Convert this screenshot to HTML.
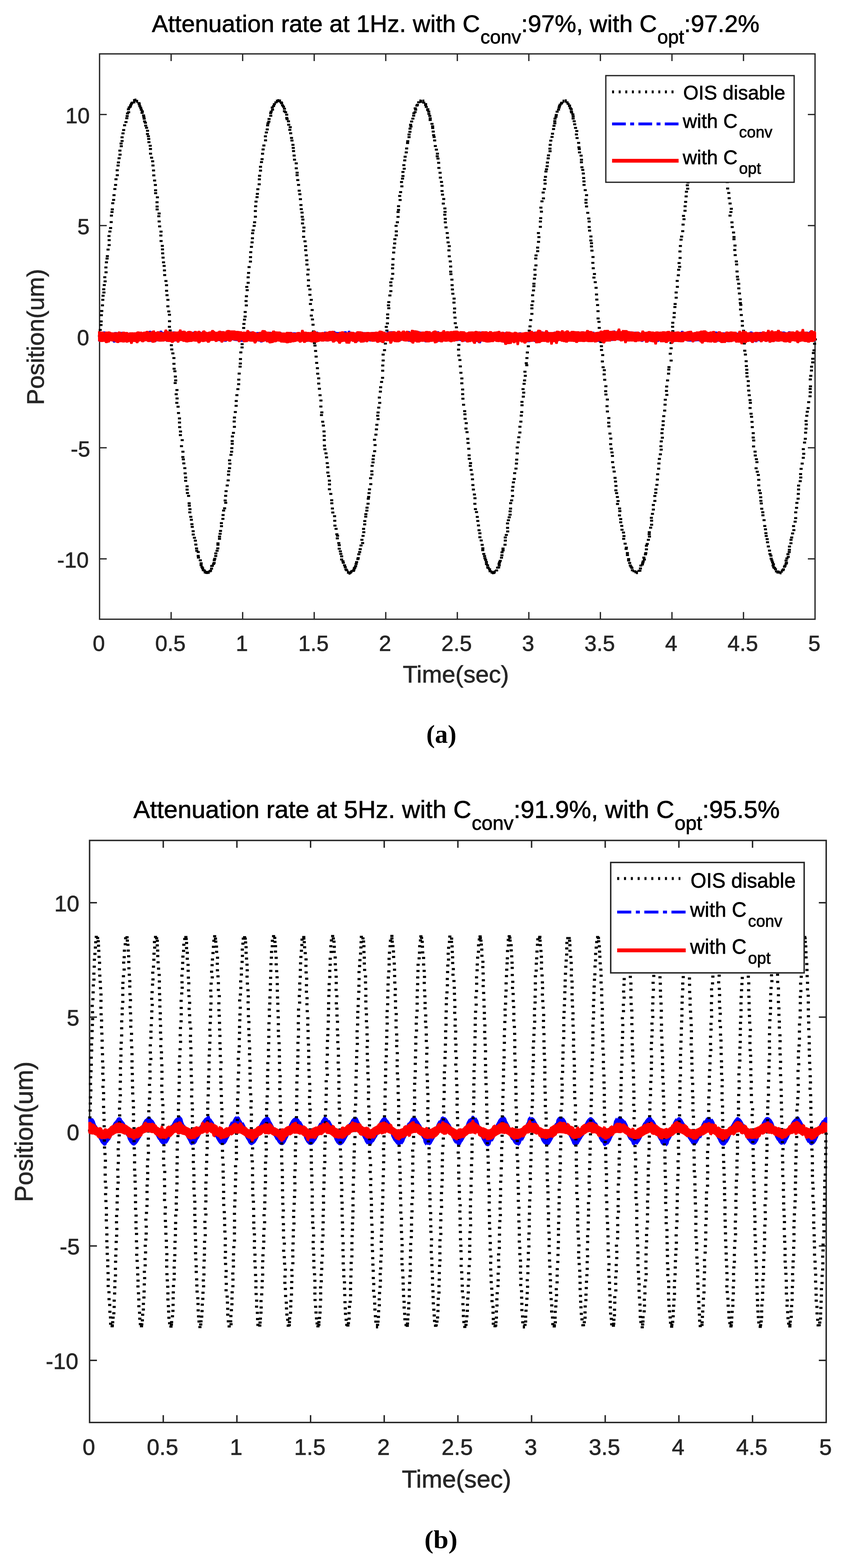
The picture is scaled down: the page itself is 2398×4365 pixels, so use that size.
<!DOCTYPE html>
<html><head><meta charset="utf-8"><title>Attenuation rate plots</title>
<style>html,body{margin:0;padding:0;background:#fff;} svg{display:block;} text{font-family:'Liberation Sans', Arial, Helvetica, sans-serif;stroke-width:1px;} text.k{stroke:#000;} text.g{stroke:#262626;} text.cap{font-family:'Liberation Serif','Times New Roman',serif;font-weight:bold;}</style></head>
<body><svg width="2398" height="4365" viewBox="0 0 2398 4365">
<rect width="2398" height="4365" fill="#fff"/>
<rect x="277.3" y="150.0" width="1992.7" height="1573.8" fill="none" stroke="#262626" stroke-width="3.6" stroke-linejoin="miter"/>
<path d="M476.6 1723.8V1703.8M476.6 150.0V170.0M675.8 1723.8V1703.8M675.8 150.0V170.0M875.1 1723.8V1703.8M875.1 150.0V170.0M1074.4 1723.8V1703.8M1074.4 150.0V170.0M1273.7 1723.8V1703.8M1273.7 150.0V170.0M1472.9 1723.8V1703.8M1472.9 150.0V170.0M1672.2 1723.8V1703.8M1672.2 150.0V170.0M1871.5 1723.8V1703.8M1871.5 150.0V170.0M2070.7 1723.8V1703.8M2070.7 150.0V170.0M277.3 1555.8H297.3M2270.0 1555.8H2250.0M277.3 1246.5H297.3M2270.0 1246.5H2250.0M277.3 937.2H297.3M2270.0 937.2H2250.0M277.3 628.0H297.3M2270.0 628.0H2250.0M277.3 318.7H297.3M2270.0 318.7H2250.0" stroke="#262626" stroke-width="3.6" fill="none"/>
<defs><clipPath id="ca"><rect x="272.3" y="145.0" width="2002.7" height="1583.8"/></clipPath></defs>
<g clip-path="url(#ca)">
<path d="M272.5 932.5h8.5v5.5h-8.5zM274.9 915.8h8.5v5.5h-8.5zM277.0 902.1h8.5v5.5h-8.5zM277.4 891.9h8.5v5.5h-8.5zM278.0 874.8h8.5v5.5h-8.5zM279.2 862.9h8.5v5.5h-8.5zM281.1 847.3h8.5v5.5h-8.5zM282.0 832.0h8.5v5.5h-8.5zM282.8 820.5h8.5v5.5h-8.5zM285.2 811.4h8.5v5.5h-8.5zM284.7 802.5h8.5v5.5h-8.5zM286.2 790.8h8.5v5.5h-8.5zM288.5 780.6h8.5v5.5h-8.5zM287.6 769.0h8.5v5.5h-8.5zM291.1 755.2h8.5v5.5h-8.5zM290.7 741.8h8.5v5.5h-8.5zM292.1 727.6h8.5v5.5h-8.5zM294.0 717.1h8.5v5.5h-8.5zM294.8 710.2h8.5v5.5h-8.5zM296.7 691.9h8.5v5.5h-8.5zM299.7 679.4h8.5v5.5h-8.5zM299.8 665.8h8.5v5.5h-8.5zM299.3 654.2h8.5v5.5h-8.5zM301.8 641.8h8.5v5.5h-8.5zM303.8 632.1h8.5v5.5h-8.5zM305.4 615.6h8.5v5.5h-8.5zM306.0 597.6h8.5v5.5h-8.5zM307.7 587.6h8.5v5.5h-8.5zM308.5 579.9h8.5v5.5h-8.5zM309.8 563.1h8.5v5.5h-8.5zM312.2 553.7h8.5v5.5h-8.5zM313.3 540.4h8.5v5.5h-8.5zM315.6 523.6h8.5v5.5h-8.5zM317.7 511.9h8.5v5.5h-8.5zM318.8 496.3h8.5v5.5h-8.5zM322.4 485.0h8.5v5.5h-8.5zM322.2 471.2h8.5v5.5h-8.5zM324.6 457.9h8.5v5.5h-8.5zM325.6 449.5h8.5v5.5h-8.5zM327.5 437.8h8.5v5.5h-8.5zM330.1 427.7h8.5v5.5h-8.5zM329.7 416.6h8.5v5.5h-8.5zM333.5 404.2h8.5v5.5h-8.5zM333.0 396.7h8.5v5.5h-8.5zM335.8 389.8h8.5v5.5h-8.5zM335.7 379.4h8.5v5.5h-8.5zM338.3 368.5h8.5v5.5h-8.5zM340.2 359.3h8.5v5.5h-8.5zM342.8 346.1h8.5v5.5h-8.5zM346.6 337.0h8.5v5.5h-8.5zM348.9 326.4h8.5v5.5h-8.5zM349.9 320.2h8.5v5.5h-8.5zM350.9 312.9h8.5v5.5h-8.5zM354.1 309.6h8.5v5.5h-8.5zM353.4 301.6h8.5v5.5h-8.5zM355.6 296.6h8.5v5.5h-8.5zM358.5 294.2h8.5v5.5h-8.5zM359.9 289.9h8.5v5.5h-8.5zM362.0 286.1h8.5v5.5h-8.5zM363.9 283.1h8.5v5.5h-8.5zM371.6 279.2h5.5v8.5h-5.5zM370.5 275.8h5.5v8.5h-5.5zM374.5 274.5h5.5v8.5h-5.5zM379.2 278.0h5.5v8.5h-5.5zM382.8 284.2h8.5v5.5h-8.5zM383.6 287.5h8.5v5.5h-8.5zM385.3 293.0h8.5v5.5h-8.5zM387.7 297.5h8.5v5.5h-8.5zM389.3 302.8h8.5v5.5h-8.5zM392.1 307.3h8.5v5.5h-8.5zM391.5 311.4h8.5v5.5h-8.5zM395.6 318.6h8.5v5.5h-8.5zM396.4 322.9h8.5v5.5h-8.5zM397.3 327.7h8.5v5.5h-8.5zM398.5 335.2h8.5v5.5h-8.5zM400.7 339.0h8.5v5.5h-8.5zM401.6 346.9h8.5v5.5h-8.5zM403.9 353.1h8.5v5.5h-8.5zM406.7 361.2h8.5v5.5h-8.5zM406.5 370.3h8.5v5.5h-8.5zM409.0 376.6h8.5v5.5h-8.5zM410.0 384.0h8.5v5.5h-8.5zM410.6 393.0h8.5v5.5h-8.5zM414.1 403.0h8.5v5.5h-8.5zM414.8 411.9h8.5v5.5h-8.5zM415.0 424.9h8.5v5.5h-8.5zM417.9 436.2h8.5v5.5h-8.5zM420.9 446.3h8.5v5.5h-8.5zM421.8 457.9h8.5v5.5h-8.5zM423.4 471.7h8.5v5.5h-8.5zM424.1 485.5h8.5v5.5h-8.5zM426.4 499.8h8.5v5.5h-8.5zM428.5 512.2h8.5v5.5h-8.5zM429.1 527.1h8.5v5.5h-8.5zM429.2 534.9h8.5v5.5h-8.5zM434.1 546.6h8.5v5.5h-8.5zM433.1 560.2h8.5v5.5h-8.5zM433.3 572.3h8.5v5.5h-8.5zM433.4 580.3h8.5v5.5h-8.5zM438.9 591.4h8.5v5.5h-8.5zM438.1 599.2h8.5v5.5h-8.5zM439.0 613.7h8.5v5.5h-8.5zM440.4 627.6h8.5v5.5h-8.5zM444.2 642.1h8.5v5.5h-8.5zM443.8 653.0h8.5v5.5h-8.5zM444.4 668.2h8.5v5.5h-8.5zM447.8 681.7h8.5v5.5h-8.5zM448.3 691.4h8.5v5.5h-8.5zM448.8 702.6h8.5v5.5h-8.5zM449.9 714.5h8.5v5.5h-8.5zM451.2 727.5h8.5v5.5h-8.5zM452.9 737.6h8.5v5.5h-8.5zM453.8 750.0h8.5v5.5h-8.5zM454.4 763.0h8.5v5.5h-8.5zM457.9 779.4h8.5v5.5h-8.5zM459.6 791.3h8.5v5.5h-8.5zM459.7 806.7h8.5v5.5h-8.5zM460.9 818.9h8.5v5.5h-8.5zM463.4 832.1h8.5v5.5h-8.5zM463.3 850.1h8.5v5.5h-8.5zM465.9 864.3h8.5v5.5h-8.5zM467.7 873.6h8.5v5.5h-8.5zM467.9 891.4h8.5v5.5h-8.5zM467.6 907.1h8.5v5.5h-8.5zM469.5 917.2h8.5v5.5h-8.5zM471.2 931.5h8.5v5.5h-8.5zM473.2 944.6h8.5v5.5h-8.5zM473.0 958.3h8.5v5.5h-8.5zM474.2 970.0h8.5v5.5h-8.5zM477.2 981.1h8.5v5.5h-8.5zM480.1 994.0h8.5v5.5h-8.5zM480.2 1009.9h8.5v5.5h-8.5zM480.7 1023.7h8.5v5.5h-8.5zM482.9 1030.7h8.5v5.5h-8.5zM484.1 1045.6h8.5v5.5h-8.5zM485.1 1056.3h8.5v5.5h-8.5zM483.7 1063.6h8.5v5.5h-8.5zM488.6 1083.1h8.5v5.5h-8.5zM486.5 1094.7h8.5v5.5h-8.5zM488.9 1106.4h8.5v5.5h-8.5zM488.2 1118.7h8.5v5.5h-8.5zM491.7 1129.5h8.5v5.5h-8.5zM492.9 1147.0h8.5v5.5h-8.5zM495.6 1161.9h8.5v5.5h-8.5zM495.7 1173.6h8.5v5.5h-8.5zM496.1 1186.3h8.5v5.5h-8.5zM498.5 1198.6h8.5v5.5h-8.5zM498.2 1208.4h8.5v5.5h-8.5zM503.2 1222.4h8.5v5.5h-8.5zM501.2 1239.3h8.5v5.5h-8.5zM505.2 1254.7h8.5v5.5h-8.5zM505.0 1269.6h8.5v5.5h-8.5zM506.3 1275.9h8.5v5.5h-8.5zM507.7 1287.2h8.5v5.5h-8.5zM510.5 1300.6h8.5v5.5h-8.5zM511.4 1315.1h8.5v5.5h-8.5zM512.8 1326.5h8.5v5.5h-8.5zM512.8 1335.8h8.5v5.5h-8.5zM516.8 1351.0h8.5v5.5h-8.5zM516.8 1360.2h8.5v5.5h-8.5zM517.8 1369.8h8.5v5.5h-8.5zM521.0 1377.8h8.5v5.5h-8.5zM522.6 1398.2h8.5v5.5h-8.5zM523.0 1405.1h8.5v5.5h-8.5zM524.8 1414.7h8.5v5.5h-8.5zM524.4 1423.4h8.5v5.5h-8.5zM527.1 1436.0h8.5v5.5h-8.5zM528.7 1444.2h8.5v5.5h-8.5zM530.2 1456.6h8.5v5.5h-8.5zM531.2 1464.0h8.5v5.5h-8.5zM533.7 1476.0h8.5v5.5h-8.5zM533.9 1485.2h8.5v5.5h-8.5zM537.2 1494.3h8.5v5.5h-8.5zM539.8 1502.2h8.5v5.5h-8.5zM541.2 1513.3h8.5v5.5h-8.5zM543.2 1524.1h8.5v5.5h-8.5zM543.9 1530.6h8.5v5.5h-8.5zM547.8 1533.9h8.5v5.5h-8.5zM547.8 1544.4h8.5v5.5h-8.5zM548.5 1549.6h8.5v5.5h-8.5zM553.6 1557.1h8.5v5.5h-8.5zM555.9 1565.2h8.5v5.5h-8.5zM555.8 1570.4h8.5v5.5h-8.5zM558.3 1576.0h8.5v5.5h-8.5zM560.1 1579.2h8.5v5.5h-8.5zM561.9 1584.3h8.5v5.5h-8.5zM564.9 1585.4h8.5v5.5h-8.5zM567.3 1587.7h5.5v8.5h-5.5zM570.6 1589.1h5.5v8.5h-5.5zM573.9 1589.5h5.5v8.5h-5.5zM578.6 1589.1h5.5v8.5h-5.5zM580.3 1587.7h8.5v5.5h-8.5zM582.1 1586.1h8.5v5.5h-8.5zM584.9 1580.3h8.5v5.5h-8.5zM585.4 1572.9h8.5v5.5h-8.5zM587.2 1572.3h8.5v5.5h-8.5zM590.6 1567.3h8.5v5.5h-8.5zM592.1 1564.2h8.5v5.5h-8.5zM592.6 1556.8h8.5v5.5h-8.5zM593.9 1552.8h8.5v5.5h-8.5zM596.6 1545.1h8.5v5.5h-8.5zM596.9 1537.7h8.5v5.5h-8.5zM600.3 1530.5h8.5v5.5h-8.5zM602.3 1523.7h8.5v5.5h-8.5zM602.8 1513.8h8.5v5.5h-8.5zM602.8 1509.7h8.5v5.5h-8.5zM607.1 1497.2h8.5v5.5h-8.5zM607.1 1490.9h8.5v5.5h-8.5zM608.8 1483.2h8.5v5.5h-8.5zM609.9 1475.2h8.5v5.5h-8.5zM612.6 1462.1h8.5v5.5h-8.5zM612.4 1453.6h8.5v5.5h-8.5zM616.5 1441.7h8.5v5.5h-8.5zM617.0 1431.1h8.5v5.5h-8.5zM618.6 1418.5h8.5v5.5h-8.5zM621.3 1412.2h8.5v5.5h-8.5zM624.4 1397.0h8.5v5.5h-8.5zM622.9 1390.5h8.5v5.5h-8.5zM624.2 1377.6h8.5v5.5h-8.5zM625.4 1364.4h8.5v5.5h-8.5zM628.6 1348.8h8.5v5.5h-8.5zM631.2 1334.5h8.5v5.5h-8.5zM632.3 1318.7h8.5v5.5h-8.5zM632.9 1309.2h8.5v5.5h-8.5zM635.0 1300.4h8.5v5.5h-8.5zM636.0 1288.0h8.5v5.5h-8.5zM635.1 1278.7h8.5v5.5h-8.5zM639.1 1263.5h8.5v5.5h-8.5zM640.9 1254.7h8.5v5.5h-8.5zM641.4 1244.8h8.5v5.5h-8.5zM642.6 1232.7h8.5v5.5h-8.5zM642.4 1224.9h8.5v5.5h-8.5zM643.0 1212.3h8.5v5.5h-8.5zM645.9 1202.2h8.5v5.5h-8.5zM648.6 1185.6h8.5v5.5h-8.5zM648.0 1170.8h8.5v5.5h-8.5zM648.8 1159.5h8.5v5.5h-8.5zM651.2 1144.3h8.5v5.5h-8.5zM653.4 1127.1h8.5v5.5h-8.5zM653.7 1113.4h8.5v5.5h-8.5zM655.5 1097.3h8.5v5.5h-8.5zM658.3 1080.6h8.5v5.5h-8.5zM660.5 1066.7h8.5v5.5h-8.5zM660.8 1054.1h8.5v5.5h-8.5zM661.9 1037.2h8.5v5.5h-8.5zM664.4 1018.0h8.5v5.5h-8.5zM665.1 1009.2h8.5v5.5h-8.5zM665.5 996.7h8.5v5.5h-8.5zM666.5 978.3h8.5v5.5h-8.5zM669.9 964.6h8.5v5.5h-8.5zM670.1 955.3h8.5v5.5h-8.5zM673.6 938.3h8.5v5.5h-8.5zM673.3 928.0h8.5v5.5h-8.5zM674.4 910.2h8.5v5.5h-8.5zM675.1 899.1h8.5v5.5h-8.5zM676.8 887.1h8.5v5.5h-8.5zM678.4 878.4h8.5v5.5h-8.5zM678.7 865.7h8.5v5.5h-8.5zM681.8 847.6h8.5v5.5h-8.5zM681.0 835.3h8.5v5.5h-8.5zM682.1 821.9h8.5v5.5h-8.5zM684.3 805.1h8.5v5.5h-8.5zM683.0 796.0h8.5v5.5h-8.5zM686.9 784.6h8.5v5.5h-8.5zM686.9 769.2h8.5v5.5h-8.5zM688.1 757.0h8.5v5.5h-8.5zM689.5 740.8h8.5v5.5h-8.5zM693.2 725.5h8.5v5.5h-8.5zM693.5 713.1h8.5v5.5h-8.5zM694.1 699.2h8.5v5.5h-8.5zM696.0 684.6h8.5v5.5h-8.5zM697.8 672.1h8.5v5.5h-8.5zM698.8 660.5h8.5v5.5h-8.5zM699.3 646.6h8.5v5.5h-8.5zM700.7 638.6h8.5v5.5h-8.5zM703.6 625.9h8.5v5.5h-8.5zM704.9 616.1h8.5v5.5h-8.5zM707.0 600.5h8.5v5.5h-8.5zM706.9 584.7h8.5v5.5h-8.5zM707.8 571.6h8.5v5.5h-8.5zM708.8 558.6h8.5v5.5h-8.5zM711.7 546.0h8.5v5.5h-8.5zM712.6 537.1h8.5v5.5h-8.5zM713.9 524.0h8.5v5.5h-8.5zM717.6 510.2h8.5v5.5h-8.5zM718.0 496.5h8.5v5.5h-8.5zM718.7 486.5h8.5v5.5h-8.5zM721.3 472.2h8.5v5.5h-8.5zM721.3 461.6h8.5v5.5h-8.5zM724.0 448.6h8.5v5.5h-8.5zM725.7 440.3h8.5v5.5h-8.5zM727.0 425.3h8.5v5.5h-8.5zM728.5 413.2h8.5v5.5h-8.5zM730.7 402.3h8.5v5.5h-8.5zM735.3 388.1h8.5v5.5h-8.5zM734.9 376.7h8.5v5.5h-8.5zM737.6 365.9h8.5v5.5h-8.5zM740.0 357.4h8.5v5.5h-8.5zM741.1 346.2h8.5v5.5h-8.5zM742.2 340.5h8.5v5.5h-8.5zM744.6 336.1h8.5v5.5h-8.5zM745.2 328.4h8.5v5.5h-8.5zM749.8 319.5h8.5v5.5h-8.5zM749.6 312.2h8.5v5.5h-8.5zM751.0 308.0h8.5v5.5h-8.5zM754.8 302.5h8.5v5.5h-8.5zM754.1 296.6h8.5v5.5h-8.5zM757.7 292.6h8.5v5.5h-8.5zM759.9 287.3h8.5v5.5h-8.5zM764.2 282.3h8.5v5.5h-8.5zM768.3 277.6h5.5v8.5h-5.5zM772.2 276.0h5.5v8.5h-5.5zM777.3 277.1h5.5v8.5h-5.5zM779.0 282.3h8.5v5.5h-8.5zM780.2 284.8h8.5v5.5h-8.5zM782.7 290.6h8.5v5.5h-8.5zM785.3 294.3h8.5v5.5h-8.5zM787.9 300.0h8.5v5.5h-8.5zM787.9 306.9h8.5v5.5h-8.5zM791.2 309.8h8.5v5.5h-8.5zM794.2 316.6h8.5v5.5h-8.5zM794.4 325.4h8.5v5.5h-8.5zM795.4 328.9h8.5v5.5h-8.5zM799.1 335.1h8.5v5.5h-8.5zM799.9 344.5h8.5v5.5h-8.5zM804.1 351.2h8.5v5.5h-8.5zM802.9 358.8h8.5v5.5h-8.5zM805.3 368.2h8.5v5.5h-8.5zM807.7 381.3h8.5v5.5h-8.5zM808.9 388.6h8.5v5.5h-8.5zM811.6 400.4h8.5v5.5h-8.5zM812.5 408.9h8.5v5.5h-8.5zM813.3 417.7h8.5v5.5h-8.5zM814.9 430.2h8.5v5.5h-8.5zM816.0 441.7h8.5v5.5h-8.5zM820.8 452.1h8.5v5.5h-8.5zM820.9 465.8h8.5v5.5h-8.5zM823.3 477.9h8.5v5.5h-8.5zM823.2 485.1h8.5v5.5h-8.5zM825.1 498.4h8.5v5.5h-8.5zM827.3 512.0h8.5v5.5h-8.5zM829.1 528.1h8.5v5.5h-8.5zM830.9 538.1h8.5v5.5h-8.5zM832.5 551.7h8.5v5.5h-8.5zM833.9 567.9h8.5v5.5h-8.5zM834.8 579.4h8.5v5.5h-8.5zM836.9 589.0h8.5v5.5h-8.5zM837.5 600.7h8.5v5.5h-8.5zM839.3 608.5h8.5v5.5h-8.5zM838.3 619.2h8.5v5.5h-8.5zM842.2 630.8h8.5v5.5h-8.5zM841.6 640.9h8.5v5.5h-8.5zM841.4 656.5h8.5v5.5h-8.5zM845.2 669.0h8.5v5.5h-8.5zM846.9 682.5h8.5v5.5h-8.5zM847.1 693.7h8.5v5.5h-8.5zM848.7 707.9h8.5v5.5h-8.5zM850.3 721.7h8.5v5.5h-8.5zM850.6 733.8h8.5v5.5h-8.5zM854.1 747.7h8.5v5.5h-8.5zM853.0 761.4h8.5v5.5h-8.5zM854.9 777.4h8.5v5.5h-8.5zM854.7 793.0h8.5v5.5h-8.5zM858.9 802.9h8.5v5.5h-8.5zM858.9 818.1h8.5v5.5h-8.5zM862.7 832.1h8.5v5.5h-8.5zM860.4 843.6h8.5v5.5h-8.5zM865.2 860.3h8.5v5.5h-8.5zM862.8 875.7h8.5v5.5h-8.5zM865.9 886.6h8.5v5.5h-8.5zM867.6 901.2h8.5v5.5h-8.5zM868.8 919.7h8.5v5.5h-8.5zM872.2 931.0h8.5v5.5h-8.5zM871.5 952.6h8.5v5.5h-8.5zM873.0 959.2h8.5v5.5h-8.5zM874.7 974.3h8.5v5.5h-8.5zM876.2 989.9h8.5v5.5h-8.5zM877.7 1007.6h8.5v5.5h-8.5zM879.8 1022.2h8.5v5.5h-8.5zM880.6 1037.4h8.5v5.5h-8.5zM883.4 1050.5h8.5v5.5h-8.5zM883.4 1064.9h8.5v5.5h-8.5zM885.3 1079.5h8.5v5.5h-8.5zM887.1 1097.6h8.5v5.5h-8.5zM889.6 1112.3h8.5v5.5h-8.5zM889.4 1128.9h8.5v5.5h-8.5zM892.1 1145.2h8.5v5.5h-8.5zM891.1 1152.8h8.5v5.5h-8.5zM894.5 1171.2h8.5v5.5h-8.5zM896.3 1182.0h8.5v5.5h-8.5zM898.2 1198.3h8.5v5.5h-8.5zM898.7 1210.4h8.5v5.5h-8.5zM898.9 1222.2h8.5v5.5h-8.5zM899.3 1237.8h8.5v5.5h-8.5zM900.6 1247.9h8.5v5.5h-8.5zM903.6 1259.3h8.5v5.5h-8.5zM905.3 1270.4h8.5v5.5h-8.5zM907.1 1286.5h8.5v5.5h-8.5zM908.6 1297.7h8.5v5.5h-8.5zM908.8 1312.7h8.5v5.5h-8.5zM911.0 1322.6h8.5v5.5h-8.5zM913.2 1335.2h8.5v5.5h-8.5zM913.4 1345.7h8.5v5.5h-8.5zM913.2 1359.3h8.5v5.5h-8.5zM917.0 1372.3h8.5v5.5h-8.5zM919.6 1389.8h8.5v5.5h-8.5zM919.9 1398.3h8.5v5.5h-8.5zM921.5 1412.8h8.5v5.5h-8.5zM922.7 1423.9h8.5v5.5h-8.5zM927.6 1434.3h8.5v5.5h-8.5zM928.1 1446.9h8.5v5.5h-8.5zM928.6 1460.4h8.5v5.5h-8.5zM931.8 1469.5h8.5v5.5h-8.5zM933.9 1484.5h8.5v5.5h-8.5zM935.9 1488.8h8.5v5.5h-8.5zM935.2 1495.9h8.5v5.5h-8.5zM939.3 1508.9h8.5v5.5h-8.5zM940.5 1515.0h8.5v5.5h-8.5zM940.5 1524.8h8.5v5.5h-8.5zM943.6 1531.9h8.5v5.5h-8.5zM945.0 1539.2h8.5v5.5h-8.5zM947.3 1546.1h8.5v5.5h-8.5zM947.2 1554.8h8.5v5.5h-8.5zM950.9 1559.5h8.5v5.5h-8.5zM951.9 1563.9h8.5v5.5h-8.5zM955.4 1571.1h8.5v5.5h-8.5zM957.4 1576.3h8.5v5.5h-8.5zM959.3 1582.5h8.5v5.5h-8.5zM961.4 1584.8h8.5v5.5h-8.5zM966.3 1588.8h5.5v8.5h-5.5zM970.6 1591.2h5.5v8.5h-5.5zM973.7 1589.3h5.5v8.5h-5.5zM976.2 1586.7h5.5v8.5h-5.5zM980.0 1586.4h8.5v5.5h-8.5zM981.2 1584.0h8.5v5.5h-8.5zM982.5 1579.4h8.5v5.5h-8.5zM984.0 1577.5h8.5v5.5h-8.5zM986.1 1573.3h8.5v5.5h-8.5zM987.6 1567.3h8.5v5.5h-8.5zM989.0 1561.9h8.5v5.5h-8.5zM992.5 1553.8h8.5v5.5h-8.5zM993.3 1550.8h8.5v5.5h-8.5zM995.1 1540.3h8.5v5.5h-8.5zM997.5 1533.9h8.5v5.5h-8.5zM999.0 1526.1h8.5v5.5h-8.5zM1001.3 1515.7h8.5v5.5h-8.5zM1005.7 1509.1h8.5v5.5h-8.5zM1003.7 1499.9h8.5v5.5h-8.5zM1006.9 1489.0h8.5v5.5h-8.5zM1009.0 1478.8h8.5v5.5h-8.5zM1008.4 1469.6h8.5v5.5h-8.5zM1011.5 1456.9h8.5v5.5h-8.5zM1011.7 1447.8h8.5v5.5h-8.5zM1014.4 1435.6h8.5v5.5h-8.5zM1014.7 1428.6h8.5v5.5h-8.5zM1017.5 1418.7h8.5v5.5h-8.5zM1018.0 1410.5h8.5v5.5h-8.5zM1020.8 1399.6h8.5v5.5h-8.5zM1021.5 1385.7h8.5v5.5h-8.5zM1022.5 1380.6h8.5v5.5h-8.5zM1023.6 1370.0h8.5v5.5h-8.5zM1024.9 1359.4h8.5v5.5h-8.5zM1028.4 1345.1h8.5v5.5h-8.5zM1027.9 1328.6h8.5v5.5h-8.5zM1031.6 1318.3h8.5v5.5h-8.5zM1031.4 1309.0h8.5v5.5h-8.5zM1032.2 1294.0h8.5v5.5h-8.5zM1034.6 1284.5h8.5v5.5h-8.5zM1034.9 1275.8h8.5v5.5h-8.5zM1036.0 1266.0h8.5v5.5h-8.5zM1039.2 1253.3h8.5v5.5h-8.5zM1040.4 1236.3h8.5v5.5h-8.5zM1038.8 1221.6h8.5v5.5h-8.5zM1042.7 1207.3h8.5v5.5h-8.5zM1044.1 1192.5h8.5v5.5h-8.5zM1045.4 1179.7h8.5v5.5h-8.5zM1048.8 1164.1h8.5v5.5h-8.5zM1047.7 1154.4h8.5v5.5h-8.5zM1048.7 1145.6h8.5v5.5h-8.5zM1050.7 1132.1h8.5v5.5h-8.5zM1053.3 1118.7h8.5v5.5h-8.5zM1052.3 1103.9h8.5v5.5h-8.5zM1055.1 1087.5h8.5v5.5h-8.5zM1055.9 1075.3h8.5v5.5h-8.5zM1058.5 1060.5h8.5v5.5h-8.5zM1061.3 1048.9h8.5v5.5h-8.5zM1061.6 1029.3h8.5v5.5h-8.5zM1061.8 1014.8h8.5v5.5h-8.5zM1062.9 1000.7h8.5v5.5h-8.5zM1062.8 984.5h8.5v5.5h-8.5zM1066.7 972.1h8.5v5.5h-8.5zM1069.0 953.7h8.5v5.5h-8.5zM1069.8 942.6h8.5v5.5h-8.5zM1070.0 927.3h8.5v5.5h-8.5zM1073.3 917.5h8.5v5.5h-8.5zM1071.6 907.2h8.5v5.5h-8.5zM1074.7 897.6h8.5v5.5h-8.5zM1075.4 882.8h8.5v5.5h-8.5zM1075.5 872.4h8.5v5.5h-8.5zM1078.6 855.3h8.5v5.5h-8.5zM1077.6 847.2h8.5v5.5h-8.5zM1078.6 838.2h8.5v5.5h-8.5zM1081.6 819.7h8.5v5.5h-8.5zM1084.3 807.7h8.5v5.5h-8.5zM1084.6 792.5h8.5v5.5h-8.5zM1084.2 783.2h8.5v5.5h-8.5zM1087.5 773.2h8.5v5.5h-8.5zM1089.6 759.6h8.5v5.5h-8.5zM1089.1 744.2h8.5v5.5h-8.5zM1089.8 734.0h8.5v5.5h-8.5zM1090.4 718.6h8.5v5.5h-8.5zM1092.2 700.2h8.5v5.5h-8.5zM1093.3 687.0h8.5v5.5h-8.5zM1095.0 674.9h8.5v5.5h-8.5zM1095.5 662.9h8.5v5.5h-8.5zM1099.4 652.4h8.5v5.5h-8.5zM1099.5 641.3h8.5v5.5h-8.5zM1098.9 625.9h8.5v5.5h-8.5zM1102.5 616.1h8.5v5.5h-8.5zM1104.4 601.0h8.5v5.5h-8.5zM1104.4 587.6h8.5v5.5h-8.5zM1105.7 581.5h8.5v5.5h-8.5zM1105.8 571.2h8.5v5.5h-8.5zM1110.1 554.0h8.5v5.5h-8.5zM1109.0 542.7h8.5v5.5h-8.5zM1111.5 531.9h8.5v5.5h-8.5zM1115.0 515.9h8.5v5.5h-8.5zM1114.0 504.0h8.5v5.5h-8.5zM1116.8 494.6h8.5v5.5h-8.5zM1118.0 487.2h8.5v5.5h-8.5zM1118.0 475.9h8.5v5.5h-8.5zM1121.6 466.9h8.5v5.5h-8.5zM1120.5 456.9h8.5v5.5h-8.5zM1123.0 443.7h8.5v5.5h-8.5zM1124.1 433.6h8.5v5.5h-8.5zM1127.2 421.6h8.5v5.5h-8.5zM1128.4 410.4h8.5v5.5h-8.5zM1130.9 395.4h8.5v5.5h-8.5zM1131.4 390.3h8.5v5.5h-8.5zM1135.0 379.0h8.5v5.5h-8.5zM1135.0 371.8h8.5v5.5h-8.5zM1137.4 364.3h8.5v5.5h-8.5zM1137.8 355.5h8.5v5.5h-8.5zM1140.3 349.4h8.5v5.5h-8.5zM1139.3 344.6h8.5v5.5h-8.5zM1142.3 335.5h8.5v5.5h-8.5zM1145.6 327.5h8.5v5.5h-8.5zM1147.9 319.3h8.5v5.5h-8.5zM1148.5 312.4h8.5v5.5h-8.5zM1151.8 309.2h8.5v5.5h-8.5zM1153.5 302.5h8.5v5.5h-8.5zM1152.2 298.8h8.5v5.5h-8.5zM1156.9 291.3h8.5v5.5h-8.5zM1158.3 289.1h8.5v5.5h-8.5zM1161.8 281.9h8.5v5.5h-8.5zM1168.0 277.1h5.5v8.5h-5.5zM1170.1 277.9h5.5v8.5h-5.5zM1176.4 277.2h5.5v8.5h-5.5zM1176.0 283.1h8.5v5.5h-8.5zM1181.1 287.0h8.5v5.5h-8.5zM1181.1 289.7h8.5v5.5h-8.5zM1183.1 295.1h8.5v5.5h-8.5zM1187.3 301.2h8.5v5.5h-8.5zM1186.9 303.8h8.5v5.5h-8.5zM1189.8 307.9h8.5v5.5h-8.5zM1190.3 314.2h8.5v5.5h-8.5zM1192.7 320.1h8.5v5.5h-8.5zM1194.0 326.8h8.5v5.5h-8.5zM1193.9 331.4h8.5v5.5h-8.5zM1198.8 341.9h8.5v5.5h-8.5zM1200.7 349.1h8.5v5.5h-8.5zM1200.8 353.8h8.5v5.5h-8.5zM1202.3 363.4h8.5v5.5h-8.5zM1203.5 373.5h8.5v5.5h-8.5zM1204.8 378.8h8.5v5.5h-8.5zM1206.4 388.2h8.5v5.5h-8.5zM1208.2 403.7h8.5v5.5h-8.5zM1211.1 413.7h8.5v5.5h-8.5zM1214.0 424.9h8.5v5.5h-8.5zM1213.5 432.2h8.5v5.5h-8.5zM1215.5 438.7h8.5v5.5h-8.5zM1217.5 450.6h8.5v5.5h-8.5zM1218.1 464.8h8.5v5.5h-8.5zM1221.4 478.3h8.5v5.5h-8.5zM1222.2 491.7h8.5v5.5h-8.5zM1225.3 503.7h8.5v5.5h-8.5zM1226.7 514.5h8.5v5.5h-8.5zM1226.9 529.1h8.5v5.5h-8.5zM1228.2 538.9h8.5v5.5h-8.5zM1231.6 551.3h8.5v5.5h-8.5zM1230.4 564.0h8.5v5.5h-8.5zM1234.8 577.4h8.5v5.5h-8.5zM1235.3 586.9h8.5v5.5h-8.5zM1234.5 595.1h8.5v5.5h-8.5zM1235.9 606.6h8.5v5.5h-8.5zM1236.0 616.2h8.5v5.5h-8.5zM1237.9 630.3h8.5v5.5h-8.5zM1241.3 646.0h8.5v5.5h-8.5zM1242.4 659.0h8.5v5.5h-8.5zM1243.8 672.1h8.5v5.5h-8.5zM1247.0 682.4h8.5v5.5h-8.5zM1246.0 694.3h8.5v5.5h-8.5zM1247.0 710.7h8.5v5.5h-8.5zM1249.8 725.1h8.5v5.5h-8.5zM1250.9 739.2h8.5v5.5h-8.5zM1251.0 753.4h8.5v5.5h-8.5zM1251.6 760.4h8.5v5.5h-8.5zM1254.4 775.7h8.5v5.5h-8.5zM1254.9 791.1h8.5v5.5h-8.5zM1255.7 803.1h8.5v5.5h-8.5zM1257.0 814.9h8.5v5.5h-8.5zM1260.5 828.4h8.5v5.5h-8.5zM1260.1 839.8h8.5v5.5h-8.5zM1261.9 856.1h8.5v5.5h-8.5zM1261.4 867.2h8.5v5.5h-8.5zM1263.0 881.5h8.5v5.5h-8.5zM1263.8 896.9h8.5v5.5h-8.5zM1266.9 908.5h8.5v5.5h-8.5zM1267.9 927.1h8.5v5.5h-8.5zM1268.0 941.8h8.5v5.5h-8.5zM1273.8 957.3h8.5v5.5h-8.5zM1272.8 970.4h8.5v5.5h-8.5zM1273.6 986.7h8.5v5.5h-8.5zM1276.6 999.4h8.5v5.5h-8.5zM1277.8 1017.2h8.5v5.5h-8.5zM1279.4 1035.0h8.5v5.5h-8.5zM1282.1 1050.7h8.5v5.5h-8.5zM1282.0 1064.3h8.5v5.5h-8.5zM1284.3 1081.4h8.5v5.5h-8.5zM1284.3 1094.4h8.5v5.5h-8.5zM1285.0 1107.2h8.5v5.5h-8.5zM1286.9 1123.9h8.5v5.5h-8.5zM1289.9 1141.8h8.5v5.5h-8.5zM1290.6 1150.5h8.5v5.5h-8.5zM1291.2 1163.1h8.5v5.5h-8.5zM1294.3 1175.3h8.5v5.5h-8.5zM1293.5 1190.3h8.5v5.5h-8.5zM1296.5 1200.3h8.5v5.5h-8.5zM1298.6 1218.7h8.5v5.5h-8.5zM1299.3 1230.6h8.5v5.5h-8.5zM1301.4 1246.5h8.5v5.5h-8.5zM1302.2 1264.8h8.5v5.5h-8.5zM1302.8 1274.6h8.5v5.5h-8.5zM1306.3 1286.4h8.5v5.5h-8.5zM1305.5 1294.2h8.5v5.5h-8.5zM1307.9 1305.5h8.5v5.5h-8.5zM1310.3 1318.0h8.5v5.5h-8.5zM1311.7 1331.6h8.5v5.5h-8.5zM1312.8 1347.6h8.5v5.5h-8.5zM1314.2 1359.9h8.5v5.5h-8.5zM1317.0 1373.7h8.5v5.5h-8.5zM1318.6 1384.2h8.5v5.5h-8.5zM1318.3 1399.7h8.5v5.5h-8.5zM1319.9 1414.5h8.5v5.5h-8.5zM1322.9 1422.7h8.5v5.5h-8.5zM1325.1 1436.3h8.5v5.5h-8.5zM1326.5 1447.4h8.5v5.5h-8.5zM1328.4 1459.9h8.5v5.5h-8.5zM1330.0 1473.3h8.5v5.5h-8.5zM1332.3 1481.8h8.5v5.5h-8.5zM1332.3 1492.7h8.5v5.5h-8.5zM1335.9 1501.8h8.5v5.5h-8.5zM1338.6 1514.0h8.5v5.5h-8.5zM1340.5 1523.6h8.5v5.5h-8.5zM1340.3 1528.9h8.5v5.5h-8.5zM1343.1 1539.3h8.5v5.5h-8.5zM1345.3 1545.2h8.5v5.5h-8.5zM1346.4 1551.2h8.5v5.5h-8.5zM1348.3 1556.1h8.5v5.5h-8.5zM1350.4 1561.7h8.5v5.5h-8.5zM1350.7 1567.5h8.5v5.5h-8.5zM1353.7 1571.1h8.5v5.5h-8.5zM1354.3 1577.0h8.5v5.5h-8.5zM1355.7 1578.3h8.5v5.5h-8.5zM1359.3 1582.1h8.5v5.5h-8.5zM1360.8 1587.5h8.5v5.5h-8.5zM1366.1 1588.2h5.5v8.5h-5.5zM1369.9 1589.9h5.5v8.5h-5.5zM1373.3 1589.5h5.5v8.5h-5.5zM1375.3 1587.8h5.5v8.5h-5.5zM1378.9 1585.2h8.5v5.5h-8.5zM1381.7 1577.6h8.5v5.5h-8.5zM1384.6 1576.9h8.5v5.5h-8.5zM1386.1 1571.1h8.5v5.5h-8.5zM1385.8 1566.6h8.5v5.5h-8.5zM1387.2 1562.3h8.5v5.5h-8.5zM1389.0 1558.4h8.5v5.5h-8.5zM1392.5 1549.8h8.5v5.5h-8.5zM1393.6 1543.1h8.5v5.5h-8.5zM1394.0 1534.7h8.5v5.5h-8.5zM1396.8 1529.6h8.5v5.5h-8.5zM1396.7 1524.3h8.5v5.5h-8.5zM1402.3 1513.8h8.5v5.5h-8.5zM1403.1 1501.9h8.5v5.5h-8.5zM1403.0 1493.6h8.5v5.5h-8.5zM1405.9 1486.5h8.5v5.5h-8.5zM1409.8 1476.8h8.5v5.5h-8.5zM1409.4 1466.7h8.5v5.5h-8.5zM1409.3 1454.2h8.5v5.5h-8.5zM1411.7 1445.5h8.5v5.5h-8.5zM1414.0 1437.3h8.5v5.5h-8.5zM1416.4 1430.0h8.5v5.5h-8.5zM1416.5 1420.7h8.5v5.5h-8.5zM1417.7 1412.9h8.5v5.5h-8.5zM1418.0 1397.9h8.5v5.5h-8.5zM1420.8 1390.3h8.5v5.5h-8.5zM1423.4 1378.1h8.5v5.5h-8.5zM1422.8 1363.0h8.5v5.5h-8.5zM1424.2 1352.5h8.5v5.5h-8.5zM1425.7 1340.1h8.5v5.5h-8.5zM1428.1 1330.5h8.5v5.5h-8.5zM1429.2 1314.5h8.5v5.5h-8.5zM1432.8 1301.7h8.5v5.5h-8.5zM1434.1 1287.8h8.5v5.5h-8.5zM1434.8 1276.7h8.5v5.5h-8.5zM1436.3 1259.5h8.5v5.5h-8.5zM1436.3 1243.0h8.5v5.5h-8.5zM1439.0 1228.5h8.5v5.5h-8.5zM1440.8 1214.4h8.5v5.5h-8.5zM1443.6 1201.2h8.5v5.5h-8.5zM1443.8 1185.2h8.5v5.5h-8.5zM1446.4 1171.0h8.5v5.5h-8.5zM1447.5 1154.2h8.5v5.5h-8.5zM1448.8 1144.3h8.5v5.5h-8.5zM1449.6 1125.5h8.5v5.5h-8.5zM1449.5 1116.1h8.5v5.5h-8.5zM1453.2 1101.5h8.5v5.5h-8.5zM1454.4 1090.3h8.5v5.5h-8.5zM1452.5 1080.4h8.5v5.5h-8.5zM1455.4 1065.8h8.5v5.5h-8.5zM1456.8 1056.3h8.5v5.5h-8.5zM1458.8 1043.5h8.5v5.5h-8.5zM1457.8 1032.1h8.5v5.5h-8.5zM1462.9 1014.0h8.5v5.5h-8.5zM1461.5 1008.2h8.5v5.5h-8.5zM1463.3 993.9h8.5v5.5h-8.5zM1464.5 978.5h8.5v5.5h-8.5zM1467.2 961.3h8.5v5.5h-8.5zM1468.3 946.9h8.5v5.5h-8.5zM1470.4 929.7h8.5v5.5h-8.5zM1469.8 917.7h8.5v5.5h-8.5zM1472.0 905.7h8.5v5.5h-8.5zM1473.9 888.2h8.5v5.5h-8.5zM1477.1 870.9h8.5v5.5h-8.5zM1477.1 855.7h8.5v5.5h-8.5zM1477.2 846.8h8.5v5.5h-8.5zM1479.6 836.1h8.5v5.5h-8.5zM1479.2 819.3h8.5v5.5h-8.5zM1481.6 805.8h8.5v5.5h-8.5zM1482.7 793.9h8.5v5.5h-8.5zM1482.8 787.1h8.5v5.5h-8.5zM1484.3 772.9h8.5v5.5h-8.5zM1486.0 762.3h8.5v5.5h-8.5zM1485.5 747.9h8.5v5.5h-8.5zM1488.4 736.0h8.5v5.5h-8.5zM1487.9 717.1h8.5v5.5h-8.5zM1488.7 708.3h8.5v5.5h-8.5zM1493.3 696.5h8.5v5.5h-8.5zM1493.2 686.6h8.5v5.5h-8.5zM1495.6 670.4h8.5v5.5h-8.5zM1496.7 657.2h8.5v5.5h-8.5zM1495.3 646.0h8.5v5.5h-8.5zM1500.7 628.8h8.5v5.5h-8.5zM1500.8 614.1h8.5v5.5h-8.5zM1501.7 604.5h8.5v5.5h-8.5zM1503.7 586.4h8.5v5.5h-8.5zM1502.2 575.3h8.5v5.5h-8.5zM1505.2 557.7h8.5v5.5h-8.5zM1509.3 549.6h8.5v5.5h-8.5zM1508.5 533.3h8.5v5.5h-8.5zM1511.9 523.2h8.5v5.5h-8.5zM1514.0 508.4h8.5v5.5h-8.5zM1513.3 498.4h8.5v5.5h-8.5zM1514.9 489.6h8.5v5.5h-8.5zM1516.3 474.8h8.5v5.5h-8.5zM1517.8 468.4h8.5v5.5h-8.5zM1519.7 459.9h8.5v5.5h-8.5zM1520.4 449.7h8.5v5.5h-8.5zM1522.5 438.1h8.5v5.5h-8.5zM1523.4 429.7h8.5v5.5h-8.5zM1527.7 418.2h8.5v5.5h-8.5zM1527.4 411.0h8.5v5.5h-8.5zM1528.1 400.4h8.5v5.5h-8.5zM1529.8 388.7h8.5v5.5h-8.5zM1533.2 378.4h8.5v5.5h-8.5zM1534.6 369.5h8.5v5.5h-8.5zM1537.4 356.6h8.5v5.5h-8.5zM1538.8 347.5h8.5v5.5h-8.5zM1541.0 340.4h8.5v5.5h-8.5zM1540.9 334.6h8.5v5.5h-8.5zM1541.6 327.6h8.5v5.5h-8.5zM1544.2 322.6h8.5v5.5h-8.5zM1545.0 317.2h8.5v5.5h-8.5zM1547.5 308.2h8.5v5.5h-8.5zM1551.3 302.4h8.5v5.5h-8.5zM1552.9 296.8h8.5v5.5h-8.5zM1554.0 292.6h8.5v5.5h-8.5zM1555.8 288.7h8.5v5.5h-8.5zM1559.2 285.4h8.5v5.5h-8.5zM1560.4 283.2h8.5v5.5h-8.5zM1566.7 277.4h5.5v8.5h-5.5zM1573.0 276.5h5.5v8.5h-5.5zM1575.0 282.0h8.5v5.5h-8.5zM1578.1 286.5h8.5v5.5h-8.5zM1581.8 291.0h8.5v5.5h-8.5zM1582.0 292.4h8.5v5.5h-8.5zM1584.2 298.2h8.5v5.5h-8.5zM1586.6 301.2h8.5v5.5h-8.5zM1587.0 307.5h8.5v5.5h-8.5zM1587.9 310.3h8.5v5.5h-8.5zM1591.2 315.6h8.5v5.5h-8.5zM1592.1 321.2h8.5v5.5h-8.5zM1592.0 327.3h8.5v5.5h-8.5zM1594.9 334.7h8.5v5.5h-8.5zM1596.4 343.2h8.5v5.5h-8.5zM1598.7 353.2h8.5v5.5h-8.5zM1602.2 362.1h8.5v5.5h-8.5zM1601.1 371.5h8.5v5.5h-8.5zM1603.0 381.6h8.5v5.5h-8.5zM1607.3 394.9h8.5v5.5h-8.5zM1608.2 407.2h8.5v5.5h-8.5zM1609.1 412.3h8.5v5.5h-8.5zM1609.8 421.4h8.5v5.5h-8.5zM1614.1 430.5h8.5v5.5h-8.5zM1615.2 441.9h8.5v5.5h-8.5zM1615.0 448.9h8.5v5.5h-8.5zM1616.5 462.7h8.5v5.5h-8.5zM1618.8 470.2h8.5v5.5h-8.5zM1620.3 480.2h8.5v5.5h-8.5zM1621.4 492.8h8.5v5.5h-8.5zM1622.2 502.2h8.5v5.5h-8.5zM1622.4 512.0h8.5v5.5h-8.5zM1625.7 526.4h8.5v5.5h-8.5zM1629.4 540.6h8.5v5.5h-8.5zM1627.8 553.6h8.5v5.5h-8.5zM1627.8 561.7h8.5v5.5h-8.5zM1629.4 571.9h8.5v5.5h-8.5zM1632.7 589.8h8.5v5.5h-8.5zM1635.6 605.5h8.5v5.5h-8.5zM1636.7 614.1h8.5v5.5h-8.5zM1636.7 629.3h8.5v5.5h-8.5zM1637.9 639.3h8.5v5.5h-8.5zM1641.5 655.6h8.5v5.5h-8.5zM1641.4 666.7h8.5v5.5h-8.5zM1643.1 674.3h8.5v5.5h-8.5zM1643.0 683.2h8.5v5.5h-8.5zM1644.4 694.9h8.5v5.5h-8.5zM1647.3 712.7h8.5v5.5h-8.5zM1646.9 729.0h8.5v5.5h-8.5zM1648.0 744.1h8.5v5.5h-8.5zM1651.4 760.0h8.5v5.5h-8.5zM1649.9 770.0h8.5v5.5h-8.5zM1653.6 782.7h8.5v5.5h-8.5zM1655.9 798.4h8.5v5.5h-8.5zM1657.1 817.1h8.5v5.5h-8.5zM1658.0 831.2h8.5v5.5h-8.5zM1660.1 846.4h8.5v5.5h-8.5zM1661.3 863.6h8.5v5.5h-8.5zM1661.5 883.7h8.5v5.5h-8.5zM1664.0 893.2h8.5v5.5h-8.5zM1664.7 909.9h8.5v5.5h-8.5zM1668.3 923.6h8.5v5.5h-8.5zM1668.8 934.1h8.5v5.5h-8.5zM1669.2 949.6h8.5v5.5h-8.5zM1670.8 961.1h8.5v5.5h-8.5zM1671.1 971.5h8.5v5.5h-8.5zM1674.3 985.8h8.5v5.5h-8.5zM1673.4 1003.5h8.5v5.5h-8.5zM1675.5 1019.5h8.5v5.5h-8.5zM1678.9 1027.7h8.5v5.5h-8.5zM1678.4 1039.4h8.5v5.5h-8.5zM1680.0 1054.5h8.5v5.5h-8.5zM1683.2 1072.5h8.5v5.5h-8.5zM1682.6 1086.3h8.5v5.5h-8.5zM1683.4 1095.5h8.5v5.5h-8.5zM1687.3 1109.4h8.5v5.5h-8.5zM1686.4 1128.0h8.5v5.5h-8.5zM1687.5 1142.7h8.5v5.5h-8.5zM1691.4 1161.0h8.5v5.5h-8.5zM1691.0 1173.9h8.5v5.5h-8.5zM1691.8 1184.2h8.5v5.5h-8.5zM1694.6 1204.3h8.5v5.5h-8.5zM1696.9 1218.3h8.5v5.5h-8.5zM1696.4 1233.8h8.5v5.5h-8.5zM1698.0 1246.5h8.5v5.5h-8.5zM1700.2 1256.7h8.5v5.5h-8.5zM1701.5 1266.5h8.5v5.5h-8.5zM1701.9 1283.7h8.5v5.5h-8.5zM1703.9 1298.3h8.5v5.5h-8.5zM1706.3 1310.0h8.5v5.5h-8.5zM1708.7 1327.4h8.5v5.5h-8.5zM1710.0 1337.8h8.5v5.5h-8.5zM1711.3 1350.1h8.5v5.5h-8.5zM1711.0 1362.2h8.5v5.5h-8.5zM1713.1 1370.1h8.5v5.5h-8.5zM1715.3 1380.8h8.5v5.5h-8.5zM1717.2 1392.0h8.5v5.5h-8.5zM1715.6 1400.3h8.5v5.5h-8.5zM1721.4 1412.7h8.5v5.5h-8.5zM1722.1 1420.0h8.5v5.5h-8.5zM1721.1 1431.9h8.5v5.5h-8.5zM1724.5 1442.3h8.5v5.5h-8.5zM1724.6 1451.3h8.5v5.5h-8.5zM1727.4 1461.2h8.5v5.5h-8.5zM1728.1 1472.1h8.5v5.5h-8.5zM1732.2 1479.7h8.5v5.5h-8.5zM1733.6 1489.4h8.5v5.5h-8.5zM1732.8 1497.3h8.5v5.5h-8.5zM1736.8 1510.7h8.5v5.5h-8.5zM1740.3 1521.7h8.5v5.5h-8.5zM1739.5 1525.6h8.5v5.5h-8.5zM1743.1 1536.8h8.5v5.5h-8.5zM1743.3 1542.6h8.5v5.5h-8.5zM1746.6 1553.6h8.5v5.5h-8.5zM1746.5 1557.6h8.5v5.5h-8.5zM1749.4 1564.4h8.5v5.5h-8.5zM1751.3 1571.5h8.5v5.5h-8.5zM1753.4 1575.0h8.5v5.5h-8.5zM1755.6 1578.2h8.5v5.5h-8.5zM1757.1 1584.8h8.5v5.5h-8.5zM1761.6 1587.4h8.5v5.5h-8.5zM1767.0 1587.4h5.5v8.5h-5.5zM1771.3 1589.8h5.5v8.5h-5.5zM1775.2 1586.6h8.5v5.5h-8.5zM1777.9 1585.9h8.5v5.5h-8.5zM1779.4 1579.7h8.5v5.5h-8.5zM1780.7 1571.8h8.5v5.5h-8.5zM1784.8 1568.8h8.5v5.5h-8.5zM1785.9 1563.9h8.5v5.5h-8.5zM1787.1 1560.2h8.5v5.5h-8.5zM1790.4 1554.9h8.5v5.5h-8.5zM1789.0 1549.4h8.5v5.5h-8.5zM1793.4 1540.5h8.5v5.5h-8.5zM1794.3 1536.9h8.5v5.5h-8.5zM1796.1 1526.5h8.5v5.5h-8.5zM1796.1 1516.6h8.5v5.5h-8.5zM1798.4 1511.6h8.5v5.5h-8.5zM1801.6 1500.0h8.5v5.5h-8.5zM1804.6 1491.0h8.5v5.5h-8.5zM1803.8 1484.6h8.5v5.5h-8.5zM1804.1 1478.7h8.5v5.5h-8.5zM1807.9 1466.3h8.5v5.5h-8.5zM1810.6 1457.9h8.5v5.5h-8.5zM1810.6 1446.7h8.5v5.5h-8.5zM1809.9 1438.8h8.5v5.5h-8.5zM1812.9 1427.7h8.5v5.5h-8.5zM1815.4 1415.7h8.5v5.5h-8.5zM1815.4 1403.0h8.5v5.5h-8.5zM1819.6 1391.8h8.5v5.5h-8.5zM1819.5 1378.1h8.5v5.5h-8.5zM1822.1 1369.2h8.5v5.5h-8.5zM1822.5 1359.5h8.5v5.5h-8.5zM1825.3 1346.9h8.5v5.5h-8.5zM1826.6 1332.2h8.5v5.5h-8.5zM1827.5 1317.4h8.5v5.5h-8.5zM1830.3 1302.1h8.5v5.5h-8.5zM1830.9 1287.5h8.5v5.5h-8.5zM1832.2 1274.7h8.5v5.5h-8.5zM1835.0 1262.1h8.5v5.5h-8.5zM1837.2 1249.1h8.5v5.5h-8.5zM1836.5 1239.6h8.5v5.5h-8.5zM1837.4 1226.0h8.5v5.5h-8.5zM1840.5 1215.8h8.5v5.5h-8.5zM1839.3 1203.0h8.5v5.5h-8.5zM1840.4 1192.1h8.5v5.5h-8.5zM1842.6 1180.8h8.5v5.5h-8.5zM1842.8 1169.7h8.5v5.5h-8.5zM1844.4 1155.7h8.5v5.5h-8.5zM1847.0 1140.2h8.5v5.5h-8.5zM1848.0 1123.7h8.5v5.5h-8.5zM1848.7 1109.9h8.5v5.5h-8.5zM1853.0 1096.5h8.5v5.5h-8.5zM1851.9 1085.5h8.5v5.5h-8.5zM1852.6 1073.2h8.5v5.5h-8.5zM1855.0 1056.2h8.5v5.5h-8.5zM1857.8 1037.4h8.5v5.5h-8.5zM1858.5 1026.0h8.5v5.5h-8.5zM1859.0 1019.2h8.5v5.5h-8.5zM1864.9 1000.9h8.5v5.5h-8.5zM1862.5 982.1h8.5v5.5h-8.5zM1864.9 966.8h8.5v5.5h-8.5zM1864.7 952.1h8.5v5.5h-8.5zM1865.7 938.7h8.5v5.5h-8.5zM1869.7 919.1h8.5v5.5h-8.5zM1869.1 907.1h8.5v5.5h-8.5zM1869.5 895.8h8.5v5.5h-8.5zM1873.0 880.4h8.5v5.5h-8.5zM1873.7 868.6h8.5v5.5h-8.5zM1875.4 852.0h8.5v5.5h-8.5zM1876.1 843.6h8.5v5.5h-8.5zM1879.0 826.0h8.5v5.5h-8.5zM1878.9 811.4h8.5v5.5h-8.5zM1882.3 795.7h8.5v5.5h-8.5zM1881.9 779.3h8.5v5.5h-8.5zM1885.0 763.5h8.5v5.5h-8.5zM1886.0 748.2h8.5v5.5h-8.5zM1888.7 740.0h8.5v5.5h-8.5zM1887.1 729.5h8.5v5.5h-8.5zM1889.9 715.2h8.5v5.5h-8.5zM1889.5 697.3h8.5v5.5h-8.5zM1890.8 681.9h8.5v5.5h-8.5zM1892.6 664.4h8.5v5.5h-8.5zM1894.2 655.7h8.5v5.5h-8.5zM1897.2 640.8h8.5v5.5h-8.5zM1898.2 622.5h8.5v5.5h-8.5zM1900.8 607.6h8.5v5.5h-8.5zM1899.4 598.2h8.5v5.5h-8.5zM1903.6 584.0h8.5v5.5h-8.5zM1903.9 571.4h8.5v5.5h-8.5zM1905.3 559.3h8.5v5.5h-8.5zM1906.7 543.9h8.5v5.5h-8.5zM1907.6 530.9h8.5v5.5h-8.5zM1911.1 522.4h8.5v5.5h-8.5zM1910.0 513.0h8.5v5.5h-8.5zM1911.8 505.3h8.5v5.5h-8.5zM1913.1 490.0h8.5v5.5h-8.5zM1913.4 479.6h8.5v5.5h-8.5zM1917.0 473.7h8.5v5.5h-8.5zM1916.7 462.6h8.5v5.5h-8.5zM1920.3 451.6h8.5v5.5h-8.5zM1920.6 440.8h8.5v5.5h-8.5zM1923.4 427.7h8.5v5.5h-8.5zM1926.1 412.8h8.5v5.5h-8.5zM1927.4 399.7h8.5v5.5h-8.5zM1928.3 386.1h8.5v5.5h-8.5zM1932.3 376.2h8.5v5.5h-8.5zM1933.6 371.1h8.5v5.5h-8.5zM1934.8 359.4h8.5v5.5h-8.5zM1936.8 353.1h8.5v5.5h-8.5zM1937.9 342.6h8.5v5.5h-8.5zM1939.6 338.0h8.5v5.5h-8.5zM1943.0 325.9h8.5v5.5h-8.5zM1943.2 320.5h8.5v5.5h-8.5zM1945.3 315.0h8.5v5.5h-8.5zM1949.2 307.9h8.5v5.5h-8.5zM1950.3 302.8h8.5v5.5h-8.5zM1950.7 296.6h8.5v5.5h-8.5zM1953.1 291.7h8.5v5.5h-8.5zM1956.4 286.6h8.5v5.5h-8.5zM1958.5 284.8h8.5v5.5h-8.5zM1962.1 281.1h8.5v5.5h-8.5zM1967.7 276.9h5.5v8.5h-5.5zM1972.7 277.0h5.5v8.5h-5.5zM1973.7 283.1h8.5v5.5h-8.5zM1977.9 288.4h8.5v5.5h-8.5zM1976.9 289.2h8.5v5.5h-8.5zM1982.0 292.5h8.5v5.5h-8.5zM1982.2 299.4h8.5v5.5h-8.5zM1985.4 300.7h8.5v5.5h-8.5zM1987.1 307.4h8.5v5.5h-8.5zM1988.1 312.1h8.5v5.5h-8.5zM1989.7 318.3h8.5v5.5h-8.5zM1991.0 327.6h8.5v5.5h-8.5zM1993.3 335.2h8.5v5.5h-8.5zM1994.8 339.8h8.5v5.5h-8.5zM1996.9 352.1h8.5v5.5h-8.5zM1999.6 361.7h8.5v5.5h-8.5zM2000.1 372.0h8.5v5.5h-8.5zM2002.4 382.6h8.5v5.5h-8.5zM2004.4 390.0h8.5v5.5h-8.5zM2007.3 395.6h8.5v5.5h-8.5zM2006.4 406.8h8.5v5.5h-8.5zM2008.6 418.2h8.5v5.5h-8.5zM2010.3 426.4h8.5v5.5h-8.5zM2014.1 436.6h8.5v5.5h-8.5zM2013.2 445.7h8.5v5.5h-8.5zM2013.9 456.0h8.5v5.5h-8.5zM2016.3 463.2h8.5v5.5h-8.5zM2016.1 471.5h8.5v5.5h-8.5zM2016.8 483.2h8.5v5.5h-8.5zM2019.5 492.7h8.5v5.5h-8.5zM2021.4 504.2h8.5v5.5h-8.5zM2022.4 522.0h8.5v5.5h-8.5zM2025.5 534.4h8.5v5.5h-8.5zM2026.6 548.9h8.5v5.5h-8.5zM2029.1 563.7h8.5v5.5h-8.5zM2032.5 578.5h8.5v5.5h-8.5zM2031.4 587.4h8.5v5.5h-8.5zM2029.0 597.6h8.5v5.5h-8.5zM2034.3 616.3h8.5v5.5h-8.5zM2035.1 629.3h8.5v5.5h-8.5zM2038.8 644.6h8.5v5.5h-8.5zM2040.0 656.9h8.5v5.5h-8.5zM2040.0 663.2h8.5v5.5h-8.5zM2042.8 680.7h8.5v5.5h-8.5zM2042.2 693.3h8.5v5.5h-8.5zM2043.4 707.5h8.5v5.5h-8.5zM2046.5 724.9h8.5v5.5h-8.5zM2047.4 733.6h8.5v5.5h-8.5zM2048.5 753.0h8.5v5.5h-8.5zM2049.5 767.5h8.5v5.5h-8.5zM2050.7 775.0h8.5v5.5h-8.5zM2053.2 787.3h8.5v5.5h-8.5zM2053.4 800.0h8.5v5.5h-8.5zM2055.2 814.3h8.5v5.5h-8.5zM2057.2 830.4h8.5v5.5h-8.5zM2057.8 840.8h8.5v5.5h-8.5zM2059.0 846.1h8.5v5.5h-8.5zM2058.3 858.7h8.5v5.5h-8.5zM2060.4 874.3h8.5v5.5h-8.5zM2063.1 891.1h8.5v5.5h-8.5zM2063.4 903.9h8.5v5.5h-8.5zM2066.7 918.0h8.5v5.5h-8.5zM2066.7 935.2h8.5v5.5h-8.5zM2067.6 940.7h8.5v5.5h-8.5zM2068.7 953.6h8.5v5.5h-8.5zM2070.0 973.4h8.5v5.5h-8.5zM2071.8 984.2h8.5v5.5h-8.5zM2073.9 1002.8h8.5v5.5h-8.5zM2074.5 1016.2h8.5v5.5h-8.5zM2075.7 1026.5h8.5v5.5h-8.5zM2075.8 1035.7h8.5v5.5h-8.5zM2076.4 1045.4h8.5v5.5h-8.5zM2079.8 1058.3h8.5v5.5h-8.5zM2079.8 1071.3h8.5v5.5h-8.5zM2081.1 1084.5h8.5v5.5h-8.5zM2082.5 1097.6h8.5v5.5h-8.5zM2084.7 1111.0h8.5v5.5h-8.5zM2085.7 1118.8h8.5v5.5h-8.5zM2084.8 1132.9h8.5v5.5h-8.5zM2087.5 1148.9h8.5v5.5h-8.5zM2088.9 1157.5h8.5v5.5h-8.5zM2090.2 1171.8h8.5v5.5h-8.5zM2091.0 1186.3h8.5v5.5h-8.5zM2093.6 1202.9h8.5v5.5h-8.5zM2093.5 1215.2h8.5v5.5h-8.5zM2095.0 1223.4h8.5v5.5h-8.5zM2094.6 1240.1h8.5v5.5h-8.5zM2098.7 1254.5h8.5v5.5h-8.5zM2099.3 1265.3h8.5v5.5h-8.5zM2102.4 1275.4h8.5v5.5h-8.5zM2103.9 1283.8h8.5v5.5h-8.5zM2101.6 1300.8h8.5v5.5h-8.5zM2104.8 1310.6h8.5v5.5h-8.5zM2107.8 1319.6h8.5v5.5h-8.5zM2109.0 1333.0h8.5v5.5h-8.5zM2108.9 1348.6h8.5v5.5h-8.5zM2110.7 1362.2h8.5v5.5h-8.5zM2113.4 1370.0h8.5v5.5h-8.5zM2114.5 1381.5h8.5v5.5h-8.5zM2114.9 1391.5h8.5v5.5h-8.5zM2116.0 1398.8h8.5v5.5h-8.5zM2117.3 1413.4h8.5v5.5h-8.5zM2120.2 1423.3h8.5v5.5h-8.5zM2120.6 1431.7h8.5v5.5h-8.5zM2123.8 1445.2h8.5v5.5h-8.5zM2125.7 1461.5h8.5v5.5h-8.5zM2127.7 1470.8h8.5v5.5h-8.5zM2128.9 1481.6h8.5v5.5h-8.5zM2129.8 1489.2h8.5v5.5h-8.5zM2132.4 1498.1h8.5v5.5h-8.5zM2133.4 1506.8h8.5v5.5h-8.5zM2135.7 1518.5h8.5v5.5h-8.5zM2138.9 1529.9h8.5v5.5h-8.5zM2140.4 1539.5h8.5v5.5h-8.5zM2142.8 1544.3h8.5v5.5h-8.5zM2143.6 1552.4h8.5v5.5h-8.5zM2145.6 1557.6h8.5v5.5h-8.5zM2147.5 1563.1h8.5v5.5h-8.5zM2149.8 1568.1h8.5v5.5h-8.5zM2148.9 1571.6h8.5v5.5h-8.5zM2150.8 1576.8h8.5v5.5h-8.5zM2153.2 1578.4h8.5v5.5h-8.5zM2155.6 1582.0h8.5v5.5h-8.5zM2158.3 1588.0h8.5v5.5h-8.5zM2162.2 1588.1h5.5v8.5h-5.5zM2165.8 1588.2h5.5v8.5h-5.5zM2171.2 1590.3h5.5v8.5h-5.5zM2174.6 1586.1h5.5v8.5h-5.5zM2176.2 1584.8h8.5v5.5h-8.5zM2177.5 1582.2h8.5v5.5h-8.5zM2180.7 1575.1h8.5v5.5h-8.5zM2182.2 1572.0h8.5v5.5h-8.5zM2185.0 1566.6h8.5v5.5h-8.5zM2186.2 1564.0h8.5v5.5h-8.5zM2185.1 1557.8h8.5v5.5h-8.5zM2187.4 1551.8h8.5v5.5h-8.5zM2191.1 1547.5h8.5v5.5h-8.5zM2190.3 1539.9h8.5v5.5h-8.5zM2193.8 1533.9h8.5v5.5h-8.5zM2194.3 1527.7h8.5v5.5h-8.5zM2194.6 1518.7h8.5v5.5h-8.5zM2198.6 1509.5h8.5v5.5h-8.5zM2198.9 1499.9h8.5v5.5h-8.5zM2200.7 1493.5h8.5v5.5h-8.5zM2203.3 1482.3h8.5v5.5h-8.5zM2206.8 1473.0h8.5v5.5h-8.5zM2205.9 1461.7h8.5v5.5h-8.5zM2210.3 1449.4h8.5v5.5h-8.5zM2211.8 1439.6h8.5v5.5h-8.5zM2211.9 1423.6h8.5v5.5h-8.5zM2214.3 1410.9h8.5v5.5h-8.5zM2215.2 1397.2h8.5v5.5h-8.5zM2218.6 1385.4h8.5v5.5h-8.5zM2219.2 1372.2h8.5v5.5h-8.5zM2219.9 1359.7h8.5v5.5h-8.5zM2220.0 1349.1h8.5v5.5h-8.5zM2224.4 1336.7h8.5v5.5h-8.5zM2226.0 1326.4h8.5v5.5h-8.5zM2225.5 1316.9h8.5v5.5h-8.5zM2227.0 1302.4h8.5v5.5h-8.5zM2229.9 1287.8h8.5v5.5h-8.5zM2233.0 1271.7h8.5v5.5h-8.5zM2234.3 1260.4h8.5v5.5h-8.5zM2233.1 1247.5h8.5v5.5h-8.5zM2236.6 1229.3h8.5v5.5h-8.5zM2238.7 1218.7h8.5v5.5h-8.5zM2239.5 1201.7h8.5v5.5h-8.5zM2240.5 1190.6h8.5v5.5h-8.5zM2241.3 1178.7h8.5v5.5h-8.5zM2240.7 1168.9h8.5v5.5h-8.5zM2242.7 1154.8h8.5v5.5h-8.5zM2244.2 1143.5h8.5v5.5h-8.5zM2246.7 1133.2h8.5v5.5h-8.5zM2248.1 1116.8h8.5v5.5h-8.5zM2251.8 1100.4h8.5v5.5h-8.5zM2252.5 1089.2h8.5v5.5h-8.5zM2252.2 1080.0h8.5v5.5h-8.5zM2253.0 1072.8h8.5v5.5h-8.5zM2252.5 1053.4h8.5v5.5h-8.5zM2253.9 1043.5h8.5v5.5h-8.5zM2255.8 1028.8h8.5v5.5h-8.5zM2256.2 1018.1h8.5v5.5h-8.5zM2259.3 1006.0h8.5v5.5h-8.5zM2259.3 996.1h8.5v5.5h-8.5zM2261.1 980.0h8.5v5.5h-8.5zM2263.0 972.5h8.5v5.5h-8.5zM2264.5 954.3h8.5v5.5h-8.5zM2267.2 941.9h8.5v5.5h-8.5z" fill="#000"/><path d="" fill="#000"/>
<path d="M273 925.5L275 925.4 277 926.4 279 926.7 281 924.5 283 924.4 285 923.4 287 922.6 289 922.6 291 922.6 293 922.6 295 924.5 297 925.1 299 925.1 301 925.1 303 925.2 305 925.8 307 926.1 309 925.5 311 925.5 313 925.6 315 925.6 317 925.2 319 924.2 321 924.3 323 924.3 325 924.3 327 925.1 329 926.3 331 926.3 333 926.1 335 926.1 337 923.7 339 923.8 341 923.8 343 923.8 345 926.1 347 926.1 349 927.1 351 927.1 353 927.0 355 927.0 357 927.0 359 925.9 361 924.9 363 924.9 365 924.9 367 924.9 369 927.1 371 925.5 373 925.5 375 925.4 377 925.4 379 926.7 381 926.6 383 926.6 385 926.6 387 924.5 389 924.5 391 924.5 393 924.5 395 924.4 397 924.4 399 925.5 401 926.4 403 926.4 405 926.3 407 926.3 409 926.3 411 926.3 413 926.5 415 920.7 417 920.7 419 920.7 421 920.7 423 924.0 425 924.0 427 925.1 429 924.2 431 924.2 433 924.2 435 923.8 437 923.8 439 923.7 441 923.7 443 926.7 445 920.4 447 920.4 449 920.4 451 920.4 453 923.9 455 923.9 457 926.0 459 925.7 461 925.7 463 925.6 465 924.8 467 924.8 469 924.7 471 924.7 473 925.9 475 925.8 477 925.8 479 926.6 481 922.7 483 922.6 485 922.6 487 922.5 489 925.2 491 925.1 493 925.1 495 925.0 497 925.9 499 924.7 501 924.4 503 924.3 505 924.3 507 921.2 509 921.2 511 921.1 513 921.1 515 924.2 517 924.7 519 924.7 521 925.0 523 923.7 525 923.7 527 923.7 529 923.7 531 925.9 533 925.9 535 924.1 537 924.1 539 922.7 541 922.7 543 922.8 545 922.8 547 922.9 549 923.4 551 923.4 553 922.7 555 922.7 557 922.8 559 922.8 561 924.8 563 925.4 565 925.4 567 925.5 569 925.1 571 924.7 573 924.4 575 924.4 577 924.5 579 924.5 581 925.0 583 925.1 585 925.1 587 923.9 589 924.0 591 924.0 593 924.0 595 925.1 597 924.2 599 924.2 601 924.1 603 924.1 605 924.1 607 924.1 609 924.7 611 925.1 613 925.1 615 921.8 617 921.7 619 921.7 621 921.7 623 922.5 625 923.7 627 923.7 629 923.6 631 923.6 633 926.1 635 926.1 637 924.8 639 924.8 641 924.8 643 924.8 645 926.4 647 925.5 649 925.5 651 925.5 653 925.5 655 925.4 657 925.4 659 925.4 661 923.8 663 923.8 665 923.8 667 923.9 669 925.7 671 924.8 673 924.8 675 924.8 677 924.9 679 925.1 681 925.1 683 923.8 685 923.8 687 923.4 689 923.4 691 923.4 693 923.5 695 926.2 697 922.9 699 922.9 701 922.9 703 922.9 705 923.7 707 923.7 709 923.7 711 925.2 713 925.2 715 924.3 717 924.3 719 924.3 721 924.3 723 924.3 725 923.8 727 923.7 729 923.7 731 923.2 733 923.2 735 923.2 737 923.2 739 925.3 741 925.3 743 925.3 745 925.6 747 926.3 749 923.4 751 923.4 753 923.4 755 923.4 757 926.3 759 923.8 761 923.8 763 923.6 765 923.7 767 923.7 769 923.7 771 925.3 773 925.4 775 923.9 777 923.9 779 923.9 781 924.0 783 924.0 785 926.1 787 927.6 789 927.3 791 927.1 793 925.9 795 926.0 797 926.0 799 925.9 801 926.0 803 926.0 805 926.1 807 923.8 809 923.8 811 923.9 813 923.9 815 925.7 817 924.9 819 925.0 821 925.0 823 925.0 825 926.7 827 926.7 829 926.1 831 926.1 833 926.1 835 926.0 837 927.6 839 927.5 841 927.5 843 927.5 845 925.3 847 925.3 849 925.2 851 925.2 853 926.5 855 924.5 857 924.5 859 924.4 861 924.4 863 925.7 865 925.7 867 925.6 869 925.5 871 927.5 873 927.1 875 927.0 877 925.2 879 923.0 881 922.9 883 922.9 885 922.9 887 924.8 889 924.8 891 924.7 893 925.4 895 925.4 897 926.2 899 926.1 901 927.3 903 923.0 905 923.0 907 923.0 909 923.0 911 926.0 913 925.3 915 923.9 917 923.9 919 923.9 921 923.9 923 925.6 925 925.6 927 920.9 929 921.0 931 921.0 933 921.0 935 924.0 937 924.0 939 924.0 941 924.4 943 924.1 945 924.1 947 924.1 949 924.1 951 925.2 953 923.8 955 923.8 957 923.8 959 922.0 961 921.9 963 921.9 965 921.9 967 927.5 969 920.7 971 920.7 973 920.7 975 920.6 977 925.9 979 925.9 981 927.5 983 926.3 985 926.3 987 925.2 989 925.2 991 925.2 993 925.2 995 925.3 997 925.3 999 925.3 1001 925.3 1003 923.2 1005 923.2 1007 923.2 1009 923.2 1011 924.2 1013 924.5 1015 924.5 1017 924.5 1019 924.6 1021 926.8 1023 926.9 1025 926.9 1027 927.0 1029 926.2 1031 926.2 1033 926.2 1035 923.9 1037 923.9 1039 923.9 1041 923.9 1043 924.0 1045 924.0 1047 924.0 1049 925.2 1051 925.2 1053 924.7 1055 924.7 1057 924.7 1059 924.7 1061 925.6 1063 925.5 1065 924.6 1067 924.6 1069 924.5 1071 924.5 1073 924.5 1075 924.8 1077 924.8 1079 922.6 1081 922.5 1083 922.5 1085 922.4 1087 922.2 1089 922.1 1091 922.1 1093 922.0 1095 924.9 1097 924.9 1099 924.7 1101 924.6 1103 924.6 1105 924.2 1107 923.3 1109 923.2 1111 923.2 1113 923.1 1115 923.7 1117 925.0 1119 924.9 1121 924.9 1123 924.8 1125 924.8 1127 924.8 1129 924.7 1131 924.7 1133 921.6 1135 921.4 1137 921.4 1139 921.4 1141 921.4 1143 924.4 1145 924.3 1147 924.4 1149 924.4 1151 924.4 1153 923.3 1155 923.4 1157 923.4 1159 923.4 1161 925.7 1163 922.0 1165 922.1 1167 922.1 1169 922.2 1171 923.1 1173 923.1 1175 923.2 1177 923.2 1179 925.6 1181 925.6 1183 926.1 1185 924.0 1187 924.0 1189 924.1 1191 924.1 1193 926.2 1195 926.3 1197 925.8 1199 925.1 1201 925.1 1203 925.1 1205 925.1 1207 925.5 1209 925.5 1211 925.9 1213 925.9 1215 925.9 1217 922.1 1219 922.1 1221 922.1 1223 922.1 1225 927.2 1227 927.2 1229 925.3 1231 923.1 1233 923.1 1235 923.1 1237 923.2 1239 924.1 1241 924.1 1243 923.9 1245 923.9 1247 924.0 1249 924.0 1251 925.2 1253 925.2 1255 923.0 1257 923.0 1259 923.0 1261 923.1 1263 926.7 1265 926.7 1267 926.5 1269 926.5 1271 923.9 1273 924.0 1275 924.0 1277 924.0 1279 924.6 1281 924.6 1283 924.9 1285 925.0 1287 925.0 1289 925.0 1291 926.2 1293 926.1 1295 926.1 1297 926.1 1299 926.1 1301 927.5 1303 927.5 1305 927.5 1307 927.5 1309 927.5 1311 927.0 1313 924.9 1315 924.9 1317 924.9 1319 924.9 1321 925.6 1323 924.3 1325 924.3 1327 923.0 1329 922.9 1331 922.9 1333 922.8 1335 922.8 1337 922.7 1339 922.7 1341 923.7 1343 926.3 1345 922.9 1347 922.8 1349 922.8 1351 922.8 1353 924.0 1355 924.0 1357 924.0 1359 925.2 1361 925.2 1363 925.2 1365 925.6 1367 925.6 1369 925.6 1371 925.6 1373 925.7 1375 925.7 1377 925.7 1379 925.9 1381 926.0 1383 926.8 1385 924.6 1387 924.7 1389 924.7 1391 924.8 1393 924.6 1395 924.7 1397 924.7 1399 924.8 1401 924.9 1403 924.6 1405 924.7 1407 924.7 1409 924.5 1411 924.6 1413 924.7 1415 924.7 1417 926.5 1419 926.6 1421 926.6 1423 926.1 1425 926.1 1427 926.2 1429 926.2 1431 927.8 1433 927.8 1435 927.8 1437 927.8 1439 927.8 1441 928.1 1443 927.1 1445 924.9 1447 924.9 1449 924.9 1451 924.8 1453 926.2 1455 926.2 1457 926.1 1459 926.1 1461 927.7 1463 927.6 1465 928.1 1467 928.0 1469 926.1 1471 926.1 1473 926.1 1475 926.0 1477 927.7 1479 927.2 1481 927.1 1483 927.1 1485 924.8 1487 923.3 1489 923.2 1491 923.2 1493 923.2 1495 923.8 1497 924.1 1499 924.1 1501 924.5 1503 924.0 1505 923.9 1507 922.6 1509 922.6 1511 922.6 1513 922.5 1515 926.6 1517 925.2 1519 925.2 1521 922.6 1523 922.6 1525 922.6 1527 922.6 1529 926.8 1531 926.7 1533 926.7 1535 925.4 1537 924.9 1539 924.8 1541 924.8 1543 923.1 1545 923.1 1547 923.1 1549 923.0 1551 923.7 1553 923.6 1555 924.9 1557 922.9 1559 922.8 1561 922.8 1563 922.8 1565 923.9 1567 923.9 1569 924.6 1571 924.6 1573 924.5 1575 924.5 1577 922.9 1579 922.8 1581 922.8 1583 922.8 1585 925.9 1587 924.6 1589 924.6 1591 924.6 1593 924.6 1595 924.6 1597 924.6 1599 923.3 1601 923.3 1603 923.2 1605 923.2 1607 925.0 1609 925.0 1611 925.0 1613 923.2 1615 923.2 1617 923.2 1619 923.2 1621 922.3 1623 922.3 1625 922.4 1627 922.4 1629 924.7 1631 924.7 1633 924.8 1635 924.8 1637 926.6 1639 924.9 1641 922.9 1643 922.9 1645 922.9 1647 923.0 1649 923.3 1651 923.3 1653 923.3 1655 923.3 1657 926.2 1659 924.2 1661 924.2 1663 923.8 1665 923.8 1667 923.8 1669 923.8 1671 926.0 1673 927.6 1675 922.9 1677 922.8 1679 922.8 1681 922.8 1683 925.2 1685 925.2 1687 926.6 1689 926.0 1691 923.8 1693 923.8 1695 923.7 1697 923.7 1699 927.1 1701 924.2 1703 924.2 1705 924.1 1707 919.9 1709 919.9 1711 919.8 1713 919.8 1715 922.4 1717 922.3 1719 922.3 1721 923.1 1723 922.8 1725 922.8 1727 922.8 1729 922.7 1731 924.0 1733 924.0 1735 920.7 1737 920.6 1739 920.6 1741 920.6 1743 923.5 1745 923.5 1747 923.5 1749 923.6 1751 924.7 1753 924.7 1755 922.4 1757 922.5 1759 922.5 1761 922.5 1763 924.6 1765 924.8 1767 923.2 1769 923.3 1771 923.3 1773 923.3 1775 923.7 1777 923.8 1779 923.8 1781 923.9 1783 926.2 1785 925.6 1787 925.7 1789 925.7 1791 925.7 1793 926.0 1795 926.0 1797 926.0 1799 923.6 1801 923.6 1803 923.7 1805 923.7 1807 924.7 1809 924.8 1811 925.1 1813 925.1 1815 925.1 1817 925.2 1819 925.2 1821 925.2 1823 925.4 1825 925.4 1827 925.4 1829 924.3 1831 924.3 1833 924.3 1835 923.5 1837 923.5 1839 923.5 1841 923.5 1843 925.1 1845 925.1 1847 925.1 1849 924.6 1851 924.7 1853 924.7 1855 924.7 1857 925.7 1859 925.7 1861 924.8 1863 924.8 1865 924.9 1867 924.9 1869 924.8 1871 923.2 1873 923.3 1875 923.3 1877 923.4 1879 927.2 1881 927.3 1883 927.7 1885 927.6 1887 927.6 1889 927.3 1891 926.5 1893 926.6 1895 926.6 1897 921.1 1899 921.1 1901 921.1 1903 921.1 1905 925.3 1907 925.3 1909 925.4 1911 925.4 1913 925.5 1915 927.8 1917 927.5 1919 927.5 1921 927.4 1923 925.8 1925 925.8 1927 925.7 1929 925.7 1931 925.7 1933 925.7 1935 924.4 1937 924.4 1939 924.3 1941 924.3 1943 925.7 1945 925.6 1947 925.6 1949 925.5 1951 923.4 1953 923.4 1955 923.4 1957 923.3 1959 924.8 1961 926.8 1963 927.5 1965 925.6 1967 925.5 1969 925.5 1971 924.2 1973 924.2 1975 924.2 1977 924.2 1979 925.1 1981 925.1 1983 925.1 1985 925.1 1987 925.5 1989 925.5 1991 922.8 1993 922.8 1995 922.9 1997 922.9 1999 925.3 2001 925.4 2003 927.2 2005 925.1 2007 925.2 2009 925.2 2011 925.1 2013 925.0 2015 925.1 2017 925.1 2019 925.2 2021 927.8 2023 927.8 2025 927.8 2027 927.9 2029 926.3 2031 926.2 2033 925.8 2035 925.8 2037 925.9 2039 925.2 2041 925.3 2043 925.3 2045 925.3 2047 927.0 2049 925.9 2051 925.9 2053 925.9 2055 925.8 2057 925.1 2059 925.1 2061 925.1 2063 925.0 2065 927.2 2067 927.2 2069 926.9 2071 926.9 2073 926.8 2075 926.4 2077 926.3 2079 926.3 2081 926.3 2083 926.7 2085 928.1 2087 924.8 2089 922.8 2091 922.7 2093 922.7 2095 922.7 2097 925.7 2099 925.6 2101 925.6 2103 926.1 2105 924.0 2107 924.0 2109 924.0 2111 924.0 2113 925.7 2115 923.9 2117 923.9 2119 923.9 2121 923.9 2123 926.0 2125 926.0 2127 924.6 2129 924.6 2131 924.5 2133 924.5 2135 925.9 2137 922.5 2139 922.5 2141 922.4 2143 922.4 2145 923.8 2147 923.8 2149 923.8 2151 923.7 2153 924.8 2155 925.6 2157 925.5 2159 926.1 2161 926.1 2163 926.1 2165 925.0 2167 924.9 2169 923.5 2171 923.4 2173 923.4 2175 923.3 2177 925.9 2179 922.8 2181 922.8 2183 922.7 2185 922.7 2187 924.2 2189 924.2 2191 925.2 2193 925.1 2195 922.2 2197 922.2 2199 922.1 2201 922.1 2203 924.3 2205 924.3 2207 924.5 2209 924.4 2211 924.4 2213 924.4 2215 924.4 2217 926.0 2219 926.1 2221 924.9 2223 924.9 2225 925.0 2227 922.9 2229 922.9 2231 922.9 2233 921.2 2235 921.2 2237 921.3 2239 921.3 2241 924.8 2243 922.9 2245 923.0 2247 923.0 2249 923.1 2251 924.1 2253 924.3 2255 920.9 2257 921.0 2259 921.0 2261 921.1 2263 925.4 2265 924.9 2267 924.9 2269 924.9 2271 925.0 2273 928.0 2273 947.9 2271 947.9 2269 950.3 2267 950.2 2265 950.2 2263 950.2 2261 950.5 2259 950.4 2257 950.4 2255 950.3 2253 949.6 2251 949.6 2249 949.5 2247 947.6 2245 949.6 2243 949.5 2241 949.5 2239 949.4 2237 946.8 2235 948.9 2233 948.8 2231 948.8 2229 948.8 2227 947.8 2225 948.0 2223 949.3 2221 949.3 2219 949.3 2217 949.3 2215 947.5 2213 946.7 2211 946.8 2209 946.2 2207 946.2 2205 947.2 2203 947.2 2201 947.2 2199 948.7 2197 948.8 2195 948.8 2193 950.7 2191 950.7 2189 950.8 2187 950.8 2185 948.8 2183 948.8 2181 948.9 2179 949.0 2177 948.3 2175 949.8 2173 949.9 2171 949.9 2169 950.0 2167 950.7 2165 950.8 2163 950.8 2161 950.9 2159 949.5 2157 949.9 2155 949.9 2153 949.9 2151 950.0 2149 948.1 2147 948.2 2145 949.6 2143 949.6 2141 949.7 2139 950.3 2137 950.4 2135 950.4 2133 950.4 2131 948.8 2129 948.8 2127 948.8 2125 949.7 2123 949.7 2121 950.0 2119 950.1 2117 950.1 2115 950.1 2113 950.1 2111 948.7 2109 952.8 2107 952.8 2105 952.8 2103 952.8 2101 951.3 2099 951.3 2097 951.4 2095 950.2 2093 950.3 2091 950.3 2089 948.6 2087 949.6 2085 949.7 2083 949.7 2081 949.7 2079 949.9 2077 950.2 2075 950.2 2073 950.2 2071 950.3 2069 949.7 2067 949.6 2065 949.7 2063 949.7 2061 949.8 2059 949.8 2057 949.5 2055 949.4 2053 949.4 2051 949.5 2049 949.2 2047 949.9 2045 949.9 2043 949.9 2041 950.2 2039 950.5 2037 950.5 2035 950.5 2033 952.4 2031 952.7 2029 952.7 2027 952.7 2025 952.6 2023 949.1 2021 949.1 2019 948.2 2017 948.2 2015 948.8 2013 948.7 2011 949.6 2009 949.6 2007 949.6 2005 949.5 2003 951.2 2001 951.2 1999 951.2 1997 952.9 1995 952.8 1993 952.8 1991 952.8 1989 951.4 1987 951.4 1985 951.4 1983 950.7 1981 950.7 1979 950.7 1977 948.6 1975 948.6 1973 950.4 1971 950.4 1969 950.4 1967 950.4 1965 950.2 1963 949.0 1961 949.1 1959 949.1 1957 950.4 1955 951.1 1953 951.1 1951 951.2 1949 951.2 1947 950.0 1945 950.0 1943 950.1 1941 950.1 1939 950.5 1937 950.6 1935 950.6 1933 950.6 1931 949.0 1929 949.0 1927 951.1 1925 951.1 1923 951.1 1921 951.2 1919 951.0 1917 951.0 1915 951.0 1913 950.0 1911 949.3 1909 948.6 1907 947.9 1905 950.8 1903 950.8 1901 950.7 1899 950.7 1897 948.7 1895 948.7 1893 948.7 1891 949.3 1889 949.3 1887 949.2 1885 949.2 1883 950.0 1881 950.8 1879 950.7 1877 953.4 1875 953.3 1873 953.3 1871 953.2 1869 949.2 1867 949.1 1865 949.1 1863 948.5 1861 948.5 1859 950.1 1857 950.1 1855 950.1 1853 950.0 1851 948.9 1849 950.2 1847 950.2 1845 950.2 1843 950.2 1841 950.1 1839 950.1 1837 949.3 1835 951.8 1833 951.8 1831 951.8 1829 951.8 1827 949.2 1825 949.7 1823 949.7 1821 949.7 1819 949.7 1817 949.0 1815 951.2 1813 951.2 1811 951.2 1809 951.2 1807 948.1 1805 948.1 1803 948.1 1801 948.0 1799 947.6 1797 947.6 1795 947.6 1793 949.6 1791 951.8 1789 951.8 1787 951.8 1785 951.7 1783 949.3 1781 949.3 1779 949.2 1777 949.2 1775 946.9 1773 946.9 1771 948.6 1769 948.6 1767 948.5 1765 948.6 1763 948.6 1761 948.6 1759 948.5 1757 947.0 1755 947.0 1753 948.1 1751 948.1 1749 948.1 1747 949.7 1745 949.7 1743 949.6 1741 949.7 1739 948.0 1737 948.0 1735 947.2 1733 947.2 1731 947.7 1729 947.7 1727 947.8 1725 947.8 1723 947.5 1721 947.3 1719 947.4 1717 946.3 1715 946.9 1713 949.0 1711 949.0 1709 949.1 1707 949.2 1705 949.3 1703 949.3 1701 949.4 1699 949.4 1697 946.7 1695 946.8 1693 948.0 1691 948.4 1689 948.7 1687 948.8 1685 948.8 1683 950.1 1681 950.1 1679 950.1 1677 950.1 1675 948.9 1673 948.9 1671 948.9 1669 951.9 1667 951.9 1665 951.9 1663 951.9 1661 950.0 1659 948.7 1657 948.9 1655 948.9 1653 948.9 1651 948.8 1649 947.0 1647 949.6 1645 949.5 1643 949.5 1641 949.5 1639 949.2 1637 949.0 1635 949.6 1633 949.5 1631 949.5 1629 949.4 1627 948.2 1625 949.1 1623 949.1 1621 949.0 1619 949.0 1617 948.9 1615 947.1 1613 947.8 1611 947.8 1609 948.1 1607 948.2 1605 948.2 1603 948.2 1601 948.4 1599 948.4 1597 948.4 1595 948.4 1593 946.9 1591 947.0 1589 947.0 1587 948.6 1585 948.6 1583 949.3 1581 949.4 1579 949.4 1577 949.4 1575 947.8 1573 947.9 1571 948.7 1569 950.5 1567 950.6 1565 950.6 1563 950.6 1561 947.9 1559 947.9 1557 949.5 1555 949.6 1553 949.6 1551 949.6 1549 947.8 1547 949.4 1545 949.8 1543 949.8 1541 951.1 1539 951.1 1537 951.1 1535 951.1 1533 949.0 1531 950.2 1529 950.2 1527 950.2 1525 950.2 1523 949.8 1521 949.8 1519 948.2 1517 948.2 1515 948.0 1513 948.1 1511 948.1 1509 948.1 1507 950.9 1505 950.9 1503 950.9 1501 951.0 1499 949.0 1497 949.8 1495 949.9 1493 952.0 1491 952.1 1489 952.1 1487 952.1 1485 950.4 1483 950.5 1481 950.5 1479 950.2 1477 952.6 1475 952.6 1473 952.7 1471 952.7 1469 952.3 1467 952.8 1465 952.8 1463 952.9 1461 952.9 1459 950.4 1457 951.7 1455 951.7 1453 951.8 1451 951.8 1449 949.6 1447 949.2 1445 949.2 1443 949.2 1441 949.2 1439 949.1 1437 948.8 1435 949.2 1433 949.7 1431 949.7 1429 949.7 1427 950.3 1425 951.0 1423 950.9 1421 950.9 1419 950.9 1417 953.5 1415 953.5 1413 953.4 1411 953.4 1409 949.5 1407 952.4 1405 953.8 1403 953.7 1401 953.7 1399 953.6 1397 948.9 1395 948.9 1393 948.8 1391 948.6 1389 948.6 1387 950.5 1385 950.4 1383 950.4 1381 950.3 1379 949.8 1377 949.8 1375 949.8 1373 947.9 1371 947.9 1369 947.9 1367 948.5 1365 948.5 1363 948.4 1361 948.4 1359 949.9 1357 949.9 1355 949.9 1353 949.9 1351 950.3 1349 950.3 1347 950.3 1345 950.4 1343 950.7 1341 950.7 1339 955.7 1337 955.8 1335 955.8 1333 955.8 1331 951.0 1329 951.9 1327 951.9 1325 951.9 1323 952.0 1321 952.0 1319 948.8 1317 950.3 1315 950.3 1313 950.4 1311 950.4 1309 947.9 1307 949.3 1305 949.3 1303 949.6 1301 949.6 1299 950.2 1297 951.1 1295 951.1 1293 951.0 1291 951.0 1289 949.9 1287 949.9 1285 949.9 1283 949.9 1281 948.9 1279 948.9 1277 949.3 1275 949.2 1273 950.0 1271 950.0 1269 950.0 1267 950.0 1265 948.9 1263 948.9 1261 948.8 1259 947.6 1257 948.7 1255 948.7 1253 948.6 1251 948.6 1249 949.4 1247 949.4 1245 949.4 1243 949.4 1241 949.2 1239 949.2 1237 948.1 1235 947.7 1233 947.7 1231 949.4 1229 949.4 1227 951.8 1225 951.8 1223 951.8 1221 951.8 1219 950.9 1217 950.9 1215 950.9 1213 950.9 1211 950.8 1209 948.6 1207 948.6 1205 948.8 1203 950.9 1201 950.9 1199 950.9 1197 950.9 1195 949.0 1193 948.9 1191 948.9 1189 953.2 1187 953.2 1185 953.2 1183 953.1 1181 949.2 1179 949.9 1177 949.8 1175 949.8 1173 949.7 1171 948.7 1169 948.6 1167 946.7 1165 946.6 1163 946.6 1161 945.7 1159 947.4 1157 947.4 1155 947.3 1153 947.3 1151 947.3 1149 947.3 1147 947.3 1145 948.0 1143 951.6 1141 951.6 1139 951.5 1137 951.5 1135 950.3 1133 949.1 1131 949.1 1129 947.1 1127 947.1 1125 947.2 1123 947.2 1121 947.2 1119 949.0 1117 949.1 1115 949.1 1113 949.2 1111 948.9 1109 950.4 1107 950.5 1105 950.5 1103 950.6 1101 947.5 1099 947.6 1097 947.6 1095 947.7 1093 947.2 1091 947.8 1089 947.9 1087 948.1 1085 948.1 1083 949.9 1081 949.9 1079 950.0 1077 950.0 1075 948.8 1073 948.9 1071 948.4 1069 948.4 1067 948.4 1065 952.2 1063 952.2 1061 952.3 1059 952.3 1057 947.9 1055 947.9 1053 947.9 1051 947.9 1049 947.9 1047 951.1 1045 951.1 1043 951.0 1041 951.0 1039 949.2 1037 949.2 1035 950.8 1033 950.8 1031 950.7 1029 950.7 1027 948.2 1025 948.1 1023 948.1 1021 951.4 1019 951.3 1017 951.3 1015 951.3 1013 949.8 1011 949.8 1009 948.4 1007 948.4 1005 948.4 1003 948.4 1001 950.3 999 950.3 997 951.5 995 951.5 993 951.5 991 951.5 989 949.7 987 949.7 985 949.7 983 949.6 981 949.6 979 949.6 977 950.3 975 950.3 973 950.3 971 950.4 969 948.4 967 948.4 965 948.5 963 948.5 961 947.6 959 949.1 957 950.0 955 950.0 953 950.0 951 950.7 949 950.8 947 950.8 945 950.9 943 950.9 941 950.9 939 950.9 937 948.6 935 950.1 933 950.1 931 950.1 929 950.0 927 949.0 925 949.2 923 949.2 921 949.2 919 949.2 917 949.1 915 950.7 913 950.7 911 950.7 909 950.7 907 948.4 905 949.0 903 949.0 901 949.7 899 949.7 897 949.7 895 949.7 893 949.2 891 948.9 889 948.9 887 949.0 885 947.3 883 947.3 881 948.9 879 948.9 877 948.9 875 949.0 873 950.1 871 950.1 869 950.2 867 950.2 865 949.5 863 949.5 861 951.4 859 951.5 857 951.5 855 951.6 853 950.3 851 950.4 849 950.4 847 950.9 845 950.9 843 951.0 841 951.0 839 950.8 837 950.8 835 950.8 833 950.3 831 950.3 829 949.6 827 949.4 825 950.5 823 950.5 821 950.5 819 950.5 817 951.8 815 951.7 813 951.7 811 951.7 809 951.1 807 951.1 805 949.2 803 949.2 801 950.8 799 950.7 797 950.7 795 950.6 793 950.1 791 950.1 789 950.0 787 949.4 785 949.4 783 949.3 781 949.3 779 949.2 777 948.8 775 948.7 773 948.7 771 949.8 769 949.8 767 949.7 765 949.7 763 948.5 761 948.4 759 948.8 757 948.7 755 948.7 753 948.7 751 950.0 749 950.0 747 950.0 745 950.2 743 950.2 741 950.2 739 950.2 737 947.9 735 948.8 733 949.3 731 953.5 729 953.5 727 953.6 725 953.6 723 951.1 721 951.1 719 951.2 717 948.7 715 948.7 713 948.7 711 948.3 709 949.6 707 949.6 705 949.6 703 949.6 701 951.0 699 951.0 697 951.0 695 951.0 693 947.7 691 948.0 689 950.3 687 950.3 685 950.2 683 950.2 681 949.6 679 951.6 677 951.6 675 951.6 673 951.6 671 951.5 669 951.4 667 951.4 665 951.4 663 949.6 661 949.6 659 949.6 657 949.3 655 949.3 653 948.7 651 948.7 649 947.5 647 947.4 645 946.8 643 949.6 641 949.7 639 949.7 637 949.7 635 948.3 633 948.3 631 951.4 629 951.4 627 951.5 625 951.5 623 950.5 621 950.5 619 950.5 617 950.6 615 950.1 613 950.1 611 950.1 609 949.6 607 949.6 605 948.7 603 948.7 601 948.7 599 948.7 597 948.6 595 948.5 593 948.6 591 948.6 589 948.6 587 948.6 585 949.5 583 949.5 581 949.8 579 949.7 577 950.4 575 950.4 573 950.3 571 950.3 569 950.2 567 949.0 565 951.2 563 951.1 561 951.1 559 951.0 557 947.9 555 947.9 553 947.6 551 947.5 549 946.9 547 947.9 545 947.9 543 948.4 541 949.0 539 948.9 537 948.9 535 951.1 533 951.0 531 951.0 529 951.0 527 947.8 525 946.7 523 946.7 521 946.6 519 949.3 517 949.3 515 949.4 513 949.4 511 947.5 509 947.6 507 947.6 505 948.1 503 948.1 501 948.2 499 948.2 497 949.5 495 950.4 493 950.5 491 950.6 489 950.6 487 949.7 485 949.6 483 949.7 481 948.7 479 948.8 477 947.6 475 948.0 473 948.1 471 948.1 469 951.5 467 951.6 465 951.6 463 951.7 461 948.7 459 948.7 457 950.4 455 950.4 453 950.4 451 950.5 449 949.9 447 950.3 445 950.4 443 950.4 441 950.4 439 950.4 437 948.4 435 952.3 433 952.3 431 952.3 429 952.3 427 951.0 425 951.0 423 951.0 421 951.0 419 952.1 417 952.1 415 952.1 413 952.1 411 950.6 409 949.2 407 949.3 405 949.3 403 948.7 401 949.1 399 949.1 397 949.1 395 949.1 393 948.2 391 948.2 389 949.4 387 949.4 385 949.4 383 949.4 381 948.6 379 949.5 377 949.5 375 949.6 373 949.6 371 949.3 369 949.3 367 949.3 365 951.6 363 952.0 361 952.0 359 952.1 357 952.1 355 949.2 353 947.8 351 947.8 349 951.7 347 951.6 345 951.6 343 951.6 341 950.8 339 950.8 337 950.8 335 950.7 333 949.8 331 949.7 329 949.7 327 949.7 325 950.7 323 950.7 321 953.7 319 953.7 317 953.7 315 953.6 313 949.8 311 948.0 309 948.0 307 948.0 305 948.0 303 949.1 301 949.1 299 949.1 297 949.1 295 948.1 293 948.1 291 948.1 289 948.1 287 947.0 285 947.0 283 948.9 281 948.9 279 950.4 277 950.4 275 950.5 273 950.5Z" fill="#00f"/>
<path d="M273 921.0L275 922.6 277 922.7 279 922.7 281 922.7 283 923.1 285 923.2 287 923.2 289 923.3 291 925.4 293 923.0 295 923.1 297 923.1 299 923.2 301 922.5 303 922.6 305 922.7 307 922.8 309 924.7 311 924.8 313 925.3 315 925.4 317 925.5 319 924.7 321 924.7 323 924.8 325 924.8 327 925.8 329 922.6 331 922.7 333 922.7 335 922.7 337 925.2 339 925.2 341 923.3 343 923.3 345 923.3 347 923.2 349 924.2 351 924.2 353 924.1 355 924.1 357 925.4 359 926.4 361 925.2 363 925.0 365 924.9 367 924.9 369 924.8 371 925.3 373 925.2 375 925.1 377 925.0 379 924.9 381 922.7 383 922.6 385 922.6 387 922.5 389 923.3 391 923.2 393 923.2 395 923.1 397 925.3 399 923.2 401 923.2 403 923.1 405 923.1 407 921.0 409 921.0 411 920.9 413 920.9 415 923.5 417 923.5 419 922.7 421 922.7 423 922.0 425 919.9 427 919.8 429 919.8 431 919.8 433 924.2 435 924.2 437 922.0 439 922.0 441 922.0 443 922.0 445 923.6 447 923.6 449 923.6 451 923.6 453 925.1 455 926.4 457 922.2 459 917.3 461 917.3 463 917.3 465 917.3 467 921.7 469 921.7 471 921.7 473 923.9 475 922.8 477 922.7 479 922.7 481 922.6 483 924.8 485 922.8 487 922.8 489 922.8 491 922.7 493 923.3 495 922.5 497 922.5 499 917.1 501 917.1 503 917.1 505 917.1 507 922.6 509 920.5 511 920.5 513 920.5 515 920.5 517 921.4 519 924.7 521 921.9 523 922.0 525 921.1 527 921.1 529 921.2 531 921.2 533 922.6 535 922.6 537 924.9 539 925.0 541 921.0 543 921.1 545 921.1 547 921.1 549 923.5 551 920.7 553 920.7 555 920.7 557 920.8 559 924.7 561 924.7 563 921.9 565 919.7 567 919.7 569 919.7 571 919.7 573 922.9 575 923.7 577 923.7 579 925.1 581 922.7 583 922.7 585 922.6 587 922.6 589 918.6 591 918.5 593 918.5 595 918.4 597 921.4 599 921.3 601 924.9 603 923.3 605 923.0 607 922.9 609 920.6 611 920.6 613 920.5 615 920.4 617 922.7 619 921.8 621 921.8 623 921.7 625 921.6 627 924.1 629 919.7 631 919.7 633 918.6 635 918.5 637 918.5 639 918.5 641 919.7 643 919.7 645 919.7 647 919.7 649 919.8 651 919.8 653 919.8 655 919.8 657 921.4 659 921.1 661 921.1 663 921.2 665 921.3 667 921.8 669 921.9 671 922.0 673 922.0 675 924.0 677 923.1 679 923.1 681 923.2 683 923.3 685 924.1 687 918.5 689 918.6 691 918.7 693 918.7 695 922.4 697 922.4 699 924.9 701 922.1 703 922.1 705 922.1 707 922.2 709 923.9 711 923.9 713 925.6 715 926.1 717 926.2 719 926.5 721 923.7 723 923.7 725 923.8 727 923.8 729 918.8 731 918.8 733 918.8 735 918.8 737 919.3 739 919.3 741 921.3 743 923.3 745 923.3 747 923.3 749 923.3 751 924.6 753 924.6 755 924.6 757 923.7 759 920.0 761 920.0 763 920.1 765 920.1 767 922.6 769 922.6 771 922.6 773 922.7 775 922.7 777 922.8 779 922.8 781 922.8 783 925.6 785 925.6 787 925.4 789 925.4 791 925.4 793 925.5 795 926.0 797 923.8 799 923.8 801 923.8 803 923.8 805 924.0 807 924.0 809 924.2 811 924.2 813 924.2 815 926.4 817 926.3 819 926.3 821 926.3 823 927.4 825 924.8 827 924.8 829 924.0 831 924.0 833 923.9 835 923.9 837 926.0 839 918.2 841 918.1 843 918.1 845 918.0 847 923.3 849 923.2 851 923.2 853 923.1 855 924.2 857 924.2 859 924.1 861 924.6 863 924.3 865 924.3 867 923.2 869 923.1 871 923.1 873 920.9 875 920.8 877 920.8 879 920.8 881 924.0 883 924.0 885 924.1 887 925.2 889 924.9 891 924.9 893 924.9 895 924.7 897 924.2 899 924.3 901 924.3 903 924.4 905 925.6 907 923.3 909 923.4 911 923.5 913 923.5 915 921.9 917 921.2 919 921.2 921 921.3 923 921.4 925 920.8 927 920.8 929 920.9 931 920.9 933 924.8 935 925.5 937 925.6 939 927.1 941 927.0 943 926.7 945 923.4 947 923.4 949 923.4 951 922.3 953 922.3 955 922.2 957 922.2 959 925.1 961 925.1 963 925.9 965 925.8 967 924.9 969 924.8 971 924.8 973 923.5 975 923.5 977 923.4 979 923.3 981 923.8 983 923.7 985 923.6 987 925.0 989 926.0 991 926.1 993 922.2 995 922.1 997 922.1 999 922.0 1001 922.2 1003 922.2 1005 922.2 1007 923.0 1009 922.9 1011 924.8 1013 924.8 1015 924.8 1017 924.8 1019 924.7 1021 924.0 1023 924.0 1025 924.0 1027 924.0 1029 924.4 1031 924.4 1033 924.3 1035 924.3 1037 924.3 1039 924.3 1041 924.3 1043 924.3 1045 923.3 1047 923.3 1049 923.2 1051 923.2 1053 924.0 1055 920.4 1057 920.3 1059 920.3 1061 920.3 1063 921.0 1065 920.9 1067 922.9 1069 922.9 1071 922.8 1073 925.3 1075 925.2 1077 925.2 1079 925.1 1081 924.6 1083 922.6 1085 922.5 1087 922.4 1089 922.4 1091 923.6 1093 921.8 1095 921.7 1097 921.7 1099 921.6 1101 923.0 1103 923.0 1105 924.0 1107 920.5 1109 920.5 1111 920.5 1113 920.5 1115 923.2 1117 923.0 1119 923.0 1121 919.9 1123 920.0 1125 920.0 1127 920.0 1129 923.7 1131 920.6 1133 920.7 1135 920.7 1137 920.8 1139 924.2 1141 924.3 1143 923.8 1145 918.0 1147 918.0 1149 918.1 1151 918.2 1153 919.3 1155 919.4 1157 919.5 1159 919.5 1161 920.3 1163 920.4 1165 920.4 1167 923.1 1169 923.1 1171 924.5 1173 923.3 1175 923.3 1177 922.8 1179 922.8 1181 922.9 1183 922.9 1185 921.3 1187 921.3 1189 921.3 1191 921.3 1193 921.8 1195 921.8 1197 921.8 1199 921.8 1201 926.2 1203 922.4 1205 922.4 1207 921.0 1209 920.1 1211 920.0 1213 920.0 1215 919.9 1217 923.2 1219 923.1 1221 923.6 1223 923.6 1225 924.5 1227 923.8 1229 923.6 1231 923.6 1233 919.0 1235 918.9 1237 918.9 1239 918.8 1241 923.5 1243 921.7 1245 921.7 1247 921.7 1249 921.7 1251 922.8 1253 922.1 1255 921.6 1257 921.6 1259 921.6 1261 921.7 1263 920.5 1265 920.5 1267 920.5 1269 920.2 1271 920.3 1273 920.3 1275 920.4 1277 921.5 1279 923.5 1281 921.6 1283 921.7 1285 921.7 1287 921.8 1289 922.1 1291 922.1 1293 922.2 1295 922.2 1297 925.0 1299 925.5 1301 924.4 1303 924.5 1305 922.6 1307 922.7 1309 922.7 1311 922.4 1313 922.4 1315 922.4 1317 922.5 1319 922.7 1321 922.7 1323 921.1 1325 921.1 1327 921.2 1329 921.2 1331 922.5 1333 922.5 1335 922.5 1337 922.5 1339 925.2 1341 921.9 1343 921.9 1345 921.9 1347 921.9 1349 922.5 1351 922.1 1353 922.1 1355 922.1 1357 922.2 1359 924.0 1361 924.1 1363 921.6 1365 921.6 1367 921.7 1369 921.7 1371 923.3 1373 924.9 1375 923.0 1377 923.1 1379 923.2 1381 922.4 1383 922.5 1385 922.5 1387 920.9 1389 921.0 1391 921.1 1393 921.1 1395 925.8 1397 923.3 1399 923.4 1401 923.4 1403 923.5 1405 925.9 1407 925.5 1409 922.8 1411 922.8 1413 922.9 1415 922.9 1417 923.3 1419 923.3 1421 923.3 1423 925.0 1425 925.0 1427 925.0 1429 926.5 1431 923.7 1433 923.6 1435 923.6 1437 923.6 1439 924.3 1441 925.4 1443 925.8 1445 925.7 1447 925.7 1449 925.9 1451 925.8 1453 925.8 1455 925.4 1457 925.3 1459 925.2 1461 924.2 1463 924.2 1465 924.1 1467 924.0 1469 924.3 1471 924.1 1473 924.0 1475 923.1 1477 920.8 1479 920.8 1481 920.7 1483 920.7 1485 923.5 1487 924.2 1489 924.7 1491 922.7 1493 922.7 1495 922.6 1497 917.8 1499 917.8 1501 917.8 1503 917.8 1505 918.7 1507 918.7 1509 923.7 1511 923.3 1513 923.3 1515 923.3 1517 923.4 1519 918.8 1521 918.8 1523 918.9 1525 918.9 1527 924.4 1529 924.3 1531 924.3 1533 924.3 1535 924.2 1537 924.2 1539 924.3 1541 924.3 1543 923.5 1545 923.5 1547 923.5 1549 920.6 1551 920.6 1553 920.6 1555 920.6 1557 921.4 1559 921.4 1561 923.7 1563 919.1 1565 919.1 1567 919.1 1569 919.0 1571 923.3 1573 921.9 1575 921.9 1577 919.5 1579 919.5 1581 919.4 1583 919.4 1585 922.3 1587 924.0 1589 922.5 1591 921.1 1593 921.0 1595 921.0 1597 921.0 1599 921.0 1601 921.9 1603 921.8 1605 922.3 1607 922.0 1609 922.0 1611 922.0 1613 921.9 1615 923.8 1617 922.4 1619 922.3 1621 922.3 1623 922.3 1625 922.4 1627 922.4 1629 922.9 1631 922.9 1633 918.6 1635 918.6 1637 918.6 1639 918.6 1641 921.2 1643 921.2 1645 921.2 1647 921.2 1649 922.0 1651 923.6 1653 924.3 1655 925.2 1657 925.2 1659 924.0 1661 924.0 1663 923.9 1665 923.6 1667 923.5 1669 923.5 1671 920.3 1673 920.3 1675 920.2 1677 920.1 1679 922.0 1681 918.7 1683 918.6 1685 918.6 1687 918.5 1689 918.3 1691 918.3 1693 918.2 1695 918.1 1697 921.1 1699 921.1 1701 921.0 1703 920.9 1705 920.5 1707 920.4 1709 920.4 1711 920.3 1713 921.9 1715 921.9 1717 921.9 1719 919.8 1721 914.6 1723 914.6 1725 914.6 1727 914.6 1729 921.8 1731 921.8 1733 918.6 1735 918.6 1737 918.7 1739 918.7 1741 918.7 1743 918.7 1745 918.8 1747 918.9 1749 921.5 1751 921.6 1753 921.7 1755 922.3 1757 922.8 1759 922.7 1761 922.7 1763 922.8 1765 922.9 1767 923.9 1769 923.9 1771 924.0 1773 922.9 1775 923.0 1777 923.0 1779 923.1 1781 925.7 1783 925.8 1785 926.3 1787 919.9 1789 919.9 1791 920.0 1793 920.0 1795 923.4 1797 923.8 1799 923.8 1801 923.8 1803 923.2 1805 921.5 1807 921.5 1809 921.5 1811 921.5 1813 922.7 1815 922.7 1817 922.7 1819 922.7 1821 923.0 1823 924.2 1825 923.3 1827 922.6 1829 922.6 1831 922.6 1833 922.5 1835 923.4 1837 923.7 1839 923.0 1841 923.0 1843 923.0 1845 922.1 1847 922.1 1849 922.1 1851 922.1 1853 923.0 1855 922.2 1857 922.2 1859 921.0 1861 921.0 1863 921.0 1865 921.0 1867 923.7 1869 922.4 1871 922.4 1873 922.4 1875 922.4 1877 924.5 1879 923.3 1881 923.3 1883 923.3 1885 922.4 1887 922.4 1889 922.4 1891 922.5 1893 923.8 1895 923.8 1897 924.6 1899 923.0 1901 923.0 1903 923.1 1905 923.1 1907 923.7 1909 923.7 1911 922.8 1913 922.7 1915 921.4 1917 921.4 1919 921.3 1921 920.7 1923 920.7 1925 920.7 1927 920.7 1929 925.3 1931 925.3 1933 924.3 1935 924.3 1937 924.3 1939 922.6 1941 922.6 1943 922.6 1945 922.6 1947 922.6 1949 921.4 1951 920.2 1953 920.2 1955 920.2 1957 920.2 1959 919.5 1961 919.5 1963 919.5 1965 919.6 1967 920.3 1969 922.9 1971 923.0 1973 924.5 1975 924.5 1977 922.5 1979 922.6 1981 922.7 1983 922.7 1985 921.1 1987 921.2 1989 921.3 1991 921.4 1993 926.3 1995 926.4 1997 926.5 1999 922.8 2001 922.0 2003 922.1 2005 922.1 2007 922.2 2009 924.7 2011 924.7 2013 924.8 2015 926.4 2017 926.5 2019 926.5 2021 922.7 2023 922.7 2025 922.7 2027 922.7 2029 923.8 2031 923.8 2033 922.6 2035 922.5 2037 922.5 2039 922.5 2041 923.3 2043 923.3 2045 923.2 2047 923.2 2049 923.4 2051 923.3 2053 927.5 2055 927.5 2057 920.7 2059 920.7 2061 920.6 2063 920.5 2065 925.2 2067 920.2 2069 920.1 2071 920.1 2073 920.0 2075 921.9 2077 921.8 2079 921.8 2081 925.1 2083 925.0 2085 924.9 2087 924.9 2089 924.8 2091 925.0 2093 925.0 2095 926.1 2097 925.0 2099 924.9 2101 924.9 2103 923.8 2105 923.8 2107 923.8 2109 923.8 2111 924.2 2113 924.2 2115 924.2 2117 925.2 2119 925.7 2121 924.4 2123 922.2 2125 922.2 2127 922.2 2129 922.3 2131 923.9 2133 923.9 2135 923.9 2137 918.1 2139 918.1 2141 918.1 2143 918.1 2145 923.6 2147 919.5 2149 919.5 2151 919.5 2153 919.5 2155 922.9 2157 921.8 2159 921.8 2161 921.8 2163 921.7 2165 918.1 2167 918.1 2169 918.0 2171 918.0 2173 922.2 2175 922.2 2177 922.2 2179 924.4 2181 924.4 2183 924.4 2185 925.0 2187 924.9 2189 924.9 2191 924.9 2193 924.9 2195 923.5 2197 923.5 2199 923.5 2201 922.8 2203 922.8 2205 922.5 2207 922.5 2209 922.5 2211 922.5 2213 924.1 2215 924.1 2217 919.8 2219 919.8 2221 919.8 2223 919.8 2225 923.6 2227 923.3 2229 922.9 2231 922.9 2233 915.7 2235 915.7 2237 915.7 2239 915.8 2241 923.7 2243 923.2 2245 923.3 2247 923.3 2249 923.3 2251 924.9 2253 924.9 2255 924.4 2257 919.1 2259 919.1 2261 919.1 2263 919.1 2265 921.5 2267 921.4 2269 921.4 2271 921.4 2273 925.7 2273 948.7 2271 948.7 2269 948.7 2267 951.9 2265 951.9 2263 951.9 2261 952.0 2259 951.9 2257 951.9 2255 953.9 2253 953.9 2251 953.9 2249 953.9 2247 952.3 2245 952.3 2243 952.2 2241 952.2 2239 951.6 2237 950.8 2235 950.8 2233 950.6 2231 951.8 2229 951.8 2227 951.7 2225 955.4 2223 955.4 2221 955.3 2219 955.3 2217 950.9 2215 950.9 2213 950.9 2211 950.1 2209 950.1 2207 950.1 2205 950.0 2203 954.4 2201 954.4 2199 954.4 2197 954.4 2195 952.2 2193 952.2 2191 953.3 2189 953.3 2187 953.3 2185 953.3 2183 952.5 2181 952.5 2179 950.2 2177 950.4 2175 950.4 2173 950.4 2171 951.5 2169 951.5 2167 951.5 2165 951.6 2163 950.5 2161 950.5 2159 950.1 2157 952.5 2155 952.5 2153 952.5 2151 952.6 2149 952.3 2147 954.2 2145 954.2 2143 954.2 2141 954.2 2139 948.4 2137 952.0 2135 952.0 2133 952.0 2131 952.0 2129 950.4 2127 949.2 2125 949.7 2123 952.9 2121 952.9 2119 952.9 2117 952.9 2115 948.0 2113 948.3 2111 948.3 2109 951.7 2107 951.7 2105 951.8 2103 951.8 2101 950.1 2099 955.0 2097 955.0 2095 955.0 2093 955.1 2091 952.3 2089 951.0 2087 951.1 2085 951.9 2083 952.0 2081 952.0 2079 955.2 2077 955.3 2075 955.3 2073 955.4 2071 951.9 2069 958.4 2067 958.5 2065 958.5 2063 958.6 2061 953.8 2059 953.9 2057 953.9 2055 953.8 2053 953.8 2051 953.9 2049 954.0 2047 952.3 2045 949.6 2043 950.9 2041 950.9 2039 952.5 2037 952.5 2035 952.6 2033 952.6 2031 952.6 2029 952.6 2027 951.9 2025 951.9 2023 951.9 2021 954.9 2019 954.8 2017 954.8 2015 954.8 2013 955.0 2011 954.9 2009 954.9 2007 954.8 2005 952.2 2003 952.1 2001 950.3 1999 949.8 1997 953.7 1995 953.6 1993 954.5 1991 954.4 1989 954.3 1987 954.3 1985 950.9 1983 953.7 1981 953.6 1979 953.6 1977 953.5 1975 953.2 1973 953.1 1971 953.1 1969 953.0 1967 951.4 1965 951.9 1963 951.9 1961 951.9 1959 956.6 1957 956.6 1955 956.6 1953 956.6 1951 953.1 1949 953.1 1947 948.7 1945 948.6 1943 948.2 1941 949.5 1939 949.5 1937 949.5 1935 949.5 1933 953.3 1931 953.3 1929 953.3 1927 953.4 1925 948.4 1923 948.4 1921 949.7 1919 949.8 1917 949.9 1915 949.9 1913 949.9 1911 949.9 1909 949.1 1907 948.4 1905 952.4 1903 952.4 1901 953.0 1899 953.0 1897 953.0 1895 952.9 1893 952.5 1891 952.5 1889 952.4 1887 952.1 1885 952.1 1883 952.1 1881 952.0 1879 952.0 1877 952.0 1875 956.4 1873 956.4 1871 956.4 1869 956.4 1867 950.7 1865 950.7 1863 951.6 1861 951.6 1859 955.0 1857 955.0 1855 955.0 1853 955.0 1851 952.7 1849 952.7 1847 952.7 1845 953.1 1843 953.1 1841 953.1 1839 953.1 1837 949.9 1835 949.5 1833 948.4 1831 952.6 1829 959.2 1827 959.2 1825 959.2 1823 959.3 1821 953.1 1819 953.1 1817 953.1 1815 952.2 1813 952.2 1811 951.5 1809 949.2 1807 951.4 1805 953.9 1803 954.3 1801 954.3 1799 954.3 1797 954.3 1795 948.8 1793 948.7 1791 950.6 1789 950.6 1787 950.7 1785 950.7 1783 950.6 1781 950.6 1779 950.8 1777 950.8 1775 950.7 1773 952.7 1771 952.6 1769 952.5 1767 952.5 1765 950.8 1763 950.8 1761 950.8 1759 950.8 1757 950.7 1755 950.6 1753 950.9 1751 950.8 1749 950.7 1747 950.6 1745 955.5 1743 955.5 1741 955.4 1739 955.4 1737 948.3 1735 949.7 1733 950.4 1731 950.4 1729 950.4 1727 950.4 1725 947.8 1723 947.8 1721 946.9 1719 946.9 1717 947.5 1715 949.2 1713 949.3 1711 949.3 1709 949.3 1707 948.4 1705 948.3 1703 948.6 1701 950.9 1699 951.0 1697 951.0 1695 951.1 1693 951.0 1691 951.1 1689 951.2 1687 951.2 1685 956.0 1683 956.1 1681 956.2 1679 956.3 1677 952.8 1675 952.6 1673 950.4 1671 950.4 1669 950.5 1667 950.3 1665 952.0 1663 952.0 1661 953.6 1659 953.6 1657 953.6 1655 953.7 1653 951.4 1651 952.4 1649 952.4 1647 952.4 1645 952.4 1643 952.5 1641 952.5 1639 952.5 1637 952.5 1635 951.4 1633 951.4 1631 951.3 1629 952.2 1627 952.2 1625 952.2 1623 952.2 1621 951.7 1619 951.8 1617 951.8 1615 951.8 1613 951.8 1611 951.8 1609 954.7 1607 954.8 1605 954.8 1603 954.8 1601 952.1 1599 952.1 1597 952.1 1595 951.5 1593 951.5 1591 951.5 1589 951.2 1587 951.2 1585 951.3 1583 951.3 1581 954.0 1579 954.0 1577 954.0 1575 954.1 1573 952.4 1571 952.4 1569 952.4 1567 951.4 1565 951.4 1563 951.4 1561 949.5 1559 949.5 1557 948.8 1555 950.3 1553 957.4 1551 957.4 1549 957.4 1547 957.4 1545 952.4 1543 952.4 1541 952.4 1539 959.6 1537 959.6 1535 959.6 1533 959.5 1531 949.9 1529 953.9 1527 953.8 1525 953.8 1523 953.7 1521 952.7 1519 951.5 1517 951.9 1515 951.9 1513 951.8 1511 951.8 1509 952.5 1507 952.4 1505 955.2 1503 955.2 1501 955.2 1499 955.2 1497 955.8 1495 955.8 1493 955.8 1491 955.8 1489 950.7 1487 950.8 1485 951.1 1483 951.7 1481 951.7 1479 951.7 1477 951.8 1475 951.6 1473 951.6 1471 951.7 1469 951.7 1467 953.6 1465 956.5 1463 956.6 1461 956.7 1459 956.7 1457 953.3 1455 953.4 1453 953.5 1451 953.6 1449 951.0 1447 951.1 1445 960.7 1443 960.8 1441 960.9 1439 960.9 1437 951.5 1435 955.5 1433 955.5 1431 955.6 1429 955.6 1427 952.3 1425 957.6 1423 957.6 1421 957.6 1419 958.0 1417 958.0 1415 958.0 1413 957.9 1411 960.2 1409 960.2 1407 960.2 1405 960.1 1403 953.4 1401 953.4 1399 953.4 1397 953.3 1395 953.3 1393 951.2 1391 952.4 1389 952.4 1387 952.3 1385 952.3 1383 952.0 1381 952.0 1379 950.2 1377 950.1 1375 952.5 1373 952.4 1371 952.4 1369 952.3 1367 953.0 1365 952.9 1363 953.5 1361 953.5 1359 953.7 1357 953.7 1355 953.6 1353 953.6 1351 952.2 1349 952.1 1347 951.7 1345 951.6 1343 950.6 1341 951.1 1339 951.1 1337 954.7 1335 954.7 1333 954.7 1331 954.7 1329 950.5 1327 950.5 1325 957.2 1323 957.2 1321 957.2 1319 957.2 1317 954.5 1315 951.1 1313 951.1 1311 952.6 1309 952.6 1307 952.6 1305 953.5 1303 953.5 1301 953.5 1299 953.4 1297 950.0 1295 950.0 1293 950.0 1291 952.5 1289 952.5 1287 952.4 1285 952.4 1283 948.2 1281 947.5 1279 947.5 1277 948.7 1275 949.5 1273 949.4 1271 949.4 1269 949.7 1267 951.2 1265 951.2 1263 951.2 1261 951.1 1259 952.9 1257 952.9 1255 952.8 1253 952.8 1251 950.7 1249 950.7 1247 950.7 1245 951.4 1243 951.4 1241 951.4 1239 951.4 1237 950.8 1235 950.8 1233 953.2 1231 953.3 1229 953.3 1227 953.4 1225 951.2 1223 950.8 1221 950.8 1219 953.9 1217 954.0 1215 955.7 1213 955.8 1211 955.8 1209 955.9 1207 950.8 1205 951.6 1203 951.7 1201 951.7 1199 951.8 1197 952.7 1195 953.3 1193 953.3 1191 953.3 1189 953.3 1187 952.7 1185 952.7 1183 951.5 1181 951.5 1179 951.5 1177 951.7 1175 951.6 1173 951.6 1171 951.8 1169 953.7 1167 953.6 1165 953.8 1163 953.7 1161 953.6 1159 953.6 1157 951.6 1155 951.6 1153 956.7 1151 956.6 1149 956.5 1147 956.5 1145 952.9 1143 952.8 1141 950.1 1139 950.0 1137 950.6 1135 950.5 1133 950.8 1131 950.7 1129 950.7 1127 950.7 1125 949.9 1123 949.9 1121 948.4 1119 948.4 1117 948.0 1115 951.7 1113 951.7 1111 952.9 1109 953.1 1107 953.1 1105 953.1 1103 953.1 1101 952.4 1099 952.5 1097 952.5 1095 949.2 1093 953.6 1091 956.8 1089 956.9 1087 956.9 1085 957.0 1083 949.7 1081 950.1 1079 950.2 1077 950.2 1075 950.3 1073 948.5 1071 952.2 1069 954.9 1067 955.0 1065 955.0 1063 955.1 1061 952.2 1059 952.4 1057 952.4 1055 954.3 1053 954.4 1051 954.4 1049 954.4 1047 951.2 1045 950.6 1043 951.6 1041 951.6 1039 951.6 1037 951.7 1035 951.1 1033 951.1 1031 949.1 1029 949.2 1027 949.2 1025 952.8 1023 952.8 1021 952.9 1019 952.9 1017 950.2 1015 953.4 1013 953.5 1011 953.5 1009 953.9 1007 954.0 1005 954.0 1003 954.0 1001 951.1 999 950.1 997 949.5 995 953.9 993 955.2 991 955.3 989 955.3 987 955.4 985 951.7 983 951.8 981 951.8 979 949.7 977 950.4 975 956.7 973 956.8 971 956.8 969 956.9 967 956.6 965 956.6 963 956.7 961 951.4 959 951.4 957 951.5 955 951.8 953 952.6 951 952.7 949 957.1 947 957.1 945 957.1 943 957.1 941 953.3 939 950.8 937 950.0 935 950.6 933 952.6 931 953.8 929 953.7 927 953.7 925 953.6 923 948.9 921 948.9 919 950.1 917 950.1 915 950.7 913 950.7 911 950.6 909 950.5 907 950.4 905 950.3 903 950.3 901 951.2 899 951.1 897 951.1 895 951.0 893 950.3 891 950.2 889 952.0 887 952.0 885 952.0 883 953.8 881 953.8 879 953.8 877 953.8 875 951.8 873 953.3 871 953.4 869 953.4 867 953.4 865 952.4 863 952.4 861 951.0 859 951.1 857 951.1 855 952.0 853 952.1 851 954.6 849 954.6 847 954.7 845 954.7 843 951.2 841 951.2 839 953.8 837 953.9 835 953.9 833 954.0 831 950.6 829 950.7 827 949.8 825 951.9 823 952.0 821 952.0 819 953.1 817 953.1 815 953.1 813 953.1 811 954.6 809 954.6 807 954.6 805 954.6 803 955.8 801 955.8 799 955.7 797 955.7 795 954.2 793 954.2 791 954.1 789 954.1 787 953.8 785 953.7 783 953.7 781 953.6 779 951.2 777 951.2 775 950.8 773 950.5 771 951.7 769 953.1 767 953.0 765 953.0 763 953.0 761 955.1 759 955.1 757 955.0 755 956.0 753 956.0 751 955.9 749 955.9 747 953.1 745 953.0 743 953.0 741 953.0 739 948.0 737 951.2 735 952.1 733 952.1 731 952.2 729 952.2 727 952.2 725 952.2 723 949.7 721 950.2 719 950.2 717 950.1 715 952.9 713 956.2 711 956.2 709 956.2 707 956.1 705 951.0 703 951.4 701 951.3 699 951.3 697 951.2 695 950.4 693 950.2 691 950.2 689 952.7 687 952.6 685 952.6 683 953.1 681 953.0 679 953.0 677 952.9 675 948.4 673 947.6 671 948.7 669 952.8 667 952.8 665 952.7 663 952.7 661 948.4 659 948.3 657 948.3 655 948.2 653 948.2 651 948.1 649 947.2 647 946.3 645 949.6 643 951.6 641 951.6 639 951.6 637 951.7 635 949.0 633 949.5 631 949.5 629 950.0 627 950.1 625 950.1 623 950.2 621 953.8 619 953.9 617 954.0 615 954.0 613 949.9 611 948.7 609 948.9 607 948.9 605 952.0 603 952.0 601 952.1 599 952.2 597 948.7 595 948.7 593 949.1 591 949.2 589 949.2 587 949.3 585 952.0 583 954.2 581 954.2 579 954.2 577 954.3 575 950.8 573 950.8 571 950.8 569 952.2 567 952.2 565 952.2 563 952.2 561 950.9 559 953.1 557 955.8 555 955.7 553 955.7 551 955.7 549 951.3 547 951.3 545 951.2 543 951.2 541 950.7 539 950.4 537 950.4 535 952.0 533 951.9 531 951.9 529 951.9 527 952.4 525 952.4 523 953.4 521 953.4 519 953.3 517 953.3 515 951.8 513 951.8 511 951.8 509 951.8 507 949.6 505 949.6 503 949.6 501 949.6 499 953.9 497 953.9 495 954.0 493 954.0 491 949.8 489 949.8 487 951.3 485 951.3 483 954.4 481 954.5 479 954.5 477 954.5 475 951.9 473 951.9 471 951.9 469 952.0 467 951.8 465 951.3 463 951.3 461 949.8 459 949.8 457 951.0 455 951.0 453 951.1 451 951.1 449 951.2 447 951.2 445 951.2 443 951.2 441 950.2 439 950.2 437 950.2 435 950.2 433 953.2 431 953.2 429 954.2 427 954.2 425 954.3 423 954.3 421 952.0 419 949.5 417 952.2 415 952.2 413 952.2 411 952.2 409 950.3 407 950.1 405 950.1 403 950.2 401 952.8 399 952.8 397 952.9 395 952.9 393 951.4 391 949.5 389 951.1 387 951.1 385 955.4 383 955.5 381 955.5 379 955.6 377 952.0 375 952.1 373 952.1 371 951.8 369 957.4 367 957.4 365 957.5 363 957.6 361 951.9 359 951.9 357 953.8 355 953.8 353 953.9 351 953.9 349 952.2 347 953.5 345 953.5 343 953.5 341 953.5 339 952.8 337 952.8 335 952.8 333 952.7 331 955.1 329 955.0 327 955.0 325 955.0 323 953.0 321 952.3 319 951.1 317 950.7 315 950.7 313 950.6 311 950.5 309 949.9 307 949.9 305 953.8 303 953.8 301 953.7 299 955.3 297 955.2 295 955.2 293 955.1 291 951.4 289 951.4 287 952.1 285 952.0 283 952.2 281 952.1 279 952.1 277 952.1 275 949.8 273 949.8Z" fill="#f00"/>
</g>
<text x="275.3" y="1811.7" font-size="61" fill="#262626" class="g" text-anchor="middle">0</text>
<text x="474.6" y="1811.7" font-size="61" fill="#262626" class="g" text-anchor="middle">0.5</text>
<text x="673.8" y="1811.7" font-size="61" fill="#262626" class="g" text-anchor="middle">1</text>
<text x="873.1" y="1811.7" font-size="61" fill="#262626" class="g" text-anchor="middle">1.5</text>
<text x="1072.4" y="1811.7" font-size="61" fill="#262626" class="g" text-anchor="middle">2</text>
<text x="1271.7" y="1811.7" font-size="61" fill="#262626" class="g" text-anchor="middle">2.5</text>
<text x="1470.9" y="1811.7" font-size="61" fill="#262626" class="g" text-anchor="middle">3</text>
<text x="1670.2" y="1811.7" font-size="61" fill="#262626" class="g" text-anchor="middle">3.5</text>
<text x="1869.5" y="1811.7" font-size="61" fill="#262626" class="g" text-anchor="middle">4</text>
<text x="2068.7" y="1811.7" font-size="61" fill="#262626" class="g" text-anchor="middle">4.5</text>
<text x="2268.0" y="1811.7" font-size="61" fill="#262626" class="g" text-anchor="middle">5</text>
<text x="247.3" y="1579.8" font-size="61" fill="#262626" class="g" text-anchor="end">-10</text>
<text x="251.3" y="1270.5" font-size="61" fill="#262626" class="g" text-anchor="end">-5</text>
<text x="248.5" y="961.2" font-size="61" fill="#262626" class="g" text-anchor="end">0</text>
<text x="249.5" y="652.0" font-size="61" fill="#262626" class="g" text-anchor="end">5</text>
<text x="250.0" y="342.7" font-size="61" fill="#262626" class="g" text-anchor="end">10</text>
<text x="1269.6" y="1899.7" font-size="67.1" fill="#262626" class="g" text-anchor="middle">Time(sec)</text>
<text transform="translate(122.0 938.0) rotate(-90)" font-size="67.5" fill="#262626" class="g" text-anchor="middle">Position(um)</text>
<text x="423.0" y="88.7" font-size="67.4" fill="#000" class="k" text-anchor="start" ><tspan>Attenuation rate at 1Hz. with C</tspan><tspan dx="1" dy="32" font-size="53.7">conv</tspan><tspan dx="0" dy="-32">:97%, with C</tspan><tspan dx="1" dy="32" font-size="53.7">opt</tspan><tspan dx="0" dy="-32">:97.2%</tspan></text>
<rect x="1687.3" y="210.5" width="524.5" height="296.9" fill="#fff" stroke="#262626" stroke-width="3.6"/>
<path d="M1704.7 255.8H1876.5" stroke="#000" stroke-width="8" stroke-dasharray="5.5 12.9"/>
<path d="M1704.7 344.9H1890" stroke="#00f" stroke-width="8" stroke-dasharray="38.2 12.3 10.9 12"/>
<path d="M1704.7 447.5H1890" stroke="#f00" stroke-width="10.6"/>
<text x="1902.8" y="277.4" font-size="55" fill="#000" class="k">OIS disable</text>
<text x="1901.5" y="356.2" font-size="55" fill="#000" class="k" text-anchor="start" ><tspan>with C</tspan><tspan dx="4" dy="27" font-size="44">conv</tspan></text>
<text x="1901.5" y="457.1" font-size="55" fill="#000" class="k" text-anchor="start" ><tspan>with C</tspan><tspan dx="4" dy="27" font-size="44">opt</tspan></text>
<text transform="translate(1229.2 2068.0) scale(1.015 1)" class="cap" font-size="71" fill="#000" text-anchor="middle">(a)</text>
<rect x="249.5" y="2339.6" width="2051.6" height="1620.3" fill="none" stroke="#262626" stroke-width="4.0" stroke-linejoin="miter"/>
<path d="M454.7 3959.9V3939.4M454.7 2339.6V2360.1M659.8 3959.9V3939.4M659.8 2339.6V2360.1M865.0 3959.9V3939.4M865.0 2339.6V2360.1M1070.1 3959.9V3939.4M1070.1 2339.6V2360.1M1275.3 3959.9V3939.4M1275.3 2339.6V2360.1M1480.5 3959.9V3939.4M1480.5 2339.6V2360.1M1685.6 3959.9V3939.4M1685.6 2339.6V2360.1M1890.8 3959.9V3939.4M1890.8 2339.6V2360.1M2095.9 3959.9V3939.4M2095.9 2339.6V2360.1M249.5 3787.0H270.0M2301.1 3787.0H2280.6M249.5 3468.5H270.0M2301.1 3468.5H2280.6M249.5 3150.0H270.0M2301.1 3150.0H2280.6M249.5 2831.5H270.0M2301.1 2831.5H2280.6M249.5 2513.0H270.0M2301.1 2513.0H2280.6" stroke="#262626" stroke-width="4.0" fill="none"/>
<defs><clipPath id="cb"><rect x="244.5" y="2334.6" width="2061.6" height="1630.3"/></clipPath></defs>
<g clip-path="url(#cb)">
<path d="M246 3112.8L248 3110.0 250 3109.8 252 3110.1 254 3111.0 256 3113.4 258 3112.2 260 3114.7 262 3117.6 264 3120.9 266 3127.5 268 3132.3 270 3134.2 272 3138.1 274 3142.0 276 3144.8 278 3148.3 280 3151.4 282 3154.1 284 3156.0 286 3157.7 288 3158.9 290 3159.5 292 3160.4 294 3159.8 296 3158.6 298 3156.9 300 3156.8 302 3154.1 304 3149.7 306 3146.3 308 3142.6 310 3138.8 312 3134.0 314 3130.2 316 3126.4 318 3122.9 320 3122.0 322 3119.1 324 3116.6 326 3112.6 328 3111.2 330 3110.0 332 3109.7 334 3110.0 336 3110.9 338 3112.4 340 3117.3 342 3119.5 344 3122.0 346 3124.1 348 3127.6 350 3131.4 352 3135.3 354 3139.0 356 3142.8 358 3146.5 360 3149.9 362 3154.8 364 3157.5 366 3159.8 368 3162.0 370 3157.6 372 3158.2 374 3158.2 376 3157.6 378 3158.1 380 3159.1 382 3156.8 384 3154.6 386 3151.5 388 3148.1 390 3141.6 392 3137.8 394 3133.8 396 3129.9 398 3125.2 400 3121.6 402 3118.3 404 3115.3 406 3114.9 408 3112.1 410 3110.6 412 3107.8 414 3107.4 416 3107.7 418 3108.5 420 3112.3 422 3114.2 424 3116.6 426 3117.7 428 3120.1 430 3123.6 432 3127.3 434 3131.2 436 3138.1 438 3140.4 440 3144.1 442 3147.5 444 3150.6 446 3153.5 448 3156.4 450 3158.2 452 3159.4 454 3160.1 456 3160.9 458 3160.4 460 3159.2 462 3157.6 464 3155.6 466 3152.9 468 3149.9 470 3142.4 472 3138.8 474 3135.0 476 3131.1 478 3131.0 480 3127.2 482 3123.0 484 3119.8 486 3116.8 488 3114.3 490 3113.1 492 3111.6 494 3110.7 496 3107.4 498 3107.6 500 3108.5 502 3106.9 504 3108.8 506 3111.2 508 3114.1 510 3122.3 512 3127.7 514 3131.5 516 3133.0 518 3136.9 520 3140.7 522 3144.4 524 3151.0 526 3152.6 528 3155.3 530 3157.6 532 3158.6 534 3159.8 536 3160.5 538 3160.1 540 3159.5 542 3158.4 544 3155.6 546 3152.8 548 3150.2 550 3145.2 552 3141.8 554 3138.2 556 3134.4 558 3131.7 560 3127.8 562 3124.0 564 3120.4 566 3118.3 568 3115.3 570 3112.8 572 3111.8 574 3110.3 576 3109.3 578 3104.8 580 3105.0 582 3105.9 584 3107.2 586 3113.7 588 3114.1 590 3116.9 592 3120.2 594 3122.5 596 3126.3 598 3130.1 600 3134.0 602 3141.4 604 3146.1 606 3147.1 608 3150.2 610 3153.0 612 3155.3 614 3157.2 616 3158.5 618 3159.1 620 3160.8 622 3160.3 624 3159.2 626 3156.2 628 3154.0 630 3151.4 632 3148.3 634 3145.5 636 3141.8 638 3132.7 640 3128.8 642 3124.8 644 3121.0 646 3123.8 648 3119.1 650 3116.1 652 3111.7 654 3109.6 656 3108.0 658 3107.0 660 3110.3 662 3106.9 664 3107.7 666 3109.1 668 3111.0 670 3115.9 672 3118.8 674 3122.3 676 3125.8 678 3123.6 680 3127.5 682 3131.4 684 3135.3 686 3144.2 688 3147.7 690 3148.9 692 3151.7 694 3154.1 696 3155.9 698 3159.1 700 3161.0 702 3162.2 704 3162.1 706 3160.6 708 3159.0 710 3156.9 712 3154.3 714 3150.1 716 3146.4 718 3142.8 720 3135.8 722 3132.0 724 3128.1 726 3124.4 728 3121.6 730 3118.3 732 3115.4 734 3114.3 736 3112.8 738 3111.3 740 3109.5 742 3109.1 744 3109.3 746 3108.6 748 3109.9 750 3111.8 752 3114.2 754 3120.4 756 3123.6 758 3127.1 760 3130.7 762 3134.6 764 3138.5 766 3142.4 768 3147.1 770 3150.5 772 3151.4 774 3154.2 776 3156.5 778 3158.4 780 3160.4 782 3161.1 784 3157.6 786 3157.1 788 3156.0 790 3154.4 792 3155.7 794 3151.8 796 3148.3 798 3144.9 800 3141.3 802 3137.5 804 3134.2 806 3129.0 808 3125.2 810 3121.6 812 3118.3 814 3116.0 816 3113.8 818 3112.6 820 3111.0 822 3111.1 824 3110.6 826 3110.8 828 3111.6 830 3112.9 832 3114.9 834 3117.3 836 3121.3 838 3121.0 840 3124.5 842 3128.2 844 3132.1 846 3139.2 848 3143.1 850 3146.8 852 3149.9 854 3152.9 856 3152.2 858 3154.5 860 3156.4 862 3157.7 864 3160.2 866 3160.3 868 3159.9 870 3158.8 872 3159.2 874 3156.9 876 3152.4 878 3149.4 880 3146.0 882 3141.6 884 3136.5 886 3132.6 888 3128.7 890 3124.9 892 3126.4 894 3120.5 896 3117.5 898 3114.9 900 3111.3 902 3109.7 904 3108.6 906 3108.2 908 3110.4 910 3111.8 912 3113.1 914 3116.4 916 3118.7 918 3118.1 920 3121.3 922 3124.8 924 3128.5 926 3134.7 928 3138.6 930 3141.6 932 3145.4 934 3148.9 936 3152.1 938 3155.1 940 3157.5 942 3159.4 944 3159.5 946 3160.2 948 3160.4 950 3160.0 952 3161.9 954 3157.3 956 3154.4 958 3151.8 960 3148.9 962 3141.0 964 3137.5 966 3133.7 968 3129.8 970 3130.8 972 3127.1 974 3125.6 976 3122.3 978 3117.7 980 3115.1 982 3113.0 984 3111.4 986 3110.7 988 3111.6 990 3108.5 992 3109.2 994 3110.5 996 3112.3 998 3116.5 1000 3121.4 1002 3124.5 1004 3128.0 1006 3131.7 1008 3135.5 1010 3133.9 1012 3137.7 1014 3141.4 1016 3144.9 1018 3148.4 1020 3151.2 1022 3153.6 1024 3155.4 1026 3161.2 1028 3159.3 1030 3159.1 1032 3158.6 1034 3157.6 1036 3156.0 1038 3155.2 1040 3152.6 1042 3149.2 1044 3145.9 1046 3142.2 1048 3138.4 1050 3135.7 1052 3131.8 1054 3128.8 1056 3125.2 1058 3121.8 1060 3118.7 1062 3115.4 1064 3113.3 1066 3111.6 1068 3109.9 1070 3109.4 1072 3109.5 1074 3110.2 1076 3111.7 1078 3115.3 1080 3117.6 1082 3119.8 1084 3123.0 1086 3126.5 1088 3129.6 1090 3133.0 1092 3136.0 1094 3139.8 1096 3143.6 1098 3147.1 1100 3150.6 1102 3153.4 1104 3154.6 1106 3156.5 1108 3157.9 1110 3158.7 1112 3161.5 1114 3160.7 1116 3159.7 1118 3157.3 1120 3155.2 1122 3152.6 1124 3149.7 1126 3148.3 1128 3142.5 1130 3136.5 1132 3132.6 1134 3128.7 1136 3124.9 1138 3125.1 1140 3121.7 1142 3118.9 1144 3114.3 1146 3112.1 1148 3110.5 1150 3109.4 1152 3109.2 1154 3108.5 1156 3109.1 1158 3110.4 1160 3112.2 1162 3116.2 1164 3119.0 1166 3121.3 1168 3124.8 1170 3128.5 1172 3130.4 1174 3134.3 1176 3138.1 1178 3141.9 1180 3148.5 1182 3151.7 1184 3154.3 1186 3156.8 1188 3158.7 1190 3160.1 1192 3161.0 1194 3161.1 1196 3157.7 1198 3156.7 1200 3155.2 1202 3153.2 1204 3151.4 1206 3148.5 1208 3145.2 1210 3144.2 1212 3140.4 1214 3134.9 1216 3129.9 1218 3126.1 1220 3122.4 1222 3119.1 1224 3119.3 1226 3117.5 1228 3110.8 1230 3109.2 1232 3108.1 1234 3107.5 1236 3109.2 1238 3109.9 1240 3109.9 1242 3111.7 1244 3114.0 1246 3116.7 1248 3120.0 1250 3123.4 1252 3127.1 1254 3129.1 1256 3133.0 1258 3136.8 1260 3140.5 1262 3147.2 1264 3150.9 1266 3153.8 1268 3153.7 1270 3155.6 1272 3155.0 1274 3155.8 1276 3156.0 1278 3155.6 1280 3157.6 1282 3156.0 1284 3156.8 1286 3154.4 1288 3151.5 1290 3146.2 1292 3142.0 1294 3138.2 1296 3134.3 1298 3130.4 1300 3124.0 1302 3120.4 1304 3117.0 1306 3113.9 1308 3114.3 1310 3112.1 1312 3111.5 1314 3106.3 1316 3105.8 1318 3105.9 1320 3106.6 1322 3110.3 1324 3112.1 1326 3110.2 1328 3112.9 1330 3116.1 1332 3119.6 1334 3127.1 1336 3133.1 1338 3134.7 1340 3137.0 1342 3140.8 1344 3144.3 1346 3147.2 1348 3150.1 1350 3152.6 1352 3154.6 1354 3159.5 1356 3160.4 1358 3160.7 1360 3160.5 1362 3159.8 1364 3158.3 1366 3152.7 1368 3150.2 1370 3146.7 1372 3143.4 1374 3139.8 1376 3136.1 1378 3136.6 1380 3132.8 1382 3129.0 1384 3125.3 1386 3121.7 1388 3117.6 1390 3114.9 1392 3112.7 1394 3111.0 1396 3110.8 1398 3110.2 1400 3110.0 1402 3110.6 1404 3107.3 1406 3109.0 1408 3111.3 1410 3114.0 1412 3120.5 1414 3123.9 1416 3127.6 1418 3131.5 1420 3135.4 1422 3141.0 1424 3146.3 1426 3149.9 1428 3149.8 1430 3152.7 1432 3155.2 1434 3157.2 1436 3161.5 1438 3162.4 1440 3162.6 1442 3161.5 1444 3160.6 1446 3156.5 1448 3154.5 1450 3152.0 1452 3149.1 1454 3146.8 1456 3143.2 1458 3139.5 1460 3135.6 1462 3133.5 1464 3130.7 1466 3126.3 1468 3122.9 1470 3114.0 1472 3111.3 1474 3109.1 1476 3107.4 1478 3111.6 1480 3110.0 1482 3110.0 1484 3110.6 1486 3111.7 1488 3113.5 1490 3115.7 1492 3120.1 1494 3123.2 1496 3126.8 1498 3130.5 1500 3134.9 1502 3138.7 1504 3142.7 1506 3146.4 1508 3149.7 1510 3152.8 1512 3155.7 1514 3157.7 1516 3159.7 1518 3159.9 1520 3160.7 1522 3161.0 1524 3160.7 1526 3158.9 1528 3157.4 1530 3155.4 1532 3152.9 1534 3152.9 1536 3146.5 1538 3143.0 1540 3138.3 1542 3134.4 1544 3130.5 1546 3126.7 1548 3126.2 1550 3116.8 1552 3113.7 1554 3111.0 1556 3108.8 1558 3110.7 1560 3109.5 1562 3108.9 1564 3109.0 1566 3110.1 1568 3111.3 1570 3111.8 1572 3114.1 1574 3116.8 1576 3119.9 1578 3125.5 1580 3129.2 1582 3133.0 1584 3136.9 1586 3141.6 1588 3145.4 1590 3144.9 1592 3148.2 1594 3151.1 1596 3153.7 1598 3159.3 1600 3160.8 1602 3161.7 1604 3161.2 1606 3160.9 1608 3160.0 1610 3158.6 1612 3159.4 1614 3155.4 1616 3152.5 1618 3149.2 1620 3145.7 1622 3141.9 1624 3137.8 1626 3133.9 1628 3130.0 1630 3126.3 1632 3122.0 1634 3118.8 1636 3116.1 1638 3113.8 1640 3112.1 1642 3110.6 1644 3109.9 1646 3109.9 1648 3110.4 1650 3112.2 1652 3113.9 1654 3116.1 1656 3118.7 1658 3121.8 1660 3125.1 1662 3124.5 1664 3128.3 1666 3132.2 1668 3136.0 1670 3146.2 1672 3149.6 1674 3152.9 1676 3155.8 1678 3157.0 1680 3159.0 1682 3160.1 1684 3161.0 1686 3161.3 1688 3161.0 1690 3161.8 1692 3160.4 1694 3157.5 1696 3155.1 1698 3152.2 1700 3148.9 1702 3143.6 1704 3139.8 1706 3135.9 1708 3132.0 1710 3121.0 1712 3117.4 1714 3113.9 1716 3110.8 1718 3114.4 1720 3112.1 1722 3108.9 1724 3107.7 1726 3107.1 1728 3107.0 1730 3112.3 1732 3111.7 1734 3113.4 1736 3115.6 1738 3116.8 1740 3119.8 1742 3119.6 1744 3123.3 1746 3127.1 1748 3130.9 1750 3137.3 1752 3141.1 1754 3144.6 1756 3147.9 1758 3152.5 1760 3155.6 1762 3157.6 1764 3159.1 1766 3161.4 1768 3160.7 1770 3160.4 1772 3159.2 1774 3157.8 1776 3155.8 1778 3153.3 1780 3149.3 1782 3146.0 1784 3142.4 1786 3137.0 1788 3133.2 1790 3129.3 1792 3125.5 1794 3124.0 1796 3120.6 1798 3117.5 1800 3115.1 1802 3112.8 1804 3111.1 1806 3109.9 1808 3109.3 1810 3109.1 1812 3109.7 1814 3110.8 1816 3112.5 1818 3117.1 1820 3117.2 1822 3120.3 1824 3123.0 1826 3126.7 1828 3130.6 1830 3134.5 1832 3139.8 1834 3143.6 1836 3147.3 1838 3150.6 1840 3153.8 1842 3156.8 1844 3158.9 1846 3160.0 1848 3160.1 1850 3160.5 1852 3160.3 1854 3159.5 1856 3160.3 1858 3156.9 1860 3154.5 1862 3151.7 1864 3148.4 1866 3145.0 1868 3141.3 1870 3137.4 1872 3133.5 1874 3126.6 1876 3122.2 1878 3118.7 1880 3115.5 1882 3112.8 1884 3114.7 1886 3112.9 1888 3110.5 1890 3109.8 1892 3109.7 1894 3110.2 1896 3112.3 1898 3113.9 1900 3116.1 1902 3119.5 1904 3123.1 1906 3126.5 1908 3128.4 1910 3130.9 1912 3134.8 1914 3138.7 1916 3140.4 1918 3143.9 1920 3147.2 1922 3150.2 1924 3154.4 1926 3160.0 1928 3160.1 1930 3158.3 1932 3158.7 1934 3158.5 1936 3157.7 1938 3156.3 1940 3154.4 1942 3152.0 1944 3149.2 1946 3147.3 1948 3144.3 1950 3140.6 1952 3134.9 1954 3129.7 1956 3125.9 1958 3122.2 1960 3118.8 1962 3119.7 1964 3116.9 1966 3113.0 1968 3111.2 1970 3109.9 1972 3109.3 1974 3110.6 1976 3111.1 1978 3112.2 1980 3113.8 1982 3116.2 1984 3113.8 1986 3116.8 1988 3120.2 1990 3123.9 1992 3131.6 1994 3136.8 1996 3140.7 1998 3144.5 2000 3148.1 2002 3151.6 2004 3154.5 2006 3157.1 2008 3156.5 2010 3158.0 2012 3159.0 2014 3159.4 2016 3161.9 2018 3160.4 2020 3159.0 2022 3157.1 2024 3154.7 2026 3152.4 2028 3146.8 2030 3143.3 2032 3139.5 2034 3135.7 2036 3132.7 2038 3129.8 2040 3125.9 2042 3122.4 2044 3119.2 2046 3116.5 2048 3114.2 2050 3111.4 2052 3110.1 2054 3109.4 2056 3109.3 2058 3111.5 2060 3112.4 2062 3114.0 2064 3116.2 2066 3118.8 2068 3122.0 2070 3125.7 2072 3129.9 2074 3129.4 2076 3132.3 2078 3136.2 2080 3140.0 2082 3143.6 2084 3149.4 2086 3152.4 2088 3155.0 2090 3157.1 2092 3162.7 2094 3163.5 2096 3157.8 2098 3157.6 2100 3156.8 2102 3155.5 2104 3154.9 2106 3152.5 2108 3149.7 2110 3146.4 2112 3143.3 2114 3139.6 2116 3135.7 2118 3134.3 2120 3130.4 2122 3125.5 2124 3122.0 2126 3118.8 2128 3115.9 2130 3113.2 2132 3111.3 2134 3109.9 2136 3109.2 2138 3109.6 2140 3110.1 2142 3110.6 2144 3112.2 2146 3114.2 2148 3115.8 2150 3118.7 2152 3122.1 2154 3125.6 2156 3131.9 2158 3135.8 2160 3140.6 2162 3144.3 2164 3147.5 2166 3150.8 2168 3153.8 2170 3152.7 2172 3154.8 2174 3156.4 2176 3157.4 2178 3158.5 2180 3161.3 2182 3160.5 2184 3159.2 2186 3157.4 2188 3156.0 2190 3153.3 2192 3148.7 2194 3145.2 2196 3141.3 2198 3137.5 2200 3132.7 2202 3128.8 2204 3125.1 2206 3121.6 2208 3119.3 2210 3117.1 2212 3114.8 2214 3113.2 2216 3113.0 2218 3112.4 2220 3107.1 2222 3107.5 2224 3108.6 2226 3110.2 2228 3114.3 2230 3116.9 2232 3119.9 2234 3123.8 2236 3127.4 2238 3131.2 2240 3133.0 2242 3136.9 2244 3140.7 2246 3144.3 2248 3149.8 2250 3151.6 2252 3154.2 2254 3156.3 2256 3157.9 2258 3159.9 2260 3160.4 2262 3160.2 2264 3159.5 2266 3159.5 2268 3156.8 2270 3152.0 2272 3149.2 2274 3146.0 2276 3142.5 2278 3139.0 2280 3135.1 2282 3131.2 2284 3127.3 2286 3124.6 2288 3121.0 2290 3117.8 2292 3118.7 2294 3114.6 2296 3112.2 2298 3110.4 2300 3109.6 2302 3109.4 2304 3109.8 2304 3134.9 2302 3134.5 2300 3134.7 2298 3139.5 2296 3140.8 2294 3142.7 2292 3145.1 2290 3147.5 2288 3150.8 2286 3154.3 2284 3158.0 2282 3157.9 2280 3162.2 2278 3167.0 2276 3171.1 2274 3175.5 2272 3178.7 2270 3181.5 2268 3183.9 2266 3185.3 2264 3186.6 2262 3188.0 2260 3188.2 2258 3187.7 2256 3186.7 2254 3184.4 2252 3181.0 2250 3181.7 2248 3178.7 2246 3175.3 2244 3171.7 2242 3163.5 2240 3160.7 2238 3159.5 2236 3155.7 2234 3152.1 2232 3148.7 2230 3144.6 2228 3142.0 2226 3143.2 2224 3143.1 2222 3142.0 2220 3141.6 2218 3141.7 2216 3142.3 2214 3143.6 2212 3145.5 2210 3147.8 2208 3144.9 2206 3148.1 2204 3151.5 2202 3155.2 2200 3159.1 2198 3164.3 2196 3168.2 2194 3171.9 2192 3175.3 2190 3180.2 2188 3182.9 2186 3185.3 2184 3187.2 2182 3184.7 2180 3185.6 2178 3187.2 2176 3186.8 2174 3186.2 2172 3184.6 2170 3182.5 2168 3180.0 2166 3176.1 2164 3174.8 2162 3171.2 2160 3167.4 2158 3163.6 2156 3156.9 2154 3157.5 2152 3154.0 2150 3150.6 2148 3147.7 2146 3141.5 2144 3142.0 2142 3140.4 2140 3139.8 2138 3139.4 2136 3139.5 2134 3140.3 2132 3142.0 2130 3143.8 2128 3146.2 2126 3149.1 2124 3151.3 2122 3154.8 2120 3158.6 2118 3162.5 2116 3163.1 2114 3167.0 2112 3174.0 2110 3177.5 2108 3180.7 2106 3183.5 2104 3185.3 2102 3186.7 2100 3186.4 2098 3187.1 2096 3186.5 2094 3186.1 2092 3185.1 2090 3183.0 2088 3181.3 2086 3178.7 2084 3175.7 2082 3173.6 2080 3171.2 2078 3167.4 2076 3164.3 2074 3160.3 2072 3156.5 2070 3152.9 2068 3148.9 2066 3144.8 2064 3140.2 2062 3139.9 2060 3138.2 2058 3137.2 2056 3136.7 2054 3137.3 2052 3138.0 2050 3140.2 2048 3142.1 2046 3144.4 2044 3147.2 2042 3149.6 2040 3153.0 2038 3156.3 2036 3160.2 2034 3165.0 2032 3170.3 2030 3174.0 2028 3177.5 2026 3180.7 2024 3182.0 2022 3185.5 2020 3187.4 2018 3188.8 2016 3189.5 2014 3189.3 2012 3188.9 2010 3187.9 2008 3186.3 2006 3184.2 2004 3181.6 2002 3178.6 2000 3173.3 1998 3169.9 1996 3166.1 1994 3162.2 1992 3158.3 1990 3153.8 1988 3150.2 1986 3149.8 1984 3146.7 1982 3144.8 1980 3142.6 1978 3141.0 1976 3139.9 1974 3137.4 1972 3137.4 1970 3138.1 1968 3141.3 1966 3143.0 1964 3145.3 1962 3148.1 1960 3151.6 1958 3158.1 1956 3161.8 1954 3165.6 1952 3169.5 1950 3167.0 1948 3170.7 1946 3174.8 1944 3178.0 1942 3181.7 1940 3184.1 1938 3186.0 1936 3187.4 1934 3185.7 1932 3187.1 1930 3186.7 1928 3185.7 1926 3184.2 1924 3180.2 1922 3177.7 1920 3174.7 1918 3171.7 1916 3168.8 1914 3165.0 1912 3166.0 1910 3162.1 1908 3158.3 1906 3154.7 1904 3149.4 1902 3146.6 1900 3144.0 1898 3141.8 1896 3140.2 1894 3136.2 1892 3136.6 1890 3136.7 1888 3137.4 1886 3138.6 1884 3139.6 1882 3141.1 1880 3147.0 1878 3150.3 1876 3153.8 1874 3157.5 1872 3162.0 1870 3165.9 1868 3169.8 1866 3173.6 1864 3175.7 1862 3184.3 1860 3187.1 1858 3189.5 1856 3191.4 1854 3185.6 1852 3187.4 1850 3187.6 1848 3187.2 1846 3188.6 1844 3187.1 1842 3185.0 1840 3182.4 1838 3176.8 1836 3174.3 1834 3170.7 1832 3166.9 1830 3163.0 1828 3158.3 1826 3154.3 1824 3151.9 1822 3148.5 1820 3145.4 1818 3142.7 1816 3141.1 1814 3139.4 1812 3138.3 1810 3139.6 1808 3139.7 1806 3140.3 1804 3142.3 1802 3144.1 1800 3146.4 1798 3149.1 1796 3149.4 1794 3152.8 1792 3156.5 1790 3158.7 1788 3166.2 1786 3170.1 1784 3173.8 1782 3177.3 1780 3179.8 1778 3182.6 1776 3185.1 1774 3187.0 1772 3184.2 1770 3185.1 1768 3186.9 1766 3189.4 1764 3188.5 1762 3187.0 1760 3184.9 1758 3178.3 1756 3176.4 1754 3173.2 1752 3172.9 1750 3169.1 1748 3165.2 1746 3161.4 1744 3155.0 1742 3153.4 1740 3150.0 1738 3147.0 1736 3144.3 1734 3137.7 1732 3137.7 1730 3140.2 1728 3139.7 1726 3139.7 1724 3140.4 1722 3138.5 1720 3140.3 1718 3141.7 1716 3144.5 1714 3147.3 1712 3150.3 1710 3157.3 1708 3161.1 1706 3165.0 1704 3168.9 1702 3173.9 1700 3177.5 1698 3180.7 1696 3183.6 1694 3186.1 1692 3185.7 1690 3187.1 1688 3188.0 1686 3190.9 1684 3190.6 1682 3189.7 1680 3188.2 1678 3182.5 1676 3180.0 1674 3179.2 1672 3176.0 1670 3172.4 1668 3168.7 1666 3162.7 1664 3158.9 1662 3154.0 1660 3150.3 1658 3147.0 1656 3143.9 1654 3141.3 1652 3139.1 1650 3136.5 1648 3135.7 1646 3135.1 1644 3135.2 1642 3137.3 1640 3138.6 1638 3140.4 1636 3142.6 1634 3146.9 1632 3150.7 1630 3154.2 1628 3157.9 1626 3161.7 1624 3163.4 1622 3166.7 1620 3170.5 1618 3173.2 1616 3176.9 1614 3179.8 1612 3184.1 1610 3186.1 1608 3187.5 1606 3188.4 1604 3188.6 1602 3187.9 1600 3189.6 1598 3188.1 1596 3186.1 1594 3183.6 1592 3177.6 1590 3173.8 1588 3169.0 1586 3165.2 1584 3161.6 1582 3157.8 1580 3157.2 1578 3153.5 1576 3150.0 1574 3146.9 1572 3140.4 1570 3145.0 1568 3143.3 1566 3142.1 1564 3141.5 1562 3136.4 1560 3136.9 1558 3138.1 1556 3139.8 1554 3142.1 1552 3144.2 1550 3147.3 1548 3152.0 1546 3155.7 1544 3159.6 1542 3165.9 1540 3169.8 1538 3173.6 1536 3177.1 1534 3180.5 1532 3183.5 1530 3186.0 1528 3188.0 1526 3187.1 1524 3188.0 1522 3187.2 1520 3186.9 1518 3186.5 1516 3185.1 1514 3183.7 1512 3181.3 1510 3178.4 1508 3175.2 1506 3169.8 1504 3165.6 1502 3163.3 1500 3159.4 1498 3155.6 1496 3152.1 1494 3148.7 1492 3149.1 1490 3146.4 1488 3144.2 1486 3142.5 1484 3138.1 1482 3137.6 1480 3137.6 1478 3138.2 1476 3139.4 1474 3140.9 1472 3143.2 1470 3145.9 1468 3148.9 1466 3152.0 1464 3155.6 1462 3164.5 1460 3168.4 1458 3172.2 1456 3176.0 1454 3174.3 1452 3178.1 1450 3183.8 1448 3186.3 1446 3188.3 1444 3189.8 1442 3188.1 1440 3187.6 1438 3187.3 1436 3186.7 1434 3185.3 1432 3183.3 1430 3180.8 1428 3176.8 1426 3173.5 1424 3173.0 1422 3169.2 1420 3165.3 1418 3161.4 1416 3156.3 1414 3151.9 1412 3149.6 1410 3146.5 1408 3143.8 1406 3141.5 1404 3138.3 1402 3137.1 1400 3136.9 1398 3136.9 1396 3137.5 1394 3138.6 1392 3140.4 1390 3142.6 1388 3145.3 1386 3149.4 1384 3152.8 1382 3156.4 1380 3160.2 1378 3166.7 1376 3170.6 1374 3174.3 1372 3177.9 1370 3176.3 1368 3179.2 1366 3186.6 1364 3188.6 1362 3190.0 1360 3190.9 1358 3190.9 1356 3190.6 1354 3189.7 1352 3188.2 1350 3184.9 1348 3182.4 1346 3178.6 1344 3175.3 1342 3171.8 1340 3167.0 1338 3163.1 1336 3159.2 1334 3155.3 1332 3151.1 1330 3146.9 1328 3144.7 1326 3141.9 1324 3139.6 1322 3137.8 1320 3135.9 1318 3133.9 1316 3136.8 1314 3137.3 1312 3138.4 1310 3140.1 1308 3140.6 1306 3144.4 1304 3147.4 1302 3153.8 1300 3157.5 1298 3161.3 1296 3165.2 1294 3167.9 1292 3171.7 1290 3175.3 1288 3178.6 1286 3180.5 1284 3185.4 1282 3187.5 1280 3191.1 1278 3192.0 1276 3192.4 1274 3192.2 1272 3185.1 1270 3182.8 1268 3183.7 1266 3181.3 1264 3178.4 1262 3175.2 1260 3170.1 1258 3166.4 1256 3162.8 1254 3158.9 1252 3155.1 1250 3151.4 1248 3147.2 1246 3144.1 1244 3149.4 1242 3147.1 1240 3145.3 1238 3144.1 1236 3138.1 1234 3140.7 1232 3142.0 1230 3143.1 1228 3144.8 1226 3147.0 1224 3144.0 1222 3147.1 1220 3153.2 1218 3156.8 1216 3160.6 1214 3164.5 1212 3166.3 1210 3170.1 1208 3172.9 1206 3176.8 1204 3179.7 1202 3184.0 1200 3186.1 1198 3187.6 1196 3188.5 1194 3186.5 1192 3187.2 1190 3187.0 1188 3185.6 1186 3189.1 1184 3186.7 1182 3183.8 1180 3180.5 1178 3171.2 1176 3168.8 1174 3164.9 1172 3161.0 1170 3157.1 1168 3152.4 1166 3149.0 1164 3144.4 1162 3141.7 1160 3140.5 1158 3138.7 1156 3137.5 1154 3136.8 1152 3134.9 1150 3136.6 1148 3137.7 1146 3139.4 1144 3142.4 1142 3146.6 1140 3149.6 1138 3153.0 1136 3156.6 1134 3160.0 1132 3163.9 1130 3167.8 1128 3171.6 1126 3177.2 1124 3180.6 1122 3183.5 1120 3186.1 1118 3184.3 1116 3185.8 1114 3186.8 1112 3188.8 1110 3188.6 1108 3187.8 1106 3186.4 1104 3184.9 1102 3182.5 1100 3179.7 1098 3177.4 1096 3175.3 1094 3171.6 1092 3167.7 1090 3163.8 1088 3156.1 1086 3150.2 1084 3148.5 1082 3146.3 1080 3144.5 1078 3142.2 1076 3140.4 1074 3139.1 1072 3135.7 1070 3137.3 1068 3137.8 1066 3138.9 1064 3140.6 1062 3139.2 1060 3143.2 1058 3146.3 1056 3153.0 1054 3156.6 1052 3160.4 1050 3164.4 1048 3167.4 1046 3170.8 1044 3174.4 1042 3177.8 1040 3180.1 1038 3180.4 1036 3185.2 1034 3186.9 1032 3187.9 1030 3188.4 1028 3186.6 1026 3185.9 1024 3184.7 1022 3186.1 1020 3183.7 1018 3181.0 1016 3177.8 1014 3172.5 1012 3169.4 1010 3165.5 1008 3161.7 1006 3157.9 1004 3151.9 1002 3147.6 1000 3145.7 998 3142.9 996 3141.3 994 3139.5 992 3138.2 990 3140.8 988 3140.7 986 3141.1 984 3142.2 982 3141.0 980 3143.1 978 3144.2 976 3149.5 974 3152.8 972 3156.4 970 3160.2 968 3164.0 966 3167.8 964 3171.6 962 3174.9 960 3178.3 958 3181.2 956 3183.8 954 3185.1 952 3186.9 950 3187.9 948 3188.3 946 3188.1 944 3187.9 942 3186.5 940 3184.6 938 3182.9 936 3180.0 934 3176.8 932 3173.3 930 3167.6 928 3163.8 926 3160.9 924 3157.1 922 3153.4 920 3149.9 918 3145.0 916 3142.2 914 3141.7 912 3139.8 910 3138.5 908 3138.3 906 3138.2 904 3138.6 902 3139.7 900 3140.4 898 3142.5 896 3145.3 894 3148.3 892 3151.7 890 3155.3 888 3159.5 886 3163.7 884 3167.6 882 3171.4 880 3175.0 878 3177.0 876 3179.9 874 3182.5 872 3184.7 870 3186.3 868 3187.1 866 3187.6 864 3187.5 862 3186.7 860 3186.4 858 3184.6 856 3182.2 854 3180.5 852 3177.3 850 3173.8 848 3170.1 846 3164.0 844 3160.5 842 3156.7 840 3152.9 838 3149.4 836 3145.8 834 3143.0 832 3140.6 830 3138.7 828 3136.9 826 3136.1 824 3140.1 822 3140.5 820 3141.5 818 3143.1 816 3143.8 814 3146.3 812 3149.3 810 3152.7 808 3154.1 806 3157.2 804 3162.3 802 3166.5 800 3170.3 798 3174.0 796 3178.8 794 3181.8 792 3184.4 790 3186.6 788 3186.9 786 3188.0 784 3187.4 782 3187.2 780 3186.5 778 3185.3 776 3183.1 774 3180.8 772 3177.5 770 3174.0 768 3172.7 766 3169.0 764 3165.1 762 3162.1 760 3158.2 758 3154.5 756 3151.0 754 3147.1 752 3143.7 750 3141.3 748 3139.4 746 3136.8 744 3135.4 742 3135.5 740 3135.9 738 3142.4 736 3143.9 734 3145.9 732 3148.5 730 3149.4 728 3150.4 726 3153.7 724 3157.5 722 3161.3 720 3166.1 718 3169.8 716 3173.8 714 3177.1 712 3180.1 710 3182.7 708 3183.8 706 3185.4 704 3186.4 702 3188.0 700 3187.9 698 3187.4 696 3186.0 694 3184.2 692 3181.8 690 3177.3 688 3173.8 686 3170.9 684 3167.2 682 3163.7 680 3159.8 678 3155.9 676 3152.2 674 3147.6 672 3144.4 670 3144.5 668 3142.1 666 3140.2 664 3138.9 662 3135.9 660 3134.7 658 3137.6 656 3138.6 654 3140.4 652 3142.5 650 3145.0 648 3148.6 646 3151.9 644 3155.5 642 3159.3 640 3162.1 638 3166.0 636 3169.8 634 3173.5 632 3177.9 630 3181.0 628 3183.6 626 3185.8 624 3185.3 622 3186.1 620 3186.6 618 3187.3 616 3186.6 614 3185.4 612 3184.4 610 3182.2 608 3179.5 606 3176.3 604 3172.9 602 3169.1 600 3165.3 598 3164.2 596 3160.4 594 3156.6 592 3153.1 590 3146.1 588 3143.3 586 3140.8 584 3138.9 582 3137.0 580 3136.9 578 3136.7 576 3137.1 574 3138.0 572 3139.6 570 3141.6 568 3144.2 566 3146.7 564 3150.0 562 3153.4 560 3157.1 558 3161.0 556 3164.6 554 3168.4 552 3171.0 550 3174.4 548 3179.6 546 3182.2 544 3184.4 542 3186.1 540 3186.1 538 3186.6 536 3186.6 534 3188.5 532 3187.2 530 3185.5 528 3183.2 526 3178.6 524 3174.5 522 3171.0 520 3167.4 518 3163.8 516 3159.9 514 3156.5 512 3152.8 510 3149.2 508 3147.6 506 3144.8 504 3143.7 502 3141.8 500 3140.4 498 3139.5 496 3137.4 494 3137.8 492 3139.9 490 3141.4 488 3143.4 486 3145.9 484 3145.6 482 3150.7 480 3154.3 478 3158.0 476 3163.1 474 3167.0 472 3171.0 470 3175.0 468 3178.4 466 3181.4 464 3184.1 462 3183.0 460 3184.6 458 3185.3 456 3186.4 454 3186.3 452 3185.6 450 3184.4 448 3182.6 446 3180.3 444 3177.6 442 3173.6 440 3172.3 438 3168.6 436 3164.8 434 3160.9 432 3159.3 430 3155.6 428 3153.5 426 3150.3 424 3147.4 422 3145.0 420 3139.2 418 3137.8 416 3137.0 414 3136.4 412 3136.8 410 3137.1 408 3138.6 406 3143.6 404 3146.1 402 3149.1 400 3152.5 398 3155.7 396 3159.5 394 3163.4 392 3167.4 390 3169.7 388 3173.4 386 3176.8 384 3179.8 382 3182.6 380 3184.8 378 3186.5 376 3188.1 374 3189.1 372 3189.1 370 3188.5 368 3187.6 366 3185.9 364 3183.6 362 3181.7 360 3178.6 358 3175.1 356 3171.4 354 3164.2 352 3161.7 350 3159.1 348 3155.4 346 3151.8 344 3148.5 342 3143.7 340 3141.2 338 3139.2 336 3138.9 334 3138.0 332 3137.7 330 3138.0 328 3140.2 326 3141.7 324 3143.7 322 3146.1 320 3148.0 318 3151.3 316 3154.0 314 3157.7 312 3162.8 310 3166.6 308 3170.4 306 3174.1 304 3175.3 302 3178.4 300 3181.1 298 3182.4 296 3187.7 294 3188.8 292 3189.4 290 3189.4 288 3188.5 286 3186.2 284 3184.4 282 3182.2 280 3179.5 278 3175.2 276 3171.7 274 3168.9 272 3165.1 270 3162.3 268 3159.8 266 3156.0 264 3152.5 262 3149.2 260 3142.5 258 3140.0 256 3138.0 254 3138.5 252 3137.6 250 3137.7 248 3138.0 246 3138.9Z" fill="#00f"/>
<path d="M245.1 3144.3h8.7v6h-8.7zM246.2 3125.6h8.7v6h-8.7zM246.0 3107.8h8.7v6h-8.7zM246.6 3088.5h8.7v6h-8.7zM247.3 3069.1h8.7v6h-8.7zM247.6 3051.7h8.7v6h-8.7zM248.7 3032.4h8.7v6h-8.7zM247.7 3014.6h8.7v6h-8.7zM248.0 2995.8h8.7v6h-8.7zM249.1 2978.9h8.7v6h-8.7zM249.9 2961.1h8.7v6h-8.7zM249.8 2941.5h8.7v6h-8.7zM251.0 2921.5h8.7v6h-8.7zM250.5 2904.5h8.7v6h-8.7zM251.9 2886.9h8.7v6h-8.7zM252.2 2867.3h8.7v6h-8.7zM252.9 2850.3h8.7v6h-8.7zM253.6 2834.1h8.7v6h-8.7zM253.4 2814.8h8.7v6h-8.7zM252.5 2797.2h8.7v6h-8.7zM254.4 2778.5h8.7v6h-8.7zM255.0 2759.4h8.7v6h-8.7zM255.5 2740.3h8.7v6h-8.7zM257.3 2724.1h8.7v6h-8.7zM257.1 2707.4h8.7v6h-8.7zM258.1 2688.0h8.7v6h-8.7zM258.5 2668.7h8.7v6h-8.7zM260.0 2652.4h8.7v6h-8.7zM261.3 2634.7h8.7v6h-8.7zM262.4 2620.1h8.7v6h-8.7zM263.8 2605.1h8.7v6h-8.7zM267.5 2608.2h8.7v6h-8.7zM269.2 2617.1h8.7v6h-8.7zM270.0 2629.7h8.7v6h-8.7zM270.7 2644.0h8.7v6h-8.7zM271.5 2660.7h8.7v6h-8.7zM272.9 2677.2h8.7v6h-8.7zM272.5 2695.3h8.7v6h-8.7zM273.6 2713.1h8.7v6h-8.7zM274.7 2730.3h8.7v6h-8.7zM275.7 2747.7h8.7v6h-8.7zM276.9 2765.5h8.7v6h-8.7zM276.9 2783.3h8.7v6h-8.7zM276.7 2802.4h8.7v6h-8.7zM277.2 2820.4h8.7v6h-8.7zM278.6 2837.9h8.7v6h-8.7zM278.3 2856.4h8.7v6h-8.7zM279.4 2874.5h8.7v6h-8.7zM280.1 2893.9h8.7v6h-8.7zM280.1 2914.0h8.7v6h-8.7zM281.1 2931.8h8.7v6h-8.7zM281.4 2951.7h8.7v6h-8.7zM282.7 2969.0h8.7v6h-8.7zM281.8 2985.9h8.7v6h-8.7zM283.8 3003.7h8.7v6h-8.7zM282.4 3022.6h8.7v6h-8.7zM284.2 3040.1h8.7v6h-8.7zM284.0 3057.5h8.7v6h-8.7zM284.1 3078.5h8.7v6h-8.7zM285.0 3095.1h8.7v6h-8.7zM285.4 3114.4h8.7v6h-8.7zM285.8 3132.2h8.7v6h-8.7zM285.6 3153.1h8.7v6h-8.7zM286.3 3172.3h8.7v6h-8.7zM286.8 3191.5h8.7v6h-8.7zM288.1 3209.5h8.7v6h-8.7zM289.3 3228.2h8.7v6h-8.7zM288.5 3246.8h8.7v6h-8.7zM288.6 3267.1h8.7v6h-8.7zM289.0 3286.6h8.7v6h-8.7zM290.9 3303.2h8.7v6h-8.7zM289.7 3321.2h8.7v6h-8.7zM290.6 3340.6h8.7v6h-8.7zM291.9 3360.1h8.7v6h-8.7zM292.0 3378.6h8.7v6h-8.7zM291.7 3394.2h8.7v6h-8.7zM292.9 3414.9h8.7v6h-8.7zM293.3 3433.4h8.7v6h-8.7zM293.2 3452.2h8.7v6h-8.7zM294.0 3469.5h8.7v6h-8.7zM294.3 3487.5h8.7v6h-8.7zM295.8 3505.6h8.7v6h-8.7zM295.8 3521.9h8.7v6h-8.7zM296.6 3541.1h8.7v6h-8.7zM297.2 3559.1h8.7v6h-8.7zM296.9 3577.1h8.7v6h-8.7zM299.2 3594.3h8.7v6h-8.7zM299.4 3613.5h8.7v6h-8.7zM301.2 3629.8h8.7v6h-8.7zM301.7 3648.7h8.7v6h-8.7zM303.4 3664.6h8.7v6h-8.7zM303.8 3682.1h8.7v6h-8.7zM308.0 3689.1h8.7v6h-8.7zM308.4 3686.4h8.7v6h-8.7zM309.5 3677.8h8.7v6h-8.7zM310.6 3665.3h8.7v6h-8.7zM312.7 3652.7h8.7v6h-8.7zM313.6 3635.2h8.7v6h-8.7zM313.7 3617.7h8.7v6h-8.7zM314.9 3597.8h8.7v6h-8.7zM315.4 3580.4h8.7v6h-8.7zM315.8 3563.4h8.7v6h-8.7zM317.4 3547.5h8.7v6h-8.7zM317.1 3529.3h8.7v6h-8.7zM317.6 3509.5h8.7v6h-8.7zM318.1 3492.6h8.7v6h-8.7zM318.8 3474.4h8.7v6h-8.7zM319.3 3454.2h8.7v6h-8.7zM320.5 3437.0h8.7v6h-8.7zM321.0 3418.3h8.7v6h-8.7zM320.1 3399.4h8.7v6h-8.7zM320.4 3381.9h8.7v6h-8.7zM322.1 3363.7h8.7v6h-8.7zM321.8 3344.5h8.7v6h-8.7zM322.7 3326.6h8.7v6h-8.7zM322.8 3306.9h8.7v6h-8.7zM324.7 3289.2h8.7v6h-8.7zM324.2 3273.0h8.7v6h-8.7zM323.6 3252.8h8.7v6h-8.7zM325.1 3234.5h8.7v6h-8.7zM325.7 3214.0h8.7v6h-8.7zM324.7 3196.2h8.7v6h-8.7zM326.3 3176.9h8.7v6h-8.7zM327.6 3157.8h8.7v6h-8.7zM327.6 3140.9h8.7v6h-8.7zM328.8 3121.4h8.7v6h-8.7zM329.0 3101.9h8.7v6h-8.7zM328.5 3083.3h8.7v6h-8.7zM329.5 3064.1h8.7v6h-8.7zM330.8 3045.9h8.7v6h-8.7zM330.2 3028.4h8.7v6h-8.7zM330.8 3008.2h8.7v6h-8.7zM331.3 2989.2h8.7v6h-8.7zM330.9 2970.7h8.7v6h-8.7zM331.8 2952.6h8.7v6h-8.7zM332.5 2935.4h8.7v6h-8.7zM332.5 2917.0h8.7v6h-8.7zM333.3 2899.7h8.7v6h-8.7zM334.5 2879.4h8.7v6h-8.7zM334.5 2859.6h8.7v6h-8.7zM334.6 2840.2h8.7v6h-8.7zM335.9 2820.4h8.7v6h-8.7zM336.1 2804.3h8.7v6h-8.7zM337.7 2785.9h8.7v6h-8.7zM337.6 2766.4h8.7v6h-8.7zM337.6 2747.7h8.7v6h-8.7zM338.0 2732.9h8.7v6h-8.7zM339.5 2714.5h8.7v6h-8.7zM341.4 2696.1h8.7v6h-8.7zM340.1 2676.7h8.7v6h-8.7zM341.6 2661.6h8.7v6h-8.7zM342.1 2643.5h8.7v6h-8.7zM344.5 2625.4h8.7v6h-8.7zM345.6 2608.7h8.7v6h-8.7zM349.5 2605.9h8.7v6h-8.7zM350.3 2615.4h8.7v6h-8.7zM351.9 2627.2h8.7v6h-8.7zM352.8 2643.2h8.7v6h-8.7zM354.0 2658.9h8.7v6h-8.7zM354.3 2675.1h8.7v6h-8.7zM354.7 2692.4h8.7v6h-8.7zM355.7 2710.6h8.7v6h-8.7zM357.2 2728.3h8.7v6h-8.7zM357.1 2743.6h8.7v6h-8.7zM357.7 2764.4h8.7v6h-8.7zM359.1 2781.2h8.7v6h-8.7zM357.8 2800.4h8.7v6h-8.7zM359.2 2818.0h8.7v6h-8.7zM360.1 2837.8h8.7v6h-8.7zM359.8 2855.2h8.7v6h-8.7zM362.0 2875.0h8.7v6h-8.7zM361.4 2893.3h8.7v6h-8.7zM362.6 2912.4h8.7v6h-8.7zM363.3 2931.4h8.7v6h-8.7zM363.4 2951.5h8.7v6h-8.7zM363.2 2969.5h8.7v6h-8.7zM364.2 2986.7h8.7v6h-8.7zM364.4 3005.5h8.7v6h-8.7zM364.9 3024.0h8.7v6h-8.7zM365.3 3041.0h8.7v6h-8.7zM366.7 3062.1h8.7v6h-8.7zM367.4 3079.7h8.7v6h-8.7zM367.5 3098.8h8.7v6h-8.7zM367.3 3117.2h8.7v6h-8.7zM368.9 3137.5h8.7v6h-8.7zM368.0 3155.9h8.7v6h-8.7zM369.0 3173.7h8.7v6h-8.7zM369.4 3193.9h8.7v6h-8.7zM370.6 3212.8h8.7v6h-8.7zM370.5 3232.7h8.7v6h-8.7zM370.5 3252.9h8.7v6h-8.7zM371.6 3269.5h8.7v6h-8.7zM371.9 3286.8h8.7v6h-8.7zM372.8 3306.0h8.7v6h-8.7zM372.9 3325.1h8.7v6h-8.7zM373.1 3343.5h8.7v6h-8.7zM373.2 3362.2h8.7v6h-8.7zM374.6 3381.1h8.7v6h-8.7zM374.3 3399.3h8.7v6h-8.7zM374.6 3416.6h8.7v6h-8.7zM375.9 3431.9h8.7v6h-8.7zM375.7 3452.5h8.7v6h-8.7zM377.1 3471.2h8.7v6h-8.7zM376.4 3489.9h8.7v6h-8.7zM377.6 3507.0h8.7v6h-8.7zM378.7 3526.5h8.7v6h-8.7zM379.3 3544.8h8.7v6h-8.7zM380.1 3562.1h8.7v6h-8.7zM379.9 3578.3h8.7v6h-8.7zM381.4 3597.3h8.7v6h-8.7zM382.3 3614.6h8.7v6h-8.7zM382.4 3633.3h8.7v6h-8.7zM384.4 3651.4h8.7v6h-8.7zM385.1 3667.9h8.7v6h-8.7zM386.6 3682.9h8.7v6h-8.7zM389.7 3689.0h8.7v6h-8.7zM390.5 3683.8h8.7v6h-8.7zM392.1 3672.5h8.7v6h-8.7zM393.0 3657.1h8.7v6h-8.7zM394.8 3642.5h8.7v6h-8.7zM395.0 3626.8h8.7v6h-8.7zM396.5 3609.1h8.7v6h-8.7zM397.0 3592.3h8.7v6h-8.7zM397.5 3572.6h8.7v6h-8.7zM398.5 3555.0h8.7v6h-8.7zM397.7 3537.6h8.7v6h-8.7zM400.0 3519.6h8.7v6h-8.7zM399.7 3501.9h8.7v6h-8.7zM401.1 3483.4h8.7v6h-8.7zM400.2 3465.0h8.7v6h-8.7zM401.8 3447.7h8.7v6h-8.7zM402.8 3431.0h8.7v6h-8.7zM403.0 3411.8h8.7v6h-8.7zM401.9 3392.3h8.7v6h-8.7zM403.6 3373.5h8.7v6h-8.7zM405.0 3354.1h8.7v6h-8.7zM405.5 3335.6h8.7v6h-8.7zM405.1 3315.3h8.7v6h-8.7zM405.4 3297.5h8.7v6h-8.7zM406.7 3279.5h8.7v6h-8.7zM407.0 3262.5h8.7v6h-8.7zM406.2 3243.7h8.7v6h-8.7zM407.4 3224.8h8.7v6h-8.7zM409.1 3206.4h8.7v6h-8.7zM408.3 3185.9h8.7v6h-8.7zM408.8 3166.8h8.7v6h-8.7zM409.4 3146.9h8.7v6h-8.7zM410.6 3127.6h8.7v6h-8.7zM410.6 3108.8h8.7v6h-8.7zM410.0 3090.5h8.7v6h-8.7zM411.1 3073.2h8.7v6h-8.7zM412.0 3055.2h8.7v6h-8.7zM413.5 3037.2h8.7v6h-8.7zM411.9 3017.1h8.7v6h-8.7zM413.6 2998.7h8.7v6h-8.7zM413.4 2980.1h8.7v6h-8.7zM413.0 2960.4h8.7v6h-8.7zM415.8 2945.1h8.7v6h-8.7zM414.4 2926.9h8.7v6h-8.7zM414.2 2906.9h8.7v6h-8.7zM416.2 2886.3h8.7v6h-8.7zM416.0 2869.0h8.7v6h-8.7zM416.8 2851.1h8.7v6h-8.7zM418.0 2830.9h8.7v6h-8.7zM418.5 2812.6h8.7v6h-8.7zM419.7 2794.5h8.7v6h-8.7zM418.2 2777.4h8.7v6h-8.7zM419.3 2758.9h8.7v6h-8.7zM420.5 2738.0h8.7v6h-8.7zM421.7 2723.6h8.7v6h-8.7zM421.1 2704.8h8.7v6h-8.7zM423.2 2687.9h8.7v6h-8.7zM424.2 2668.7h8.7v6h-8.7zM424.6 2652.0h8.7v6h-8.7zM426.6 2635.1h8.7v6h-8.7zM425.8 2619.6h8.7v6h-8.7zM428.8 2605.3h8.7v6h-8.7zM431.8 2608.9h8.7v6h-8.7zM433.8 2616.0h8.7v6h-8.7zM433.6 2628.8h8.7v6h-8.7zM434.8 2643.3h8.7v6h-8.7zM435.0 2658.5h8.7v6h-8.7zM435.9 2675.7h8.7v6h-8.7zM437.3 2693.6h8.7v6h-8.7zM439.0 2711.0h8.7v6h-8.7zM439.5 2729.2h8.7v6h-8.7zM439.4 2747.5h8.7v6h-8.7zM440.1 2764.4h8.7v6h-8.7zM440.9 2781.0h8.7v6h-8.7zM440.9 2799.1h8.7v6h-8.7zM442.1 2817.7h8.7v6h-8.7zM441.8 2834.3h8.7v6h-8.7zM442.9 2852.7h8.7v6h-8.7zM442.7 2871.4h8.7v6h-8.7zM444.0 2889.4h8.7v6h-8.7zM443.3 2909.3h8.7v6h-8.7zM445.4 2926.5h8.7v6h-8.7zM445.1 2943.3h8.7v6h-8.7zM446.4 2962.4h8.7v6h-8.7zM446.7 2980.7h8.7v6h-8.7zM446.7 3000.0h8.7v6h-8.7zM446.1 3019.2h8.7v6h-8.7zM446.7 3037.3h8.7v6h-8.7zM447.7 3057.0h8.7v6h-8.7zM449.4 3073.4h8.7v6h-8.7zM448.9 3093.3h8.7v6h-8.7zM449.5 3111.4h8.7v6h-8.7zM449.4 3128.2h8.7v6h-8.7zM449.5 3146.6h8.7v6h-8.7zM451.2 3165.6h8.7v6h-8.7zM452.2 3185.0h8.7v6h-8.7zM451.8 3202.8h8.7v6h-8.7zM451.1 3222.4h8.7v6h-8.7zM451.9 3241.1h8.7v6h-8.7zM454.5 3259.5h8.7v6h-8.7zM453.6 3280.1h8.7v6h-8.7zM454.1 3298.8h8.7v6h-8.7zM454.2 3319.4h8.7v6h-8.7zM453.8 3337.4h8.7v6h-8.7zM456.4 3357.9h8.7v6h-8.7zM455.5 3375.7h8.7v6h-8.7zM456.3 3395.7h8.7v6h-8.7zM457.3 3412.2h8.7v6h-8.7zM457.6 3431.5h8.7v6h-8.7zM458.9 3451.1h8.7v6h-8.7zM459.3 3469.0h8.7v6h-8.7zM460.4 3488.2h8.7v6h-8.7zM459.9 3505.2h8.7v6h-8.7zM460.0 3523.1h8.7v6h-8.7zM460.6 3543.9h8.7v6h-8.7zM461.6 3561.2h8.7v6h-8.7zM462.9 3579.1h8.7v6h-8.7zM463.3 3597.4h8.7v6h-8.7zM463.3 3614.6h8.7v6h-8.7zM464.7 3633.1h8.7v6h-8.7zM465.4 3648.3h8.7v6h-8.7zM466.1 3665.6h8.7v6h-8.7zM468.1 3680.6h8.7v6h-8.7zM471.8 3690.1h8.7v6h-8.7zM473.0 3684.3h8.7v6h-8.7zM473.6 3677.4h8.7v6h-8.7zM476.0 3661.2h8.7v6h-8.7zM477.3 3646.3h8.7v6h-8.7zM477.7 3629.5h8.7v6h-8.7zM477.9 3611.2h8.7v6h-8.7zM478.2 3594.8h8.7v6h-8.7zM478.7 3576.9h8.7v6h-8.7zM480.4 3558.7h8.7v6h-8.7zM481.0 3543.1h8.7v6h-8.7zM480.7 3525.4h8.7v6h-8.7zM481.5 3506.8h8.7v6h-8.7zM482.6 3491.1h8.7v6h-8.7zM482.6 3472.0h8.7v6h-8.7zM483.2 3454.0h8.7v6h-8.7zM484.2 3435.5h8.7v6h-8.7zM484.4 3418.1h8.7v6h-8.7zM484.8 3401.4h8.7v6h-8.7zM485.1 3380.8h8.7v6h-8.7zM487.2 3365.1h8.7v6h-8.7zM486.5 3347.6h8.7v6h-8.7zM487.1 3329.8h8.7v6h-8.7zM487.8 3310.9h8.7v6h-8.7zM488.6 3291.5h8.7v6h-8.7zM488.8 3272.9h8.7v6h-8.7zM488.3 3254.5h8.7v6h-8.7zM488.9 3235.7h8.7v6h-8.7zM489.3 3217.9h8.7v6h-8.7zM489.2 3197.3h8.7v6h-8.7zM489.2 3177.4h8.7v6h-8.7zM491.3 3159.6h8.7v6h-8.7zM491.5 3139.9h8.7v6h-8.7zM492.3 3122.8h8.7v6h-8.7zM492.9 3104.7h8.7v6h-8.7zM492.6 3086.5h8.7v6h-8.7zM493.0 3068.3h8.7v6h-8.7zM493.8 3048.7h8.7v6h-8.7zM494.8 3031.0h8.7v6h-8.7zM494.6 3011.4h8.7v6h-8.7zM495.2 2994.2h8.7v6h-8.7zM495.3 2975.0h8.7v6h-8.7zM494.5 2955.7h8.7v6h-8.7zM496.4 2937.6h8.7v6h-8.7zM497.3 2917.8h8.7v6h-8.7zM498.6 2897.3h8.7v6h-8.7zM497.6 2878.7h8.7v6h-8.7zM498.3 2858.7h8.7v6h-8.7zM500.0 2840.1h8.7v6h-8.7zM500.4 2820.6h8.7v6h-8.7zM500.3 2802.9h8.7v6h-8.7zM500.1 2783.3h8.7v6h-8.7zM501.8 2762.5h8.7v6h-8.7zM503.1 2746.8h8.7v6h-8.7zM502.6 2731.5h8.7v6h-8.7zM502.3 2712.9h8.7v6h-8.7zM503.9 2694.2h8.7v6h-8.7zM504.5 2677.6h8.7v6h-8.7zM505.1 2659.9h8.7v6h-8.7zM507.0 2643.9h8.7v6h-8.7zM507.7 2627.0h8.7v6h-8.7zM510.2 2611.0h8.7v6h-8.7zM513.3 2605.4h8.7v6h-8.7zM514.2 2610.9h8.7v6h-8.7zM515.3 2621.9h8.7v6h-8.7zM515.2 2636.3h8.7v6h-8.7zM517.3 2649.4h8.7v6h-8.7zM517.2 2666.0h8.7v6h-8.7zM519.4 2683.1h8.7v6h-8.7zM519.7 2699.4h8.7v6h-8.7zM520.3 2718.6h8.7v6h-8.7zM521.5 2734.3h8.7v6h-8.7zM520.8 2753.9h8.7v6h-8.7zM522.1 2770.1h8.7v6h-8.7zM523.8 2788.7h8.7v6h-8.7zM522.4 2805.6h8.7v6h-8.7zM523.8 2823.2h8.7v6h-8.7zM524.5 2843.0h8.7v6h-8.7zM526.9 2860.4h8.7v6h-8.7zM526.2 2880.5h8.7v6h-8.7zM526.1 2896.4h8.7v6h-8.7zM527.3 2915.0h8.7v6h-8.7zM527.4 2935.4h8.7v6h-8.7zM527.2 2955.0h8.7v6h-8.7zM528.2 2973.8h8.7v6h-8.7zM528.3 2992.3h8.7v6h-8.7zM529.7 3010.8h8.7v6h-8.7zM529.9 3030.0h8.7v6h-8.7zM529.3 3049.3h8.7v6h-8.7zM530.8 3068.3h8.7v6h-8.7zM531.6 3085.5h8.7v6h-8.7zM531.2 3104.1h8.7v6h-8.7zM532.1 3121.4h8.7v6h-8.7zM531.6 3137.9h8.7v6h-8.7zM533.3 3157.6h8.7v6h-8.7zM532.7 3177.5h8.7v6h-8.7zM533.5 3194.9h8.7v6h-8.7zM534.7 3213.1h8.7v6h-8.7zM534.0 3231.8h8.7v6h-8.7zM535.1 3250.5h8.7v6h-8.7zM535.8 3268.7h8.7v6h-8.7zM535.8 3287.2h8.7v6h-8.7zM535.6 3305.9h8.7v6h-8.7zM537.0 3325.3h8.7v6h-8.7zM538.2 3342.6h8.7v6h-8.7zM538.5 3361.5h8.7v6h-8.7zM538.0 3379.1h8.7v6h-8.7zM539.2 3395.9h8.7v6h-8.7zM539.0 3413.4h8.7v6h-8.7zM539.5 3431.6h8.7v6h-8.7zM540.2 3449.6h8.7v6h-8.7zM541.0 3467.8h8.7v6h-8.7zM540.2 3485.8h8.7v6h-8.7zM541.2 3502.9h8.7v6h-8.7zM542.1 3522.1h8.7v6h-8.7zM542.2 3537.7h8.7v6h-8.7zM543.4 3558.6h8.7v6h-8.7zM543.9 3575.5h8.7v6h-8.7zM544.6 3592.4h8.7v6h-8.7zM546.6 3611.0h8.7v6h-8.7zM547.2 3626.9h8.7v6h-8.7zM547.6 3644.8h8.7v6h-8.7zM548.7 3661.4h8.7v6h-8.7zM550.0 3675.8h8.7v6h-8.7zM552.5 3691.3h8.7v6h-8.7zM554.7 3684.0h8.7v6h-8.7zM555.4 3675.2h8.7v6h-8.7zM557.5 3662.2h8.7v6h-8.7zM558.4 3646.7h8.7v6h-8.7zM559.0 3629.0h8.7v6h-8.7zM560.5 3612.7h8.7v6h-8.7zM561.0 3595.7h8.7v6h-8.7zM562.7 3577.8h8.7v6h-8.7zM561.9 3561.4h8.7v6h-8.7zM563.7 3544.7h8.7v6h-8.7zM563.4 3525.4h8.7v6h-8.7zM564.3 3506.2h8.7v6h-8.7zM564.9 3489.7h8.7v6h-8.7zM565.2 3472.3h8.7v6h-8.7zM565.4 3454.0h8.7v6h-8.7zM567.4 3435.4h8.7v6h-8.7zM566.8 3415.9h8.7v6h-8.7zM566.2 3398.4h8.7v6h-8.7zM569.1 3378.0h8.7v6h-8.7zM567.2 3361.9h8.7v6h-8.7zM569.0 3341.4h8.7v6h-8.7zM569.0 3324.9h8.7v6h-8.7zM568.6 3306.4h8.7v6h-8.7zM569.2 3289.0h8.7v6h-8.7zM570.6 3268.3h8.7v6h-8.7zM570.0 3250.4h8.7v6h-8.7zM571.3 3231.4h8.7v6h-8.7zM571.5 3212.1h8.7v6h-8.7zM572.8 3193.2h8.7v6h-8.7zM572.6 3175.4h8.7v6h-8.7zM573.2 3158.2h8.7v6h-8.7zM574.5 3138.8h8.7v6h-8.7zM574.2 3118.7h8.7v6h-8.7zM574.3 3101.1h8.7v6h-8.7zM574.3 3083.4h8.7v6h-8.7zM574.3 3065.9h8.7v6h-8.7zM575.5 3046.2h8.7v6h-8.7zM576.0 3027.3h8.7v6h-8.7zM576.1 3009.6h8.7v6h-8.7zM576.8 2993.8h8.7v6h-8.7zM577.9 2974.1h8.7v6h-8.7zM577.8 2954.4h8.7v6h-8.7zM578.4 2935.6h8.7v6h-8.7zM579.4 2918.2h8.7v6h-8.7zM580.0 2899.7h8.7v6h-8.7zM580.9 2880.2h8.7v6h-8.7zM579.8 2863.4h8.7v6h-8.7zM581.2 2844.8h8.7v6h-8.7zM582.2 2827.0h8.7v6h-8.7zM582.1 2808.0h8.7v6h-8.7zM583.2 2790.4h8.7v6h-8.7zM583.4 2771.1h8.7v6h-8.7zM582.5 2754.5h8.7v6h-8.7zM583.7 2735.3h8.7v6h-8.7zM586.8 2717.7h8.7v6h-8.7zM585.0 2702.1h8.7v6h-8.7zM586.4 2683.8h8.7v6h-8.7zM587.4 2668.1h8.7v6h-8.7zM588.9 2650.1h8.7v6h-8.7zM590.2 2632.7h8.7v6h-8.7zM591.4 2616.1h8.7v6h-8.7zM593.5 2603.2h8.7v6h-8.7zM595.7 2610.1h8.7v6h-8.7zM596.5 2618.4h8.7v6h-8.7zM598.6 2632.2h8.7v6h-8.7zM599.0 2646.7h8.7v6h-8.7zM601.5 2663.3h8.7v6h-8.7zM600.8 2680.0h8.7v6h-8.7zM601.2 2697.9h8.7v6h-8.7zM602.8 2715.1h8.7v6h-8.7zM603.9 2733.9h8.7v6h-8.7zM603.8 2752.8h8.7v6h-8.7zM606.4 2770.1h8.7v6h-8.7zM605.2 2790.1h8.7v6h-8.7zM605.3 2808.9h8.7v6h-8.7zM606.3 2824.8h8.7v6h-8.7zM607.0 2844.4h8.7v6h-8.7zM607.4 2862.9h8.7v6h-8.7zM608.2 2880.7h8.7v6h-8.7zM608.2 2900.9h8.7v6h-8.7zM609.1 2917.2h8.7v6h-8.7zM609.1 2936.4h8.7v6h-8.7zM611.3 2954.3h8.7v6h-8.7zM610.2 2973.5h8.7v6h-8.7zM610.4 2993.9h8.7v6h-8.7zM610.8 3010.7h8.7v6h-8.7zM611.3 3028.9h8.7v6h-8.7zM612.2 3048.0h8.7v6h-8.7zM612.4 3067.1h8.7v6h-8.7zM613.7 3084.8h8.7v6h-8.7zM613.2 3104.4h8.7v6h-8.7zM613.9 3122.8h8.7v6h-8.7zM614.2 3143.6h8.7v6h-8.7zM615.1 3163.1h8.7v6h-8.7zM614.9 3181.4h8.7v6h-8.7zM615.3 3200.8h8.7v6h-8.7zM615.6 3219.4h8.7v6h-8.7zM617.3 3239.3h8.7v6h-8.7zM617.0 3258.5h8.7v6h-8.7zM617.6 3275.4h8.7v6h-8.7zM618.2 3295.1h8.7v6h-8.7zM618.5 3315.1h8.7v6h-8.7zM618.3 3332.7h8.7v6h-8.7zM618.8 3351.2h8.7v6h-8.7zM620.3 3371.2h8.7v6h-8.7zM621.1 3388.9h8.7v6h-8.7zM621.4 3407.2h8.7v6h-8.7zM622.0 3425.4h8.7v6h-8.7zM623.4 3445.0h8.7v6h-8.7zM622.9 3463.4h8.7v6h-8.7zM623.7 3482.0h8.7v6h-8.7zM622.7 3498.6h8.7v6h-8.7zM623.9 3515.6h8.7v6h-8.7zM625.6 3535.2h8.7v6h-8.7zM624.7 3551.6h8.7v6h-8.7zM625.9 3571.1h8.7v6h-8.7zM625.3 3588.7h8.7v6h-8.7zM628.3 3606.5h8.7v6h-8.7zM629.1 3623.3h8.7v6h-8.7zM629.9 3640.5h8.7v6h-8.7zM630.0 3656.8h8.7v6h-8.7zM631.6 3675.2h8.7v6h-8.7zM633.9 3689.5h8.7v6h-8.7zM639.1 3683.3h8.7v6h-8.7zM638.1 3675.2h8.7v6h-8.7zM638.7 3660.8h8.7v6h-8.7zM640.1 3644.3h8.7v6h-8.7zM641.6 3627.8h8.7v6h-8.7zM641.7 3611.7h8.7v6h-8.7zM642.2 3594.4h8.7v6h-8.7zM644.3 3577.6h8.7v6h-8.7zM644.5 3559.3h8.7v6h-8.7zM644.0 3542.3h8.7v6h-8.7zM645.8 3522.8h8.7v6h-8.7zM645.5 3505.9h8.7v6h-8.7zM646.0 3488.8h8.7v6h-8.7zM646.9 3468.8h8.7v6h-8.7zM648.7 3450.5h8.7v6h-8.7zM648.6 3430.8h8.7v6h-8.7zM648.7 3414.1h8.7v6h-8.7zM648.9 3395.3h8.7v6h-8.7zM648.6 3375.9h8.7v6h-8.7zM649.2 3355.7h8.7v6h-8.7zM650.0 3338.7h8.7v6h-8.7zM650.8 3318.6h8.7v6h-8.7zM651.2 3299.2h8.7v6h-8.7zM651.7 3280.8h8.7v6h-8.7zM652.4 3263.1h8.7v6h-8.7zM651.7 3243.6h8.7v6h-8.7zM654.3 3224.0h8.7v6h-8.7zM654.0 3206.5h8.7v6h-8.7zM654.0 3189.7h8.7v6h-8.7zM654.0 3172.3h8.7v6h-8.7zM654.3 3153.0h8.7v6h-8.7zM654.8 3134.3h8.7v6h-8.7zM656.8 3114.7h8.7v6h-8.7zM657.1 3095.4h8.7v6h-8.7zM657.8 3075.5h8.7v6h-8.7zM657.4 3057.3h8.7v6h-8.7zM658.8 3038.2h8.7v6h-8.7zM658.9 3020.8h8.7v6h-8.7zM658.6 3001.8h8.7v6h-8.7zM660.0 2982.9h8.7v6h-8.7zM660.9 2962.4h8.7v6h-8.7zM659.2 2944.6h8.7v6h-8.7zM660.8 2925.2h8.7v6h-8.7zM662.1 2909.6h8.7v6h-8.7zM662.0 2889.6h8.7v6h-8.7zM662.9 2872.1h8.7v6h-8.7zM662.8 2855.8h8.7v6h-8.7zM663.5 2837.3h8.7v6h-8.7zM664.0 2820.9h8.7v6h-8.7zM664.8 2802.5h8.7v6h-8.7zM663.2 2782.0h8.7v6h-8.7zM665.2 2765.5h8.7v6h-8.7zM666.3 2747.3h8.7v6h-8.7zM666.0 2728.9h8.7v6h-8.7zM667.9 2710.1h8.7v6h-8.7zM668.0 2693.1h8.7v6h-8.7zM670.0 2674.8h8.7v6h-8.7zM670.9 2658.0h8.7v6h-8.7zM670.5 2640.6h8.7v6h-8.7zM672.3 2624.0h8.7v6h-8.7zM673.3 2609.9h8.7v6h-8.7zM676.8 2605.9h8.7v6h-8.7zM678.6 2610.1h8.7v6h-8.7zM679.7 2620.4h8.7v6h-8.7zM681.0 2633.7h8.7v6h-8.7zM681.0 2649.5h8.7v6h-8.7zM682.3 2665.6h8.7v6h-8.7zM683.6 2682.6h8.7v6h-8.7zM684.2 2698.0h8.7v6h-8.7zM683.7 2715.7h8.7v6h-8.7zM684.6 2734.9h8.7v6h-8.7zM686.2 2753.5h8.7v6h-8.7zM687.3 2770.5h8.7v6h-8.7zM686.6 2787.3h8.7v6h-8.7zM687.3 2805.9h8.7v6h-8.7zM687.5 2825.7h8.7v6h-8.7zM688.9 2842.3h8.7v6h-8.7zM688.4 2861.7h8.7v6h-8.7zM689.4 2878.6h8.7v6h-8.7zM689.8 2895.5h8.7v6h-8.7zM691.1 2915.5h8.7v6h-8.7zM690.4 2931.8h8.7v6h-8.7zM691.8 2950.2h8.7v6h-8.7zM691.8 2970.0h8.7v6h-8.7zM692.0 2986.0h8.7v6h-8.7zM692.7 3005.2h8.7v6h-8.7zM692.1 3025.0h8.7v6h-8.7zM693.8 3043.3h8.7v6h-8.7zM695.4 3062.6h8.7v6h-8.7zM694.5 3080.2h8.7v6h-8.7zM695.9 3099.8h8.7v6h-8.7zM695.6 3117.8h8.7v6h-8.7zM695.7 3137.7h8.7v6h-8.7zM696.7 3155.6h8.7v6h-8.7zM696.6 3174.8h8.7v6h-8.7zM699.2 3194.0h8.7v6h-8.7zM696.7 3213.3h8.7v6h-8.7zM698.2 3230.1h8.7v6h-8.7zM699.3 3249.4h8.7v6h-8.7zM698.8 3268.6h8.7v6h-8.7zM699.8 3288.6h8.7v6h-8.7zM699.2 3306.5h8.7v6h-8.7zM700.0 3324.5h8.7v6h-8.7zM701.4 3342.6h8.7v6h-8.7zM702.0 3362.2h8.7v6h-8.7zM702.2 3382.1h8.7v6h-8.7zM702.4 3400.2h8.7v6h-8.7zM702.7 3416.6h8.7v6h-8.7zM704.3 3433.3h8.7v6h-8.7zM704.4 3452.0h8.7v6h-8.7zM704.1 3470.6h8.7v6h-8.7zM705.8 3489.7h8.7v6h-8.7zM705.4 3508.0h8.7v6h-8.7zM706.6 3525.6h8.7v6h-8.7zM707.4 3546.3h8.7v6h-8.7zM708.6 3563.6h8.7v6h-8.7zM708.3 3580.8h8.7v6h-8.7zM709.0 3599.3h8.7v6h-8.7zM710.5 3617.7h8.7v6h-8.7zM710.3 3634.4h8.7v6h-8.7zM712.5 3651.8h8.7v6h-8.7zM713.0 3668.9h8.7v6h-8.7zM714.0 3685.3h8.7v6h-8.7zM719.2 3687.3h8.7v6h-8.7zM719.9 3678.8h8.7v6h-8.7zM720.8 3667.8h8.7v6h-8.7zM722.5 3651.3h8.7v6h-8.7zM723.0 3636.7h8.7v6h-8.7zM722.6 3619.1h8.7v6h-8.7zM724.5 3600.2h8.7v6h-8.7zM725.4 3581.1h8.7v6h-8.7zM726.1 3563.3h8.7v6h-8.7zM727.3 3545.2h8.7v6h-8.7zM726.7 3525.7h8.7v6h-8.7zM727.4 3508.1h8.7v6h-8.7zM728.0 3491.5h8.7v6h-8.7zM729.2 3471.6h8.7v6h-8.7zM730.4 3453.6h8.7v6h-8.7zM730.0 3437.0h8.7v6h-8.7zM731.1 3418.0h8.7v6h-8.7zM732.7 3399.5h8.7v6h-8.7zM731.0 3379.9h8.7v6h-8.7zM732.7 3362.1h8.7v6h-8.7zM733.2 3343.9h8.7v6h-8.7zM733.7 3325.1h8.7v6h-8.7zM734.0 3305.4h8.7v6h-8.7zM735.0 3288.1h8.7v6h-8.7zM735.1 3269.9h8.7v6h-8.7zM734.5 3251.3h8.7v6h-8.7zM735.3 3233.4h8.7v6h-8.7zM736.6 3215.4h8.7v6h-8.7zM737.4 3197.0h8.7v6h-8.7zM736.3 3178.9h8.7v6h-8.7zM737.2 3161.0h8.7v6h-8.7zM737.6 3142.9h8.7v6h-8.7zM738.2 3123.5h8.7v6h-8.7zM738.1 3103.1h8.7v6h-8.7zM738.1 3084.7h8.7v6h-8.7zM739.2 3067.6h8.7v6h-8.7zM739.8 3049.0h8.7v6h-8.7zM741.6 3028.5h8.7v6h-8.7zM740.6 3011.3h8.7v6h-8.7zM740.7 2993.0h8.7v6h-8.7zM741.7 2975.6h8.7v6h-8.7zM741.5 2956.5h8.7v6h-8.7zM744.0 2937.5h8.7v6h-8.7zM743.1 2919.8h8.7v6h-8.7zM744.0 2901.0h8.7v6h-8.7zM744.4 2883.3h8.7v6h-8.7zM744.3 2863.7h8.7v6h-8.7zM744.8 2845.5h8.7v6h-8.7zM746.2 2825.6h8.7v6h-8.7zM745.6 2807.4h8.7v6h-8.7zM747.1 2790.6h8.7v6h-8.7zM747.4 2773.7h8.7v6h-8.7zM748.4 2753.0h8.7v6h-8.7zM748.8 2736.7h8.7v6h-8.7zM749.4 2719.0h8.7v6h-8.7zM749.9 2699.7h8.7v6h-8.7zM750.2 2681.0h8.7v6h-8.7zM751.5 2662.9h8.7v6h-8.7zM751.9 2647.0h8.7v6h-8.7zM754.0 2631.0h8.7v6h-8.7zM754.3 2616.1h8.7v6h-8.7zM757.6 2602.9h8.7v6h-8.7zM760.8 2608.0h8.7v6h-8.7zM761.4 2619.1h8.7v6h-8.7zM763.0 2631.0h8.7v6h-8.7zM762.9 2645.9h8.7v6h-8.7zM764.8 2663.4h8.7v6h-8.7zM764.9 2681.5h8.7v6h-8.7zM766.2 2700.5h8.7v6h-8.7zM767.4 2717.4h8.7v6h-8.7zM767.9 2736.4h8.7v6h-8.7zM768.0 2755.1h8.7v6h-8.7zM768.6 2773.7h8.7v6h-8.7zM769.4 2791.3h8.7v6h-8.7zM769.8 2811.3h8.7v6h-8.7zM770.6 2828.9h8.7v6h-8.7zM770.9 2847.9h8.7v6h-8.7zM770.8 2866.4h8.7v6h-8.7zM771.6 2881.7h8.7v6h-8.7zM772.9 2901.1h8.7v6h-8.7zM773.7 2920.1h8.7v6h-8.7zM773.7 2937.8h8.7v6h-8.7zM774.1 2955.9h8.7v6h-8.7zM774.0 2975.5h8.7v6h-8.7zM775.9 2993.0h8.7v6h-8.7zM775.1 3009.8h8.7v6h-8.7zM774.7 3028.8h8.7v6h-8.7zM775.9 3048.6h8.7v6h-8.7zM776.0 3065.9h8.7v6h-8.7zM777.5 3087.0h8.7v6h-8.7zM776.3 3103.7h8.7v6h-8.7zM778.5 3122.3h8.7v6h-8.7zM777.6 3141.4h8.7v6h-8.7zM778.7 3160.0h8.7v6h-8.7zM780.3 3180.3h8.7v6h-8.7zM780.2 3197.7h8.7v6h-8.7zM780.0 3215.9h8.7v6h-8.7zM780.6 3236.1h8.7v6h-8.7zM781.9 3254.3h8.7v6h-8.7zM782.1 3273.8h8.7v6h-8.7zM782.5 3290.5h8.7v6h-8.7zM782.4 3310.4h8.7v6h-8.7zM783.1 3329.9h8.7v6h-8.7zM783.3 3348.2h8.7v6h-8.7zM784.8 3366.8h8.7v6h-8.7zM783.6 3385.3h8.7v6h-8.7zM785.0 3404.8h8.7v6h-8.7zM785.1 3422.0h8.7v6h-8.7zM785.5 3442.2h8.7v6h-8.7zM787.6 3458.9h8.7v6h-8.7zM785.6 3478.8h8.7v6h-8.7zM787.4 3496.7h8.7v6h-8.7zM788.3 3514.8h8.7v6h-8.7zM790.5 3531.6h8.7v6h-8.7zM789.3 3550.6h8.7v6h-8.7zM789.0 3568.2h8.7v6h-8.7zM790.5 3585.3h8.7v6h-8.7zM791.1 3604.7h8.7v6h-8.7zM793.0 3623.5h8.7v6h-8.7zM793.6 3639.5h8.7v6h-8.7zM794.7 3656.6h8.7v6h-8.7zM797.0 3670.9h8.7v6h-8.7zM798.4 3687.4h8.7v6h-8.7zM801.3 3685.9h8.7v6h-8.7zM801.7 3677.6h8.7v6h-8.7zM802.3 3666.7h8.7v6h-8.7zM804.8 3651.6h8.7v6h-8.7zM805.4 3634.0h8.7v6h-8.7zM805.8 3618.8h8.7v6h-8.7zM807.5 3600.7h8.7v6h-8.7zM807.7 3582.8h8.7v6h-8.7zM808.2 3566.0h8.7v6h-8.7zM809.0 3548.8h8.7v6h-8.7zM808.3 3532.6h8.7v6h-8.7zM811.3 3513.6h8.7v6h-8.7zM811.3 3494.7h8.7v6h-8.7zM810.9 3477.7h8.7v6h-8.7zM811.9 3458.6h8.7v6h-8.7zM812.5 3439.1h8.7v6h-8.7zM812.7 3421.4h8.7v6h-8.7zM814.4 3403.0h8.7v6h-8.7zM813.4 3384.8h8.7v6h-8.7zM813.7 3367.5h8.7v6h-8.7zM815.0 3347.9h8.7v6h-8.7zM815.8 3329.0h8.7v6h-8.7zM816.8 3310.7h8.7v6h-8.7zM817.1 3291.2h8.7v6h-8.7zM816.0 3273.4h8.7v6h-8.7zM817.4 3254.8h8.7v6h-8.7zM818.3 3236.0h8.7v6h-8.7zM818.5 3215.6h8.7v6h-8.7zM818.1 3199.3h8.7v6h-8.7zM819.3 3180.3h8.7v6h-8.7zM819.5 3162.0h8.7v6h-8.7zM820.3 3143.5h8.7v6h-8.7zM820.1 3124.4h8.7v6h-8.7zM821.3 3106.9h8.7v6h-8.7zM821.9 3086.7h8.7v6h-8.7zM821.7 3068.3h8.7v6h-8.7zM822.2 3048.5h8.7v6h-8.7zM822.5 3030.0h8.7v6h-8.7zM822.4 3010.4h8.7v6h-8.7zM823.4 2991.9h8.7v6h-8.7zM824.1 2972.7h8.7v6h-8.7zM824.9 2955.7h8.7v6h-8.7zM825.3 2937.7h8.7v6h-8.7zM825.6 2920.4h8.7v6h-8.7zM825.4 2900.3h8.7v6h-8.7zM826.7 2882.9h8.7v6h-8.7zM827.1 2862.8h8.7v6h-8.7zM826.4 2845.2h8.7v6h-8.7zM827.2 2825.5h8.7v6h-8.7zM827.1 2807.6h8.7v6h-8.7zM830.2 2788.0h8.7v6h-8.7zM829.2 2769.7h8.7v6h-8.7zM830.8 2752.0h8.7v6h-8.7zM830.5 2734.7h8.7v6h-8.7zM832.0 2716.3h8.7v6h-8.7zM832.2 2697.1h8.7v6h-8.7zM832.8 2678.8h8.7v6h-8.7zM833.7 2661.0h8.7v6h-8.7zM835.1 2643.7h8.7v6h-8.7zM836.4 2627.8h8.7v6h-8.7zM836.9 2612.7h8.7v6h-8.7zM841.7 2605.6h8.7v6h-8.7zM841.8 2609.8h8.7v6h-8.7zM843.1 2619.7h8.7v6h-8.7zM844.1 2634.1h8.7v6h-8.7zM845.8 2650.2h8.7v6h-8.7zM848.0 2667.8h8.7v6h-8.7zM847.7 2685.7h8.7v6h-8.7zM848.2 2704.0h8.7v6h-8.7zM849.8 2721.4h8.7v6h-8.7zM849.1 2739.4h8.7v6h-8.7zM849.0 2757.8h8.7v6h-8.7zM850.8 2775.7h8.7v6h-8.7zM850.5 2792.5h8.7v6h-8.7zM851.4 2811.8h8.7v6h-8.7zM853.0 2831.5h8.7v6h-8.7zM852.8 2849.6h8.7v6h-8.7zM853.7 2866.9h8.7v6h-8.7zM853.6 2887.1h8.7v6h-8.7zM854.9 2904.9h8.7v6h-8.7zM855.3 2922.2h8.7v6h-8.7zM855.5 2939.4h8.7v6h-8.7zM855.6 2957.9h8.7v6h-8.7zM856.0 2975.8h8.7v6h-8.7zM856.8 2994.6h8.7v6h-8.7zM858.1 3014.6h8.7v6h-8.7zM858.8 3033.4h8.7v6h-8.7zM857.6 3051.1h8.7v6h-8.7zM858.0 3070.0h8.7v6h-8.7zM859.4 3086.0h8.7v6h-8.7zM858.3 3103.8h8.7v6h-8.7zM859.2 3122.3h8.7v6h-8.7zM859.8 3141.0h8.7v6h-8.7zM861.2 3159.7h8.7v6h-8.7zM861.6 3178.9h8.7v6h-8.7zM862.3 3198.1h8.7v6h-8.7zM862.6 3215.8h8.7v6h-8.7zM862.8 3233.5h8.7v6h-8.7zM863.0 3251.7h8.7v6h-8.7zM864.4 3269.5h8.7v6h-8.7zM863.6 3288.6h8.7v6h-8.7zM865.3 3308.2h8.7v6h-8.7zM865.5 3327.4h8.7v6h-8.7zM864.6 3345.3h8.7v6h-8.7zM865.3 3364.1h8.7v6h-8.7zM866.9 3382.6h8.7v6h-8.7zM866.3 3400.1h8.7v6h-8.7zM868.0 3415.5h8.7v6h-8.7zM869.2 3436.5h8.7v6h-8.7zM867.8 3454.6h8.7v6h-8.7zM868.2 3472.4h8.7v6h-8.7zM869.6 3490.1h8.7v6h-8.7zM869.6 3507.3h8.7v6h-8.7zM870.1 3525.5h8.7v6h-8.7zM871.7 3544.2h8.7v6h-8.7zM872.6 3562.4h8.7v6h-8.7zM872.9 3581.4h8.7v6h-8.7zM872.6 3598.1h8.7v6h-8.7zM873.1 3616.1h8.7v6h-8.7zM874.8 3634.7h8.7v6h-8.7zM875.8 3650.7h8.7v6h-8.7zM877.2 3667.3h8.7v6h-8.7zM878.9 3681.2h8.7v6h-8.7zM881.2 3689.2h8.7v6h-8.7zM883.7 3685.1h8.7v6h-8.7zM883.8 3677.6h8.7v6h-8.7zM885.7 3666.0h8.7v6h-8.7zM886.9 3651.0h8.7v6h-8.7zM887.4 3634.5h8.7v6h-8.7zM888.7 3615.0h8.7v6h-8.7zM888.7 3597.6h8.7v6h-8.7zM888.6 3580.8h8.7v6h-8.7zM890.5 3563.8h8.7v6h-8.7zM890.1 3545.9h8.7v6h-8.7zM891.8 3529.6h8.7v6h-8.7zM891.8 3511.9h8.7v6h-8.7zM893.8 3492.5h8.7v6h-8.7zM893.0 3473.9h8.7v6h-8.7zM892.9 3454.3h8.7v6h-8.7zM895.3 3436.2h8.7v6h-8.7zM894.7 3419.3h8.7v6h-8.7zM895.7 3399.7h8.7v6h-8.7zM895.6 3381.8h8.7v6h-8.7zM896.3 3364.6h8.7v6h-8.7zM896.9 3344.9h8.7v6h-8.7zM896.2 3326.8h8.7v6h-8.7zM897.5 3306.7h8.7v6h-8.7zM898.0 3288.8h8.7v6h-8.7zM898.6 3269.1h8.7v6h-8.7zM898.7 3249.4h8.7v6h-8.7zM900.4 3232.0h8.7v6h-8.7zM899.8 3214.2h8.7v6h-8.7zM900.3 3195.1h8.7v6h-8.7zM901.0 3177.8h8.7v6h-8.7zM901.7 3159.9h8.7v6h-8.7zM902.7 3139.1h8.7v6h-8.7zM902.5 3121.3h8.7v6h-8.7zM901.7 3103.0h8.7v6h-8.7zM902.9 3085.1h8.7v6h-8.7zM903.7 3064.6h8.7v6h-8.7zM904.1 3044.8h8.7v6h-8.7zM904.7 3027.2h8.7v6h-8.7zM904.1 3007.0h8.7v6h-8.7zM907.5 2989.1h8.7v6h-8.7zM905.9 2971.2h8.7v6h-8.7zM905.8 2953.4h8.7v6h-8.7zM907.4 2933.0h8.7v6h-8.7zM907.0 2914.6h8.7v6h-8.7zM907.8 2894.8h8.7v6h-8.7zM908.6 2878.5h8.7v6h-8.7zM909.1 2861.4h8.7v6h-8.7zM910.1 2840.9h8.7v6h-8.7zM910.1 2823.4h8.7v6h-8.7zM910.9 2805.6h8.7v6h-8.7zM910.9 2789.7h8.7v6h-8.7zM911.5 2769.5h8.7v6h-8.7zM912.3 2753.3h8.7v6h-8.7zM912.5 2736.4h8.7v6h-8.7zM914.2 2716.7h8.7v6h-8.7zM914.1 2699.8h8.7v6h-8.7zM915.2 2682.8h8.7v6h-8.7zM915.3 2666.1h8.7v6h-8.7zM917.9 2647.1h8.7v6h-8.7zM917.1 2630.9h8.7v6h-8.7zM918.7 2615.1h8.7v6h-8.7zM922.1 2602.7h8.7v6h-8.7zM923.9 2609.4h8.7v6h-8.7zM925.8 2618.4h8.7v6h-8.7zM926.7 2632.8h8.7v6h-8.7zM926.4 2646.8h8.7v6h-8.7zM929.2 2662.4h8.7v6h-8.7zM929.5 2681.2h8.7v6h-8.7zM930.7 2697.2h8.7v6h-8.7zM931.9 2716.1h8.7v6h-8.7zM932.1 2733.4h8.7v6h-8.7zM931.7 2752.4h8.7v6h-8.7zM933.8 2770.2h8.7v6h-8.7zM932.3 2790.0h8.7v6h-8.7zM934.0 2804.9h8.7v6h-8.7zM934.2 2824.0h8.7v6h-8.7zM935.7 2841.4h8.7v6h-8.7zM935.2 2862.8h8.7v6h-8.7zM936.4 2879.1h8.7v6h-8.7zM936.4 2898.1h8.7v6h-8.7zM937.8 2916.5h8.7v6h-8.7zM938.2 2935.9h8.7v6h-8.7zM937.5 2955.0h8.7v6h-8.7zM938.8 2973.7h8.7v6h-8.7zM939.8 2991.7h8.7v6h-8.7zM939.5 3009.4h8.7v6h-8.7zM939.4 3027.9h8.7v6h-8.7zM940.7 3047.5h8.7v6h-8.7zM940.1 3066.1h8.7v6h-8.7zM940.7 3083.5h8.7v6h-8.7zM942.4 3102.6h8.7v6h-8.7zM941.7 3123.0h8.7v6h-8.7zM942.6 3141.2h8.7v6h-8.7zM942.2 3159.0h8.7v6h-8.7zM943.2 3177.4h8.7v6h-8.7zM943.6 3197.1h8.7v6h-8.7zM944.9 3216.8h8.7v6h-8.7zM944.9 3235.2h8.7v6h-8.7zM945.4 3252.8h8.7v6h-8.7zM945.8 3274.2h8.7v6h-8.7zM947.0 3290.2h8.7v6h-8.7zM948.0 3309.3h8.7v6h-8.7zM946.7 3326.7h8.7v6h-8.7zM948.4 3345.0h8.7v6h-8.7zM948.6 3362.5h8.7v6h-8.7zM948.5 3381.2h8.7v6h-8.7zM949.4 3400.0h8.7v6h-8.7zM950.3 3419.1h8.7v6h-8.7zM949.3 3437.5h8.7v6h-8.7zM951.4 3458.2h8.7v6h-8.7zM950.7 3477.0h8.7v6h-8.7zM951.7 3494.6h8.7v6h-8.7zM951.5 3514.1h8.7v6h-8.7zM953.0 3532.2h8.7v6h-8.7zM953.2 3549.9h8.7v6h-8.7zM955.1 3566.8h8.7v6h-8.7zM955.2 3584.6h8.7v6h-8.7zM955.9 3602.3h8.7v6h-8.7zM956.5 3621.9h8.7v6h-8.7zM957.3 3639.3h8.7v6h-8.7zM957.9 3654.4h8.7v6h-8.7zM959.8 3671.1h8.7v6h-8.7zM961.4 3685.2h8.7v6h-8.7zM964.5 3687.1h8.7v6h-8.7zM966.0 3680.4h8.7v6h-8.7zM967.9 3667.9h8.7v6h-8.7zM967.8 3652.6h8.7v6h-8.7zM968.8 3635.1h8.7v6h-8.7zM970.9 3620.9h8.7v6h-8.7zM972.1 3602.8h8.7v6h-8.7zM971.9 3585.6h8.7v6h-8.7zM972.2 3568.6h8.7v6h-8.7zM972.9 3550.5h8.7v6h-8.7zM973.6 3530.9h8.7v6h-8.7zM973.7 3512.8h8.7v6h-8.7zM975.7 3494.6h8.7v6h-8.7zM975.8 3475.4h8.7v6h-8.7zM975.8 3457.6h8.7v6h-8.7zM976.3 3438.2h8.7v6h-8.7zM977.3 3420.6h8.7v6h-8.7zM977.4 3402.7h8.7v6h-8.7zM978.4 3386.4h8.7v6h-8.7zM978.6 3369.1h8.7v6h-8.7zM978.9 3352.2h8.7v6h-8.7zM978.4 3333.3h8.7v6h-8.7zM979.8 3314.7h8.7v6h-8.7zM979.4 3295.3h8.7v6h-8.7zM980.5 3274.6h8.7v6h-8.7zM980.8 3255.5h8.7v6h-8.7zM981.7 3235.9h8.7v6h-8.7zM981.5 3219.1h8.7v6h-8.7zM982.4 3202.5h8.7v6h-8.7zM982.7 3182.3h8.7v6h-8.7zM984.4 3162.4h8.7v6h-8.7zM984.4 3145.5h8.7v6h-8.7zM984.3 3128.0h8.7v6h-8.7zM984.1 3108.8h8.7v6h-8.7zM984.1 3090.4h8.7v6h-8.7zM986.1 3071.9h8.7v6h-8.7zM986.5 3053.2h8.7v6h-8.7zM987.1 3034.7h8.7v6h-8.7zM986.7 3016.4h8.7v6h-8.7zM987.4 2996.1h8.7v6h-8.7zM988.0 2977.7h8.7v6h-8.7zM988.4 2958.5h8.7v6h-8.7zM989.0 2939.9h8.7v6h-8.7zM989.5 2922.4h8.7v6h-8.7zM990.9 2902.9h8.7v6h-8.7zM990.4 2886.3h8.7v6h-8.7zM990.2 2867.7h8.7v6h-8.7zM991.7 2849.1h8.7v6h-8.7zM991.9 2830.0h8.7v6h-8.7zM992.2 2814.1h8.7v6h-8.7zM993.2 2797.4h8.7v6h-8.7zM993.8 2777.7h8.7v6h-8.7zM995.1 2757.9h8.7v6h-8.7zM995.3 2741.2h8.7v6h-8.7zM995.7 2722.4h8.7v6h-8.7zM995.6 2702.9h8.7v6h-8.7zM997.2 2686.3h8.7v6h-8.7zM998.1 2669.7h8.7v6h-8.7zM999.9 2651.4h8.7v6h-8.7zM1000.9 2634.6h8.7v6h-8.7zM1001.4 2619.8h8.7v6h-8.7zM1002.1 2605.0h8.7v6h-8.7zM1006.5 2609.3h8.7v6h-8.7zM1008.2 2618.1h8.7v6h-8.7zM1009.2 2631.1h8.7v6h-8.7zM1009.3 2647.3h8.7v6h-8.7zM1010.2 2663.1h8.7v6h-8.7zM1010.3 2679.2h8.7v6h-8.7zM1011.2 2696.9h8.7v6h-8.7zM1013.7 2715.3h8.7v6h-8.7zM1013.6 2732.1h8.7v6h-8.7zM1014.5 2749.9h8.7v6h-8.7zM1014.5 2768.9h8.7v6h-8.7zM1014.5 2784.9h8.7v6h-8.7zM1015.1 2804.5h8.7v6h-8.7zM1016.3 2820.8h8.7v6h-8.7zM1016.2 2839.7h8.7v6h-8.7zM1017.8 2857.3h8.7v6h-8.7zM1017.9 2876.5h8.7v6h-8.7zM1019.2 2894.5h8.7v6h-8.7zM1018.1 2911.7h8.7v6h-8.7zM1018.6 2930.8h8.7v6h-8.7zM1019.1 2948.8h8.7v6h-8.7zM1020.4 2966.1h8.7v6h-8.7zM1020.1 2984.3h8.7v6h-8.7zM1021.5 3001.9h8.7v6h-8.7zM1022.2 3021.6h8.7v6h-8.7zM1022.1 3038.2h8.7v6h-8.7zM1021.6 3056.5h8.7v6h-8.7zM1022.7 3077.2h8.7v6h-8.7zM1023.9 3095.2h8.7v6h-8.7zM1024.6 3112.5h8.7v6h-8.7zM1024.7 3129.8h8.7v6h-8.7zM1024.6 3148.3h8.7v6h-8.7zM1024.7 3168.3h8.7v6h-8.7zM1025.6 3184.0h8.7v6h-8.7zM1024.6 3203.4h8.7v6h-8.7zM1026.3 3220.8h8.7v6h-8.7zM1027.8 3240.6h8.7v6h-8.7zM1026.7 3259.6h8.7v6h-8.7zM1028.5 3279.3h8.7v6h-8.7zM1027.8 3296.1h8.7v6h-8.7zM1028.6 3315.5h8.7v6h-8.7zM1029.7 3334.1h8.7v6h-8.7zM1030.2 3351.2h8.7v6h-8.7zM1030.1 3369.0h8.7v6h-8.7zM1030.4 3386.8h8.7v6h-8.7zM1031.4 3406.5h8.7v6h-8.7zM1032.6 3426.4h8.7v6h-8.7zM1032.3 3443.8h8.7v6h-8.7zM1032.0 3462.4h8.7v6h-8.7zM1033.1 3479.7h8.7v6h-8.7zM1033.7 3499.5h8.7v6h-8.7zM1034.2 3517.4h8.7v6h-8.7zM1035.1 3534.8h8.7v6h-8.7zM1035.3 3554.7h8.7v6h-8.7zM1036.6 3571.5h8.7v6h-8.7zM1036.0 3590.3h8.7v6h-8.7zM1038.2 3606.7h8.7v6h-8.7zM1039.3 3626.0h8.7v6h-8.7zM1039.8 3642.5h8.7v6h-8.7zM1041.2 3660.9h8.7v6h-8.7zM1042.5 3676.2h8.7v6h-8.7zM1047.1 3689.3h6v8.7h-6zM1047.2 3684.9h8.7v6h-8.7zM1048.3 3676.3h8.7v6h-8.7zM1049.6 3663.0h8.7v6h-8.7zM1050.2 3646.9h8.7v6h-8.7zM1052.1 3630.6h8.7v6h-8.7zM1051.8 3613.9h8.7v6h-8.7zM1052.7 3596.4h8.7v6h-8.7zM1054.3 3579.2h8.7v6h-8.7zM1055.3 3561.9h8.7v6h-8.7zM1054.5 3543.7h8.7v6h-8.7zM1056.0 3528.1h8.7v6h-8.7zM1056.1 3509.0h8.7v6h-8.7zM1057.6 3492.6h8.7v6h-8.7zM1057.8 3474.3h8.7v6h-8.7zM1057.4 3454.1h8.7v6h-8.7zM1058.1 3437.1h8.7v6h-8.7zM1059.3 3419.4h8.7v6h-8.7zM1059.7 3400.6h8.7v6h-8.7zM1060.1 3384.6h8.7v6h-8.7zM1060.4 3365.3h8.7v6h-8.7zM1060.8 3347.8h8.7v6h-8.7zM1062.1 3329.6h8.7v6h-8.7zM1061.7 3310.5h8.7v6h-8.7zM1062.6 3290.9h8.7v6h-8.7zM1063.1 3271.2h8.7v6h-8.7zM1063.8 3252.0h8.7v6h-8.7zM1064.1 3232.4h8.7v6h-8.7zM1064.8 3214.0h8.7v6h-8.7zM1063.7 3195.9h8.7v6h-8.7zM1064.9 3179.7h8.7v6h-8.7zM1065.2 3160.5h8.7v6h-8.7zM1066.6 3141.1h8.7v6h-8.7zM1066.5 3122.0h8.7v6h-8.7zM1066.5 3104.4h8.7v6h-8.7zM1067.8 3086.3h8.7v6h-8.7zM1067.5 3070.1h8.7v6h-8.7zM1068.3 3049.5h8.7v6h-8.7zM1068.2 3029.5h8.7v6h-8.7zM1069.5 3010.4h8.7v6h-8.7zM1069.4 2992.2h8.7v6h-8.7zM1069.9 2974.0h8.7v6h-8.7zM1069.7 2954.5h8.7v6h-8.7zM1071.6 2937.2h8.7v6h-8.7zM1071.4 2918.8h8.7v6h-8.7zM1072.3 2902.6h8.7v6h-8.7zM1072.9 2884.0h8.7v6h-8.7zM1073.1 2865.9h8.7v6h-8.7zM1074.1 2846.5h8.7v6h-8.7zM1073.4 2828.7h8.7v6h-8.7zM1074.0 2811.6h8.7v6h-8.7zM1075.4 2792.6h8.7v6h-8.7zM1075.6 2773.5h8.7v6h-8.7zM1076.1 2755.0h8.7v6h-8.7zM1076.5 2737.6h8.7v6h-8.7zM1077.2 2718.2h8.7v6h-8.7zM1078.7 2701.0h8.7v6h-8.7zM1079.5 2682.0h8.7v6h-8.7zM1079.3 2666.3h8.7v6h-8.7zM1080.4 2649.2h8.7v6h-8.7zM1082.1 2631.0h8.7v6h-8.7zM1083.2 2615.8h8.7v6h-8.7zM1087.1 2602.6h8.7v6h-8.7zM1087.1 2609.5h8.7v6h-8.7zM1088.0 2618.4h8.7v6h-8.7zM1090.1 2630.7h8.7v6h-8.7zM1091.5 2645.8h8.7v6h-8.7zM1091.9 2660.9h8.7v6h-8.7zM1093.7 2679.4h8.7v6h-8.7zM1094.5 2696.6h8.7v6h-8.7zM1094.7 2714.1h8.7v6h-8.7zM1095.2 2732.3h8.7v6h-8.7zM1096.9 2750.4h8.7v6h-8.7zM1096.1 2766.7h8.7v6h-8.7zM1097.3 2784.3h8.7v6h-8.7zM1097.2 2802.4h8.7v6h-8.7zM1099.2 2819.9h8.7v6h-8.7zM1098.7 2837.7h8.7v6h-8.7zM1098.8 2857.1h8.7v6h-8.7zM1100.4 2876.8h8.7v6h-8.7zM1101.0 2894.0h8.7v6h-8.7zM1100.4 2909.3h8.7v6h-8.7zM1102.2 2928.7h8.7v6h-8.7zM1101.9 2948.8h8.7v6h-8.7zM1101.8 2965.0h8.7v6h-8.7zM1102.4 2985.1h8.7v6h-8.7zM1103.8 3001.5h8.7v6h-8.7zM1104.7 3020.7h8.7v6h-8.7zM1104.5 3039.8h8.7v6h-8.7zM1105.7 3059.1h8.7v6h-8.7zM1105.9 3076.2h8.7v6h-8.7zM1105.9 3094.4h8.7v6h-8.7zM1105.8 3111.8h8.7v6h-8.7zM1106.0 3129.2h8.7v6h-8.7zM1106.5 3148.9h8.7v6h-8.7zM1107.6 3167.3h8.7v6h-8.7zM1107.2 3186.7h8.7v6h-8.7zM1107.3 3206.0h8.7v6h-8.7zM1108.5 3225.4h8.7v6h-8.7zM1109.4 3244.8h8.7v6h-8.7zM1110.0 3262.0h8.7v6h-8.7zM1110.4 3280.3h8.7v6h-8.7zM1109.9 3298.3h8.7v6h-8.7zM1111.3 3317.6h8.7v6h-8.7zM1111.2 3333.3h8.7v6h-8.7zM1112.0 3352.6h8.7v6h-8.7zM1111.9 3372.6h8.7v6h-8.7zM1113.9 3390.0h8.7v6h-8.7zM1113.0 3408.6h8.7v6h-8.7zM1113.8 3426.7h8.7v6h-8.7zM1114.9 3446.1h8.7v6h-8.7zM1115.6 3463.3h8.7v6h-8.7zM1115.4 3480.7h8.7v6h-8.7zM1115.0 3501.6h8.7v6h-8.7zM1115.4 3516.5h8.7v6h-8.7zM1116.9 3533.6h8.7v6h-8.7zM1118.0 3553.2h8.7v6h-8.7zM1118.5 3570.3h8.7v6h-8.7zM1119.1 3587.1h8.7v6h-8.7zM1119.7 3604.7h8.7v6h-8.7zM1121.1 3620.9h8.7v6h-8.7zM1121.2 3636.9h8.7v6h-8.7zM1122.7 3654.6h8.7v6h-8.7zM1123.4 3669.4h8.7v6h-8.7zM1126.6 3685.6h8.7v6h-8.7zM1130.0 3687.7h8.7v6h-8.7zM1130.5 3681.4h8.7v6h-8.7zM1131.3 3669.8h8.7v6h-8.7zM1132.4 3656.6h8.7v6h-8.7zM1133.9 3639.6h8.7v6h-8.7zM1134.2 3624.4h8.7v6h-8.7zM1135.6 3605.4h8.7v6h-8.7zM1135.7 3587.5h8.7v6h-8.7zM1136.4 3568.5h8.7v6h-8.7zM1137.4 3549.8h8.7v6h-8.7zM1138.8 3533.9h8.7v6h-8.7zM1138.1 3515.4h8.7v6h-8.7zM1138.8 3496.7h8.7v6h-8.7zM1139.3 3478.2h8.7v6h-8.7zM1139.4 3460.0h8.7v6h-8.7zM1141.1 3440.9h8.7v6h-8.7zM1141.6 3423.7h8.7v6h-8.7zM1141.8 3406.0h8.7v6h-8.7zM1141.9 3386.9h8.7v6h-8.7zM1143.2 3369.0h8.7v6h-8.7zM1142.7 3348.9h8.7v6h-8.7zM1144.6 3331.0h8.7v6h-8.7zM1144.9 3312.8h8.7v6h-8.7zM1144.5 3292.1h8.7v6h-8.7zM1144.3 3273.5h8.7v6h-8.7zM1145.8 3255.7h8.7v6h-8.7zM1145.1 3236.3h8.7v6h-8.7zM1145.8 3216.8h8.7v6h-8.7zM1144.9 3199.9h8.7v6h-8.7zM1148.0 3180.2h8.7v6h-8.7zM1147.5 3161.9h8.7v6h-8.7zM1147.4 3143.4h8.7v6h-8.7zM1147.9 3125.0h8.7v6h-8.7zM1149.0 3106.0h8.7v6h-8.7zM1149.3 3087.8h8.7v6h-8.7zM1150.1 3070.1h8.7v6h-8.7zM1150.6 3052.3h8.7v6h-8.7zM1149.9 3032.6h8.7v6h-8.7zM1150.5 3014.1h8.7v6h-8.7zM1151.4 2997.4h8.7v6h-8.7zM1152.4 2979.0h8.7v6h-8.7zM1152.3 2958.6h8.7v6h-8.7zM1152.8 2940.4h8.7v6h-8.7zM1153.4 2921.2h8.7v6h-8.7zM1153.7 2902.5h8.7v6h-8.7zM1153.7 2884.2h8.7v6h-8.7zM1155.7 2865.8h8.7v6h-8.7zM1154.9 2846.7h8.7v6h-8.7zM1155.8 2829.0h8.7v6h-8.7zM1157.4 2810.4h8.7v6h-8.7zM1157.5 2790.9h8.7v6h-8.7zM1157.5 2772.8h8.7v6h-8.7zM1158.0 2753.9h8.7v6h-8.7zM1158.8 2736.5h8.7v6h-8.7zM1159.1 2718.0h8.7v6h-8.7zM1159.8 2700.0h8.7v6h-8.7zM1160.1 2682.8h8.7v6h-8.7zM1163.0 2664.8h8.7v6h-8.7zM1164.0 2649.0h8.7v6h-8.7zM1164.6 2630.9h8.7v6h-8.7zM1166.7 2615.1h8.7v6h-8.7zM1167.9 2603.6h8.7v6h-8.7zM1169.7 2608.1h8.7v6h-8.7zM1171.6 2619.0h8.7v6h-8.7zM1172.2 2632.4h8.7v6h-8.7zM1172.9 2648.3h8.7v6h-8.7zM1175.4 2663.8h8.7v6h-8.7zM1175.5 2681.9h8.7v6h-8.7zM1177.0 2699.7h8.7v6h-8.7zM1177.9 2716.5h8.7v6h-8.7zM1177.2 2733.2h8.7v6h-8.7zM1178.0 2753.9h8.7v6h-8.7zM1179.0 2770.5h8.7v6h-8.7zM1179.6 2789.1h8.7v6h-8.7zM1179.5 2804.1h8.7v6h-8.7zM1181.4 2823.7h8.7v6h-8.7zM1180.8 2841.1h8.7v6h-8.7zM1182.3 2856.8h8.7v6h-8.7zM1182.9 2877.1h8.7v6h-8.7zM1183.0 2894.7h8.7v6h-8.7zM1185.0 2914.1h8.7v6h-8.7zM1184.2 2930.5h8.7v6h-8.7zM1184.1 2952.2h8.7v6h-8.7zM1183.6 2968.5h8.7v6h-8.7zM1185.1 2988.2h8.7v6h-8.7zM1186.2 3006.5h8.7v6h-8.7zM1186.2 3024.6h8.7v6h-8.7zM1187.4 3042.5h8.7v6h-8.7zM1187.6 3062.2h8.7v6h-8.7zM1187.1 3082.1h8.7v6h-8.7zM1187.2 3100.6h8.7v6h-8.7zM1188.0 3117.5h8.7v6h-8.7zM1188.2 3138.2h8.7v6h-8.7zM1189.1 3156.2h8.7v6h-8.7zM1188.6 3174.4h8.7v6h-8.7zM1190.6 3193.5h8.7v6h-8.7zM1190.9 3210.1h8.7v6h-8.7zM1190.6 3230.1h8.7v6h-8.7zM1191.4 3246.8h8.7v6h-8.7zM1191.9 3263.9h8.7v6h-8.7zM1191.8 3281.0h8.7v6h-8.7zM1192.7 3299.1h8.7v6h-8.7zM1192.8 3318.9h8.7v6h-8.7zM1193.5 3335.7h8.7v6h-8.7zM1193.1 3354.8h8.7v6h-8.7zM1195.1 3374.0h8.7v6h-8.7zM1195.0 3391.8h8.7v6h-8.7zM1195.5 3410.4h8.7v6h-8.7zM1195.8 3426.3h8.7v6h-8.7zM1197.7 3447.0h8.7v6h-8.7zM1196.9 3464.7h8.7v6h-8.7zM1196.7 3482.4h8.7v6h-8.7zM1198.2 3500.5h8.7v6h-8.7zM1198.5 3518.7h8.7v6h-8.7zM1199.6 3536.9h8.7v6h-8.7zM1200.3 3555.3h8.7v6h-8.7zM1200.2 3573.6h8.7v6h-8.7zM1201.5 3591.6h8.7v6h-8.7zM1201.9 3607.7h8.7v6h-8.7zM1202.5 3625.3h8.7v6h-8.7zM1204.0 3643.0h8.7v6h-8.7zM1205.0 3659.0h8.7v6h-8.7zM1205.9 3674.3h8.7v6h-8.7zM1208.6 3687.8h8.7v6h-8.7zM1210.4 3686.5h8.7v6h-8.7zM1212.6 3676.2h8.7v6h-8.7zM1214.4 3664.6h8.7v6h-8.7zM1215.4 3646.5h8.7v6h-8.7zM1215.7 3629.7h8.7v6h-8.7zM1216.3 3612.5h8.7v6h-8.7zM1218.3 3595.3h8.7v6h-8.7zM1218.2 3577.2h8.7v6h-8.7zM1219.1 3559.2h8.7v6h-8.7zM1219.1 3541.0h8.7v6h-8.7zM1219.9 3521.0h8.7v6h-8.7zM1221.1 3505.2h8.7v6h-8.7zM1220.8 3486.1h8.7v6h-8.7zM1220.8 3467.6h8.7v6h-8.7zM1221.1 3449.5h8.7v6h-8.7zM1223.4 3432.0h8.7v6h-8.7zM1222.5 3414.4h8.7v6h-8.7zM1223.5 3394.1h8.7v6h-8.7zM1223.1 3375.9h8.7v6h-8.7zM1225.6 3356.8h8.7v6h-8.7zM1224.8 3338.1h8.7v6h-8.7zM1225.2 3318.2h8.7v6h-8.7zM1226.3 3300.2h8.7v6h-8.7zM1227.2 3281.7h8.7v6h-8.7zM1227.5 3262.9h8.7v6h-8.7zM1227.3 3244.1h8.7v6h-8.7zM1227.8 3226.5h8.7v6h-8.7zM1228.0 3207.7h8.7v6h-8.7zM1229.6 3186.8h8.7v6h-8.7zM1230.4 3166.5h8.7v6h-8.7zM1230.0 3148.6h8.7v6h-8.7zM1230.3 3131.9h8.7v6h-8.7zM1230.5 3113.1h8.7v6h-8.7zM1231.9 3093.8h8.7v6h-8.7zM1231.0 3076.7h8.7v6h-8.7zM1232.0 3056.6h8.7v6h-8.7zM1232.9 3036.7h8.7v6h-8.7zM1232.5 3017.7h8.7v6h-8.7zM1233.4 2998.8h8.7v6h-8.7zM1233.2 2981.9h8.7v6h-8.7zM1234.8 2963.6h8.7v6h-8.7zM1235.0 2942.2h8.7v6h-8.7zM1235.9 2924.9h8.7v6h-8.7zM1236.2 2905.1h8.7v6h-8.7zM1237.0 2886.6h8.7v6h-8.7zM1236.8 2868.1h8.7v6h-8.7zM1238.0 2849.4h8.7v6h-8.7zM1237.6 2831.1h8.7v6h-8.7zM1238.4 2812.4h8.7v6h-8.7zM1238.7 2792.4h8.7v6h-8.7zM1239.1 2776.1h8.7v6h-8.7zM1240.6 2759.4h8.7v6h-8.7zM1241.7 2739.7h8.7v6h-8.7zM1241.5 2722.3h8.7v6h-8.7zM1242.3 2703.0h8.7v6h-8.7zM1242.9 2684.7h8.7v6h-8.7zM1244.9 2668.2h8.7v6h-8.7zM1243.9 2652.0h8.7v6h-8.7zM1245.2 2635.6h8.7v6h-8.7zM1247.5 2619.1h8.7v6h-8.7zM1248.5 2604.2h8.7v6h-8.7zM1253.5 2610.1h8.7v6h-8.7zM1253.1 2618.9h8.7v6h-8.7zM1254.8 2631.5h8.7v6h-8.7zM1255.3 2646.9h8.7v6h-8.7zM1256.3 2662.0h8.7v6h-8.7zM1256.4 2677.8h8.7v6h-8.7zM1258.2 2694.8h8.7v6h-8.7zM1257.2 2710.6h8.7v6h-8.7zM1260.0 2727.9h8.7v6h-8.7zM1260.9 2746.8h8.7v6h-8.7zM1261.3 2763.6h8.7v6h-8.7zM1262.1 2780.8h8.7v6h-8.7zM1262.6 2800.0h8.7v6h-8.7zM1262.0 2816.6h8.7v6h-8.7zM1263.7 2834.9h8.7v6h-8.7zM1263.1 2852.2h8.7v6h-8.7zM1264.9 2868.8h8.7v6h-8.7zM1263.9 2888.2h8.7v6h-8.7zM1265.5 2905.1h8.7v6h-8.7zM1264.8 2923.6h8.7v6h-8.7zM1266.8 2942.3h8.7v6h-8.7zM1265.0 2960.4h8.7v6h-8.7zM1266.9 2979.2h8.7v6h-8.7zM1266.7 2999.8h8.7v6h-8.7zM1268.0 3017.8h8.7v6h-8.7zM1268.5 3037.0h8.7v6h-8.7zM1269.2 3055.5h8.7v6h-8.7zM1268.5 3072.3h8.7v6h-8.7zM1269.4 3093.1h8.7v6h-8.7zM1269.9 3109.6h8.7v6h-8.7zM1270.5 3129.4h8.7v6h-8.7zM1270.6 3149.0h8.7v6h-8.7zM1270.7 3167.3h8.7v6h-8.7zM1273.1 3186.8h8.7v6h-8.7zM1271.8 3205.4h8.7v6h-8.7zM1273.6 3221.2h8.7v6h-8.7zM1273.0 3242.1h8.7v6h-8.7zM1273.2 3261.3h8.7v6h-8.7zM1273.4 3277.8h8.7v6h-8.7zM1274.5 3298.0h8.7v6h-8.7zM1275.1 3315.2h8.7v6h-8.7zM1275.3 3333.9h8.7v6h-8.7zM1277.3 3352.3h8.7v6h-8.7zM1276.3 3369.8h8.7v6h-8.7zM1277.3 3389.4h8.7v6h-8.7zM1277.1 3407.7h8.7v6h-8.7zM1277.9 3426.6h8.7v6h-8.7zM1278.2 3446.7h8.7v6h-8.7zM1279.2 3464.7h8.7v6h-8.7zM1279.5 3480.1h8.7v6h-8.7zM1280.5 3501.4h8.7v6h-8.7zM1279.8 3520.7h8.7v6h-8.7zM1281.6 3538.8h8.7v6h-8.7zM1282.2 3557.0h8.7v6h-8.7zM1283.1 3576.0h8.7v6h-8.7zM1283.4 3591.8h8.7v6h-8.7zM1285.6 3608.5h8.7v6h-8.7zM1284.9 3627.4h8.7v6h-8.7zM1286.4 3644.8h8.7v6h-8.7zM1286.2 3660.6h8.7v6h-8.7zM1287.6 3677.3h8.7v6h-8.7zM1290.2 3691.0h8.7v6h-8.7zM1293.4 3685.3h8.7v6h-8.7zM1294.2 3675.5h8.7v6h-8.7zM1295.9 3661.2h8.7v6h-8.7zM1297.3 3646.0h8.7v6h-8.7zM1297.5 3629.3h8.7v6h-8.7zM1298.5 3611.9h8.7v6h-8.7zM1299.9 3595.1h8.7v6h-8.7zM1299.7 3576.6h8.7v6h-8.7zM1301.6 3558.9h8.7v6h-8.7zM1300.7 3541.6h8.7v6h-8.7zM1302.4 3521.5h8.7v6h-8.7zM1304.2 3501.7h8.7v6h-8.7zM1303.5 3481.7h8.7v6h-8.7zM1304.1 3465.1h8.7v6h-8.7zM1303.9 3446.0h8.7v6h-8.7zM1304.8 3427.1h8.7v6h-8.7zM1306.4 3408.0h8.7v6h-8.7zM1305.9 3389.6h8.7v6h-8.7zM1305.4 3372.3h8.7v6h-8.7zM1306.0 3355.1h8.7v6h-8.7zM1306.0 3336.0h8.7v6h-8.7zM1308.0 3316.2h8.7v6h-8.7zM1307.4 3298.3h8.7v6h-8.7zM1308.0 3277.8h8.7v6h-8.7zM1309.4 3259.0h8.7v6h-8.7zM1308.7 3240.6h8.7v6h-8.7zM1309.8 3221.8h8.7v6h-8.7zM1310.2 3204.1h8.7v6h-8.7zM1310.3 3183.3h8.7v6h-8.7zM1310.9 3166.4h8.7v6h-8.7zM1311.6 3148.1h8.7v6h-8.7zM1312.7 3128.6h8.7v6h-8.7zM1313.4 3109.6h8.7v6h-8.7zM1313.7 3091.2h8.7v6h-8.7zM1314.8 3070.6h8.7v6h-8.7zM1315.3 3052.3h8.7v6h-8.7zM1315.5 3035.4h8.7v6h-8.7zM1315.3 3015.9h8.7v6h-8.7zM1316.2 2998.2h8.7v6h-8.7zM1315.7 2978.9h8.7v6h-8.7zM1317.1 2960.8h8.7v6h-8.7zM1317.5 2941.5h8.7v6h-8.7zM1317.5 2923.2h8.7v6h-8.7zM1318.5 2904.9h8.7v6h-8.7zM1318.6 2884.5h8.7v6h-8.7zM1319.2 2867.7h8.7v6h-8.7zM1319.2 2849.7h8.7v6h-8.7zM1319.5 2831.8h8.7v6h-8.7zM1320.3 2813.5h8.7v6h-8.7zM1321.9 2793.8h8.7v6h-8.7zM1321.0 2773.4h8.7v6h-8.7zM1322.9 2755.7h8.7v6h-8.7zM1323.3 2735.5h8.7v6h-8.7zM1322.9 2717.8h8.7v6h-8.7zM1324.5 2698.0h8.7v6h-8.7zM1324.9 2682.1h8.7v6h-8.7zM1326.0 2663.1h8.7v6h-8.7zM1328.2 2646.4h8.7v6h-8.7zM1328.5 2628.6h8.7v6h-8.7zM1330.6 2612.2h8.7v6h-8.7zM1332.8 2603.7h8.7v6h-8.7zM1333.5 2608.5h8.7v6h-8.7zM1335.0 2615.5h8.7v6h-8.7zM1336.2 2626.6h8.7v6h-8.7zM1337.5 2640.6h8.7v6h-8.7zM1337.8 2657.8h8.7v6h-8.7zM1340.6 2674.4h8.7v6h-8.7zM1340.4 2689.3h8.7v6h-8.7zM1341.2 2706.9h8.7v6h-8.7zM1341.9 2725.7h8.7v6h-8.7zM1341.3 2742.1h8.7v6h-8.7zM1342.6 2761.3h8.7v6h-8.7zM1343.4 2780.2h8.7v6h-8.7zM1343.9 2798.9h8.7v6h-8.7zM1344.7 2816.8h8.7v6h-8.7zM1344.6 2832.9h8.7v6h-8.7zM1346.2 2851.6h8.7v6h-8.7zM1345.5 2869.8h8.7v6h-8.7zM1346.3 2887.8h8.7v6h-8.7zM1347.0 2905.4h8.7v6h-8.7zM1348.0 2923.6h8.7v6h-8.7zM1347.3 2944.6h8.7v6h-8.7zM1348.1 2961.9h8.7v6h-8.7zM1347.8 2980.2h8.7v6h-8.7zM1349.0 2997.0h8.7v6h-8.7zM1349.3 3015.0h8.7v6h-8.7zM1350.9 3035.8h8.7v6h-8.7zM1350.8 3053.1h8.7v6h-8.7zM1351.1 3071.7h8.7v6h-8.7zM1351.8 3091.4h8.7v6h-8.7zM1352.1 3108.9h8.7v6h-8.7zM1352.8 3125.4h8.7v6h-8.7zM1353.7 3144.1h8.7v6h-8.7zM1353.8 3160.4h8.7v6h-8.7zM1353.1 3179.4h8.7v6h-8.7zM1353.7 3198.2h8.7v6h-8.7zM1354.9 3216.6h8.7v6h-8.7zM1355.5 3233.9h8.7v6h-8.7zM1356.2 3253.5h8.7v6h-8.7zM1355.6 3272.0h8.7v6h-8.7zM1356.5 3290.5h8.7v6h-8.7zM1358.6 3309.0h8.7v6h-8.7zM1358.3 3326.9h8.7v6h-8.7zM1358.1 3344.5h8.7v6h-8.7zM1358.1 3365.4h8.7v6h-8.7zM1359.1 3382.5h8.7v6h-8.7zM1358.8 3401.4h8.7v6h-8.7zM1359.7 3417.8h8.7v6h-8.7zM1360.3 3437.9h8.7v6h-8.7zM1361.3 3457.2h8.7v6h-8.7zM1360.8 3475.6h8.7v6h-8.7zM1362.9 3494.8h8.7v6h-8.7zM1362.2 3512.6h8.7v6h-8.7zM1362.3 3530.9h8.7v6h-8.7zM1363.3 3548.3h8.7v6h-8.7zM1363.7 3566.3h8.7v6h-8.7zM1365.2 3584.5h8.7v6h-8.7zM1366.5 3602.1h8.7v6h-8.7zM1366.0 3618.9h8.7v6h-8.7zM1368.8 3635.3h8.7v6h-8.7zM1368.8 3651.6h8.7v6h-8.7zM1369.6 3668.8h8.7v6h-8.7zM1369.6 3682.1h8.7v6h-8.7zM1374.4 3689.0h8.7v6h-8.7zM1376.3 3687.0h8.7v6h-8.7zM1376.9 3677.7h8.7v6h-8.7zM1378.1 3665.1h8.7v6h-8.7zM1378.2 3647.9h8.7v6h-8.7zM1379.8 3631.3h8.7v6h-8.7zM1379.5 3614.0h8.7v6h-8.7zM1380.4 3597.0h8.7v6h-8.7zM1382.6 3576.9h8.7v6h-8.7zM1383.1 3561.0h8.7v6h-8.7zM1383.1 3542.7h8.7v6h-8.7zM1385.3 3523.8h8.7v6h-8.7zM1384.0 3505.6h8.7v6h-8.7zM1384.4 3489.1h8.7v6h-8.7zM1386.4 3471.1h8.7v6h-8.7zM1386.2 3453.2h8.7v6h-8.7zM1386.8 3434.1h8.7v6h-8.7zM1386.8 3414.8h8.7v6h-8.7zM1387.8 3396.2h8.7v6h-8.7zM1389.3 3379.6h8.7v6h-8.7zM1388.4 3361.4h8.7v6h-8.7zM1388.6 3343.6h8.7v6h-8.7zM1389.8 3325.7h8.7v6h-8.7zM1389.8 3307.2h8.7v6h-8.7zM1390.1 3286.8h8.7v6h-8.7zM1391.2 3269.4h8.7v6h-8.7zM1391.7 3249.6h8.7v6h-8.7zM1392.7 3229.1h8.7v6h-8.7zM1392.7 3212.5h8.7v6h-8.7zM1392.9 3193.3h8.7v6h-8.7zM1394.4 3175.7h8.7v6h-8.7zM1394.0 3158.7h8.7v6h-8.7zM1394.0 3140.4h8.7v6h-8.7zM1395.0 3122.4h8.7v6h-8.7zM1394.7 3104.7h8.7v6h-8.7zM1395.7 3087.8h8.7v6h-8.7zM1395.5 3070.0h8.7v6h-8.7zM1396.4 3050.8h8.7v6h-8.7zM1396.8 3030.9h8.7v6h-8.7zM1397.3 3012.2h8.7v6h-8.7zM1397.9 2993.2h8.7v6h-8.7zM1398.1 2974.8h8.7v6h-8.7zM1398.3 2956.9h8.7v6h-8.7zM1399.8 2940.6h8.7v6h-8.7zM1399.5 2920.2h8.7v6h-8.7zM1400.4 2900.0h8.7v6h-8.7zM1400.2 2881.3h8.7v6h-8.7zM1401.0 2862.3h8.7v6h-8.7zM1401.7 2842.1h8.7v6h-8.7zM1402.8 2823.6h8.7v6h-8.7zM1402.2 2807.6h8.7v6h-8.7zM1403.8 2791.0h8.7v6h-8.7zM1404.0 2771.3h8.7v6h-8.7zM1405.2 2754.4h8.7v6h-8.7zM1405.2 2734.6h8.7v6h-8.7zM1406.2 2714.3h8.7v6h-8.7zM1407.0 2696.5h8.7v6h-8.7zM1408.0 2678.8h8.7v6h-8.7zM1408.7 2664.8h8.7v6h-8.7zM1409.2 2644.6h8.7v6h-8.7zM1411.6 2628.7h8.7v6h-8.7zM1411.3 2613.5h8.7v6h-8.7zM1413.9 2603.3h8.7v6h-8.7zM1415.6 2607.4h8.7v6h-8.7zM1416.2 2615.4h8.7v6h-8.7zM1419.2 2628.2h8.7v6h-8.7zM1419.4 2642.8h8.7v6h-8.7zM1420.9 2659.2h8.7v6h-8.7zM1421.8 2677.0h8.7v6h-8.7zM1422.2 2691.6h8.7v6h-8.7zM1422.4 2711.3h8.7v6h-8.7zM1423.8 2730.3h8.7v6h-8.7zM1423.0 2747.2h8.7v6h-8.7zM1424.8 2763.9h8.7v6h-8.7zM1425.1 2783.5h8.7v6h-8.7zM1426.4 2800.5h8.7v6h-8.7zM1426.8 2819.6h8.7v6h-8.7zM1426.5 2837.4h8.7v6h-8.7zM1428.3 2855.8h8.7v6h-8.7zM1429.0 2875.1h8.7v6h-8.7zM1429.4 2892.7h8.7v6h-8.7zM1429.4 2911.7h8.7v6h-8.7zM1429.3 2930.0h8.7v6h-8.7zM1430.3 2949.0h8.7v6h-8.7zM1430.6 2966.9h8.7v6h-8.7zM1432.2 2986.6h8.7v6h-8.7zM1431.9 3004.5h8.7v6h-8.7zM1432.1 3023.3h8.7v6h-8.7zM1433.0 3042.1h8.7v6h-8.7zM1432.3 3059.9h8.7v6h-8.7zM1433.3 3079.7h8.7v6h-8.7zM1434.5 3098.6h8.7v6h-8.7zM1434.9 3116.4h8.7v6h-8.7zM1433.9 3134.9h8.7v6h-8.7zM1435.1 3154.5h8.7v6h-8.7zM1436.3 3173.3h8.7v6h-8.7zM1436.5 3192.6h8.7v6h-8.7zM1435.6 3211.7h8.7v6h-8.7zM1437.8 3229.6h8.7v6h-8.7zM1437.6 3248.1h8.7v6h-8.7zM1437.6 3267.3h8.7v6h-8.7zM1439.2 3285.0h8.7v6h-8.7zM1438.8 3303.9h8.7v6h-8.7zM1439.8 3320.5h8.7v6h-8.7zM1439.2 3340.0h8.7v6h-8.7zM1441.0 3359.2h8.7v6h-8.7zM1440.3 3378.5h8.7v6h-8.7zM1440.9 3397.2h8.7v6h-8.7zM1441.9 3415.5h8.7v6h-8.7zM1442.0 3433.9h8.7v6h-8.7zM1441.9 3453.3h8.7v6h-8.7zM1443.5 3471.1h8.7v6h-8.7zM1443.4 3488.3h8.7v6h-8.7zM1445.2 3506.3h8.7v6h-8.7zM1445.6 3522.8h8.7v6h-8.7zM1445.2 3540.1h8.7v6h-8.7zM1446.8 3556.9h8.7v6h-8.7zM1445.8 3574.2h8.7v6h-8.7zM1448.3 3591.6h8.7v6h-8.7zM1448.5 3609.5h8.7v6h-8.7zM1449.1 3626.7h8.7v6h-8.7zM1449.2 3643.9h8.7v6h-8.7zM1451.1 3661.8h8.7v6h-8.7zM1451.7 3677.9h8.7v6h-8.7zM1456.1 3689.5h6v8.7h-6zM1457.8 3685.3h8.7v6h-8.7zM1459.6 3675.8h8.7v6h-8.7zM1459.7 3662.6h8.7v6h-8.7zM1460.6 3645.8h8.7v6h-8.7zM1462.0 3629.9h8.7v6h-8.7zM1463.2 3612.6h8.7v6h-8.7zM1464.1 3596.5h8.7v6h-8.7zM1465.0 3579.0h8.7v6h-8.7zM1464.1 3560.7h8.7v6h-8.7zM1465.9 3541.2h8.7v6h-8.7zM1465.7 3522.0h8.7v6h-8.7zM1467.2 3503.3h8.7v6h-8.7zM1467.1 3485.1h8.7v6h-8.7zM1468.8 3466.7h8.7v6h-8.7zM1468.0 3447.0h8.7v6h-8.7zM1469.1 3430.8h8.7v6h-8.7zM1469.7 3411.0h8.7v6h-8.7zM1469.5 3392.7h8.7v6h-8.7zM1470.4 3375.5h8.7v6h-8.7zM1470.3 3356.2h8.7v6h-8.7zM1471.1 3338.6h8.7v6h-8.7zM1472.7 3317.4h8.7v6h-8.7zM1471.2 3300.3h8.7v6h-8.7zM1473.0 3279.3h8.7v6h-8.7zM1472.4 3263.0h8.7v6h-8.7zM1473.6 3244.1h8.7v6h-8.7zM1474.4 3225.9h8.7v6h-8.7zM1474.5 3206.9h8.7v6h-8.7zM1475.0 3188.7h8.7v6h-8.7zM1475.9 3170.4h8.7v6h-8.7zM1476.7 3153.6h8.7v6h-8.7zM1476.0 3133.9h8.7v6h-8.7zM1477.6 3115.1h8.7v6h-8.7zM1476.3 3096.1h8.7v6h-8.7zM1477.9 3078.6h8.7v6h-8.7zM1478.7 3059.9h8.7v6h-8.7zM1479.0 3041.6h8.7v6h-8.7zM1479.0 3022.2h8.7v6h-8.7zM1478.3 3005.1h8.7v6h-8.7zM1480.3 2986.4h8.7v6h-8.7zM1480.0 2967.9h8.7v6h-8.7zM1481.1 2951.0h8.7v6h-8.7zM1481.5 2933.4h8.7v6h-8.7zM1480.6 2913.7h8.7v6h-8.7zM1481.9 2896.0h8.7v6h-8.7zM1482.7 2877.8h8.7v6h-8.7zM1483.5 2859.3h8.7v6h-8.7zM1484.9 2841.2h8.7v6h-8.7zM1484.1 2823.6h8.7v6h-8.7zM1484.5 2805.5h8.7v6h-8.7zM1486.0 2787.8h8.7v6h-8.7zM1486.0 2771.4h8.7v6h-8.7zM1486.8 2751.9h8.7v6h-8.7zM1486.7 2734.4h8.7v6h-8.7zM1486.8 2714.7h8.7v6h-8.7zM1489.0 2699.1h8.7v6h-8.7zM1489.4 2679.7h8.7v6h-8.7zM1490.4 2664.7h8.7v6h-8.7zM1491.3 2646.0h8.7v6h-8.7zM1492.6 2627.0h8.7v6h-8.7zM1493.6 2611.7h8.7v6h-8.7zM1499.2 2604.9h8.7v6h-8.7zM1498.4 2608.1h8.7v6h-8.7zM1499.7 2615.7h8.7v6h-8.7zM1500.6 2628.0h8.7v6h-8.7zM1502.2 2644.3h8.7v6h-8.7zM1503.5 2660.6h8.7v6h-8.7zM1503.9 2676.4h8.7v6h-8.7zM1503.6 2693.5h8.7v6h-8.7zM1505.4 2712.4h8.7v6h-8.7zM1506.3 2731.7h8.7v6h-8.7zM1506.9 2747.8h8.7v6h-8.7zM1506.2 2765.8h8.7v6h-8.7zM1507.3 2783.7h8.7v6h-8.7zM1508.5 2802.2h8.7v6h-8.7zM1509.9 2822.5h8.7v6h-8.7zM1509.3 2839.1h8.7v6h-8.7zM1509.3 2856.8h8.7v6h-8.7zM1510.7 2875.7h8.7v6h-8.7zM1510.6 2895.7h8.7v6h-8.7zM1511.2 2914.2h8.7v6h-8.7zM1511.4 2930.6h8.7v6h-8.7zM1512.8 2947.7h8.7v6h-8.7zM1513.1 2966.9h8.7v6h-8.7zM1513.2 2983.0h8.7v6h-8.7zM1512.9 3001.9h8.7v6h-8.7zM1513.3 3021.8h8.7v6h-8.7zM1514.0 3039.1h8.7v6h-8.7zM1514.7 3058.6h8.7v6h-8.7zM1514.4 3076.1h8.7v6h-8.7zM1516.3 3094.5h8.7v6h-8.7zM1516.8 3111.1h8.7v6h-8.7zM1516.4 3130.4h8.7v6h-8.7zM1517.2 3148.7h8.7v6h-8.7zM1517.4 3165.7h8.7v6h-8.7zM1518.2 3185.9h8.7v6h-8.7zM1518.8 3205.1h8.7v6h-8.7zM1519.1 3224.7h8.7v6h-8.7zM1519.8 3243.7h8.7v6h-8.7zM1519.6 3263.4h8.7v6h-8.7zM1520.0 3282.2h8.7v6h-8.7zM1521.2 3299.2h8.7v6h-8.7zM1521.8 3316.2h8.7v6h-8.7zM1522.4 3335.2h8.7v6h-8.7zM1521.5 3355.3h8.7v6h-8.7zM1523.6 3374.5h8.7v6h-8.7zM1522.7 3391.3h8.7v6h-8.7zM1523.5 3409.8h8.7v6h-8.7zM1524.7 3428.4h8.7v6h-8.7zM1525.5 3446.5h8.7v6h-8.7zM1525.0 3465.6h8.7v6h-8.7zM1525.8 3485.3h8.7v6h-8.7zM1526.2 3506.0h8.7v6h-8.7zM1527.2 3523.2h8.7v6h-8.7zM1527.8 3544.0h8.7v6h-8.7zM1528.7 3560.9h8.7v6h-8.7zM1528.7 3577.9h8.7v6h-8.7zM1529.1 3596.1h8.7v6h-8.7zM1530.7 3613.4h8.7v6h-8.7zM1532.4 3631.0h8.7v6h-8.7zM1532.1 3648.1h8.7v6h-8.7zM1534.5 3664.7h8.7v6h-8.7zM1535.3 3682.9h8.7v6h-8.7zM1539.3 3689.4h8.7v6h-8.7zM1539.6 3686.2h8.7v6h-8.7zM1542.2 3677.9h8.7v6h-8.7zM1541.6 3665.2h8.7v6h-8.7zM1541.9 3649.0h8.7v6h-8.7zM1543.6 3634.1h8.7v6h-8.7zM1544.3 3618.3h8.7v6h-8.7zM1545.7 3602.3h8.7v6h-8.7zM1545.0 3585.7h8.7v6h-8.7zM1547.2 3566.7h8.7v6h-8.7zM1547.4 3548.3h8.7v6h-8.7zM1547.7 3529.9h8.7v6h-8.7zM1549.2 3510.0h8.7v6h-8.7zM1549.7 3490.5h8.7v6h-8.7zM1550.2 3471.4h8.7v6h-8.7zM1550.9 3454.5h8.7v6h-8.7zM1551.0 3434.6h8.7v6h-8.7zM1551.1 3418.4h8.7v6h-8.7zM1551.5 3401.4h8.7v6h-8.7zM1552.5 3383.2h8.7v6h-8.7zM1552.5 3364.1h8.7v6h-8.7zM1552.8 3346.4h8.7v6h-8.7zM1553.3 3329.6h8.7v6h-8.7zM1553.0 3308.9h8.7v6h-8.7zM1554.6 3289.8h8.7v6h-8.7zM1554.8 3272.5h8.7v6h-8.7zM1555.5 3254.3h8.7v6h-8.7zM1556.5 3235.2h8.7v6h-8.7zM1555.5 3216.2h8.7v6h-8.7zM1557.1 3196.6h8.7v6h-8.7zM1557.5 3178.9h8.7v6h-8.7zM1557.6 3161.0h8.7v6h-8.7zM1557.8 3143.1h8.7v6h-8.7zM1559.3 3125.4h8.7v6h-8.7zM1557.6 3108.1h8.7v6h-8.7zM1558.4 3088.7h8.7v6h-8.7zM1560.6 3070.0h8.7v6h-8.7zM1560.8 3051.9h8.7v6h-8.7zM1561.1 3033.4h8.7v6h-8.7zM1561.5 3016.6h8.7v6h-8.7zM1560.3 2999.7h8.7v6h-8.7zM1562.6 2980.9h8.7v6h-8.7zM1562.7 2963.7h8.7v6h-8.7zM1563.3 2944.5h8.7v6h-8.7zM1563.8 2926.8h8.7v6h-8.7zM1563.9 2907.5h8.7v6h-8.7zM1565.8 2886.7h8.7v6h-8.7zM1565.8 2867.4h8.7v6h-8.7zM1565.9 2851.1h8.7v6h-8.7zM1565.8 2830.6h8.7v6h-8.7zM1566.8 2813.9h8.7v6h-8.7zM1567.5 2795.5h8.7v6h-8.7zM1568.4 2777.8h8.7v6h-8.7zM1568.8 2759.2h8.7v6h-8.7zM1569.5 2743.1h8.7v6h-8.7zM1569.8 2726.6h8.7v6h-8.7zM1570.6 2707.8h8.7v6h-8.7zM1571.5 2688.2h8.7v6h-8.7zM1572.6 2671.0h8.7v6h-8.7zM1574.0 2654.2h8.7v6h-8.7zM1574.2 2637.2h8.7v6h-8.7zM1574.5 2622.1h8.7v6h-8.7zM1577.0 2608.6h8.7v6h-8.7zM1580.9 2608.5h8.7v6h-8.7zM1582.1 2615.8h8.7v6h-8.7zM1582.9 2628.3h8.7v6h-8.7zM1583.1 2643.7h8.7v6h-8.7zM1585.3 2661.0h8.7v6h-8.7zM1586.5 2677.5h8.7v6h-8.7zM1587.3 2695.9h8.7v6h-8.7zM1586.7 2712.5h8.7v6h-8.7zM1588.8 2729.6h8.7v6h-8.7zM1589.1 2746.5h8.7v6h-8.7zM1588.8 2764.7h8.7v6h-8.7zM1589.5 2781.8h8.7v6h-8.7zM1590.3 2799.2h8.7v6h-8.7zM1591.6 2817.8h8.7v6h-8.7zM1591.1 2834.5h8.7v6h-8.7zM1591.8 2852.2h8.7v6h-8.7zM1592.8 2871.9h8.7v6h-8.7zM1593.3 2890.7h8.7v6h-8.7zM1592.7 2908.0h8.7v6h-8.7zM1593.9 2925.3h8.7v6h-8.7zM1594.8 2944.7h8.7v6h-8.7zM1595.3 2963.6h8.7v6h-8.7zM1595.7 2980.3h8.7v6h-8.7zM1595.0 2999.2h8.7v6h-8.7zM1595.8 3018.0h8.7v6h-8.7zM1596.1 3036.8h8.7v6h-8.7zM1596.5 3054.2h8.7v6h-8.7zM1598.3 3074.0h8.7v6h-8.7zM1598.5 3093.9h8.7v6h-8.7zM1597.4 3113.7h8.7v6h-8.7zM1599.5 3131.9h8.7v6h-8.7zM1600.3 3151.0h8.7v6h-8.7zM1599.7 3168.5h8.7v6h-8.7zM1599.5 3186.0h8.7v6h-8.7zM1601.0 3205.1h8.7v6h-8.7zM1600.6 3225.0h8.7v6h-8.7zM1601.2 3242.7h8.7v6h-8.7zM1601.6 3261.0h8.7v6h-8.7zM1602.2 3278.0h8.7v6h-8.7zM1602.4 3298.1h8.7v6h-8.7zM1601.9 3317.9h8.7v6h-8.7zM1604.0 3335.3h8.7v6h-8.7zM1603.8 3355.0h8.7v6h-8.7zM1604.8 3372.8h8.7v6h-8.7zM1604.4 3391.3h8.7v6h-8.7zM1604.6 3408.5h8.7v6h-8.7zM1605.7 3425.7h8.7v6h-8.7zM1606.6 3445.0h8.7v6h-8.7zM1608.1 3464.0h8.7v6h-8.7zM1607.2 3482.8h8.7v6h-8.7zM1607.6 3498.4h8.7v6h-8.7zM1608.8 3515.8h8.7v6h-8.7zM1610.3 3534.6h8.7v6h-8.7zM1610.8 3551.1h8.7v6h-8.7zM1611.3 3568.2h8.7v6h-8.7zM1611.3 3585.6h8.7v6h-8.7zM1612.5 3604.5h8.7v6h-8.7zM1612.9 3620.7h8.7v6h-8.7zM1613.7 3636.3h8.7v6h-8.7zM1614.7 3654.4h8.7v6h-8.7zM1616.6 3669.8h8.7v6h-8.7zM1619.1 3686.3h8.7v6h-8.7zM1620.7 3686.0h8.7v6h-8.7zM1623.0 3677.8h8.7v6h-8.7zM1625.1 3665.2h8.7v6h-8.7zM1625.0 3650.4h8.7v6h-8.7zM1625.4 3634.0h8.7v6h-8.7zM1627.4 3616.3h8.7v6h-8.7zM1627.7 3601.1h8.7v6h-8.7zM1628.5 3582.7h8.7v6h-8.7zM1629.0 3565.3h8.7v6h-8.7zM1630.2 3546.8h8.7v6h-8.7zM1631.2 3529.3h8.7v6h-8.7zM1631.0 3510.6h8.7v6h-8.7zM1632.3 3494.0h8.7v6h-8.7zM1631.3 3474.9h8.7v6h-8.7zM1632.4 3454.4h8.7v6h-8.7zM1632.2 3438.3h8.7v6h-8.7zM1633.7 3419.0h8.7v6h-8.7zM1634.1 3400.3h8.7v6h-8.7zM1634.6 3381.0h8.7v6h-8.7zM1635.0 3364.3h8.7v6h-8.7zM1634.5 3346.3h8.7v6h-8.7zM1636.7 3326.7h8.7v6h-8.7zM1637.6 3307.9h8.7v6h-8.7zM1636.2 3289.5h8.7v6h-8.7zM1636.8 3271.7h8.7v6h-8.7zM1637.8 3251.2h8.7v6h-8.7zM1638.4 3232.3h8.7v6h-8.7zM1638.8 3211.2h8.7v6h-8.7zM1639.3 3195.1h8.7v6h-8.7zM1639.5 3175.4h8.7v6h-8.7zM1640.2 3154.8h8.7v6h-8.7zM1640.8 3136.1h8.7v6h-8.7zM1640.9 3116.3h8.7v6h-8.7zM1641.8 3095.7h8.7v6h-8.7zM1642.0 3076.1h8.7v6h-8.7zM1642.7 3058.4h8.7v6h-8.7zM1643.2 3040.3h8.7v6h-8.7zM1642.9 3021.5h8.7v6h-8.7zM1643.5 3002.2h8.7v6h-8.7zM1644.0 2984.0h8.7v6h-8.7zM1644.1 2965.0h8.7v6h-8.7zM1645.7 2946.6h8.7v6h-8.7zM1645.7 2927.6h8.7v6h-8.7zM1647.0 2906.9h8.7v6h-8.7zM1646.8 2888.1h8.7v6h-8.7zM1647.0 2870.5h8.7v6h-8.7zM1647.0 2852.2h8.7v6h-8.7zM1648.2 2832.5h8.7v6h-8.7zM1649.1 2815.0h8.7v6h-8.7zM1648.3 2797.6h8.7v6h-8.7zM1649.5 2780.4h8.7v6h-8.7zM1649.8 2761.3h8.7v6h-8.7zM1650.5 2743.3h8.7v6h-8.7zM1651.3 2724.4h8.7v6h-8.7zM1652.5 2709.3h8.7v6h-8.7zM1652.9 2687.5h8.7v6h-8.7zM1654.4 2670.6h8.7v6h-8.7zM1654.6 2652.6h8.7v6h-8.7zM1656.2 2635.0h8.7v6h-8.7zM1657.6 2619.4h8.7v6h-8.7zM1660.1 2605.5h8.7v6h-8.7zM1662.4 2608.2h8.7v6h-8.7zM1663.0 2617.3h8.7v6h-8.7zM1664.8 2631.3h8.7v6h-8.7zM1665.6 2646.3h8.7v6h-8.7zM1666.4 2660.6h8.7v6h-8.7zM1667.2 2678.8h8.7v6h-8.7zM1669.1 2696.2h8.7v6h-8.7zM1669.8 2713.2h8.7v6h-8.7zM1669.7 2732.1h8.7v6h-8.7zM1671.6 2751.0h8.7v6h-8.7zM1671.4 2767.7h8.7v6h-8.7zM1672.0 2788.3h8.7v6h-8.7zM1673.4 2806.1h8.7v6h-8.7zM1672.6 2824.3h8.7v6h-8.7zM1673.2 2843.7h8.7v6h-8.7zM1673.6 2861.9h8.7v6h-8.7zM1674.6 2879.1h8.7v6h-8.7zM1674.6 2896.0h8.7v6h-8.7zM1674.7 2916.2h8.7v6h-8.7zM1676.5 2933.0h8.7v6h-8.7zM1676.2 2953.4h8.7v6h-8.7zM1676.5 2971.4h8.7v6h-8.7zM1677.8 2991.1h8.7v6h-8.7zM1677.8 3010.2h8.7v6h-8.7zM1678.4 3026.6h8.7v6h-8.7zM1678.8 3045.0h8.7v6h-8.7zM1678.5 3063.6h8.7v6h-8.7zM1679.1 3080.5h8.7v6h-8.7zM1679.0 3100.6h8.7v6h-8.7zM1680.9 3119.5h8.7v6h-8.7zM1680.2 3139.5h8.7v6h-8.7zM1682.0 3156.8h8.7v6h-8.7zM1681.1 3176.0h8.7v6h-8.7zM1682.3 3193.5h8.7v6h-8.7zM1682.8 3212.2h8.7v6h-8.7zM1683.2 3231.2h8.7v6h-8.7zM1683.6 3249.1h8.7v6h-8.7zM1684.8 3265.9h8.7v6h-8.7zM1684.5 3284.7h8.7v6h-8.7zM1685.2 3304.1h8.7v6h-8.7zM1683.8 3324.8h8.7v6h-8.7zM1685.7 3343.5h8.7v6h-8.7zM1685.7 3363.3h8.7v6h-8.7zM1686.3 3383.1h8.7v6h-8.7zM1687.7 3401.4h8.7v6h-8.7zM1688.3 3418.8h8.7v6h-8.7zM1689.0 3438.7h8.7v6h-8.7zM1689.4 3458.2h8.7v6h-8.7zM1689.5 3477.5h8.7v6h-8.7zM1690.8 3495.6h8.7v6h-8.7zM1692.0 3516.3h8.7v6h-8.7zM1690.7 3532.3h8.7v6h-8.7zM1691.8 3551.3h8.7v6h-8.7zM1693.3 3568.1h8.7v6h-8.7zM1693.4 3585.5h8.7v6h-8.7zM1694.6 3602.9h8.7v6h-8.7zM1695.1 3621.0h8.7v6h-8.7zM1695.5 3636.5h8.7v6h-8.7zM1696.3 3653.7h8.7v6h-8.7zM1698.3 3668.5h8.7v6h-8.7zM1699.3 3683.5h8.7v6h-8.7zM1704.0 3687.5h8.7v6h-8.7zM1704.9 3682.1h8.7v6h-8.7zM1705.4 3671.1h8.7v6h-8.7zM1706.9 3658.2h8.7v6h-8.7zM1707.2 3643.0h8.7v6h-8.7zM1707.9 3623.6h8.7v6h-8.7zM1707.8 3608.0h8.7v6h-8.7zM1710.8 3589.2h8.7v6h-8.7zM1710.4 3571.1h8.7v6h-8.7zM1710.4 3553.1h8.7v6h-8.7zM1712.1 3536.0h8.7v6h-8.7zM1711.9 3518.4h8.7v6h-8.7zM1713.4 3499.2h8.7v6h-8.7zM1713.6 3482.1h8.7v6h-8.7zM1712.5 3464.8h8.7v6h-8.7zM1715.7 3444.2h8.7v6h-8.7zM1716.0 3426.4h8.7v6h-8.7zM1716.1 3407.6h8.7v6h-8.7zM1715.6 3387.5h8.7v6h-8.7zM1718.2 3370.0h8.7v6h-8.7zM1717.0 3354.5h8.7v6h-8.7zM1717.9 3335.0h8.7v6h-8.7zM1717.0 3314.8h8.7v6h-8.7zM1717.9 3294.5h8.7v6h-8.7zM1719.4 3276.4h8.7v6h-8.7zM1719.2 3257.9h8.7v6h-8.7zM1720.3 3239.1h8.7v6h-8.7zM1719.9 3222.0h8.7v6h-8.7zM1721.5 3203.4h8.7v6h-8.7zM1720.8 3184.3h8.7v6h-8.7zM1722.2 3167.6h8.7v6h-8.7zM1721.9 3148.2h8.7v6h-8.7zM1722.5 3128.1h8.7v6h-8.7zM1723.2 3108.1h8.7v6h-8.7zM1724.6 3088.1h8.7v6h-8.7zM1724.7 3069.1h8.7v6h-8.7zM1724.6 3051.3h8.7v6h-8.7zM1725.1 3033.2h8.7v6h-8.7zM1725.3 3017.6h8.7v6h-8.7zM1726.4 2998.1h8.7v6h-8.7zM1725.7 2980.9h8.7v6h-8.7zM1727.9 2960.9h8.7v6h-8.7zM1727.3 2941.5h8.7v6h-8.7zM1728.0 2923.9h8.7v6h-8.7zM1728.4 2906.3h8.7v6h-8.7zM1729.4 2886.2h8.7v6h-8.7zM1729.8 2869.7h8.7v6h-8.7zM1730.3 2850.5h8.7v6h-8.7zM1729.0 2831.5h8.7v6h-8.7zM1732.1 2811.8h8.7v6h-8.7zM1731.8 2794.3h8.7v6h-8.7zM1733.9 2774.2h8.7v6h-8.7zM1732.5 2757.3h8.7v6h-8.7zM1733.5 2738.6h8.7v6h-8.7zM1734.1 2722.6h8.7v6h-8.7zM1734.2 2703.6h8.7v6h-8.7zM1735.6 2685.5h8.7v6h-8.7zM1736.5 2671.2h8.7v6h-8.7zM1738.3 2650.8h8.7v6h-8.7zM1737.5 2634.9h8.7v6h-8.7zM1739.9 2616.9h8.7v6h-8.7zM1741.3 2604.9h8.7v6h-8.7zM1744.9 2609.1h8.7v6h-8.7zM1745.9 2618.0h8.7v6h-8.7zM1746.7 2629.8h8.7v6h-8.7zM1747.5 2645.3h8.7v6h-8.7zM1748.8 2662.5h8.7v6h-8.7zM1749.7 2681.4h8.7v6h-8.7zM1750.8 2698.4h8.7v6h-8.7zM1751.2 2716.4h8.7v6h-8.7zM1752.8 2735.1h8.7v6h-8.7zM1752.8 2752.2h8.7v6h-8.7zM1752.8 2773.6h8.7v6h-8.7zM1753.5 2791.7h8.7v6h-8.7zM1755.2 2810.0h8.7v6h-8.7zM1755.8 2830.3h8.7v6h-8.7zM1755.4 2848.0h8.7v6h-8.7zM1757.1 2867.7h8.7v6h-8.7zM1756.1 2886.6h8.7v6h-8.7zM1756.5 2904.3h8.7v6h-8.7zM1757.7 2921.2h8.7v6h-8.7zM1757.6 2938.0h8.7v6h-8.7zM1758.8 2956.8h8.7v6h-8.7zM1759.6 2977.4h8.7v6h-8.7zM1760.0 2996.2h8.7v6h-8.7zM1760.5 3016.2h8.7v6h-8.7zM1761.1 3035.7h8.7v6h-8.7zM1761.3 3053.8h8.7v6h-8.7zM1760.5 3072.6h8.7v6h-8.7zM1762.5 3089.7h8.7v6h-8.7zM1761.5 3109.8h8.7v6h-8.7zM1763.1 3130.5h8.7v6h-8.7zM1763.2 3149.0h8.7v6h-8.7zM1763.8 3168.2h8.7v6h-8.7zM1764.3 3187.6h8.7v6h-8.7zM1764.4 3206.2h8.7v6h-8.7zM1766.2 3224.6h8.7v6h-8.7zM1765.1 3244.3h8.7v6h-8.7zM1767.9 3261.3h8.7v6h-8.7zM1766.5 3279.6h8.7v6h-8.7zM1766.9 3295.7h8.7v6h-8.7zM1766.8 3315.5h8.7v6h-8.7zM1766.9 3331.9h8.7v6h-8.7zM1768.8 3349.9h8.7v6h-8.7zM1769.5 3367.7h8.7v6h-8.7zM1768.9 3387.9h8.7v6h-8.7zM1769.1 3406.7h8.7v6h-8.7zM1770.2 3424.9h8.7v6h-8.7zM1770.8 3444.0h8.7v6h-8.7zM1771.7 3464.3h8.7v6h-8.7zM1772.6 3483.3h8.7v6h-8.7zM1772.3 3500.0h8.7v6h-8.7zM1772.4 3519.1h8.7v6h-8.7zM1773.7 3537.8h8.7v6h-8.7zM1774.5 3556.2h8.7v6h-8.7zM1775.8 3572.3h8.7v6h-8.7zM1775.4 3590.4h8.7v6h-8.7zM1776.6 3609.0h8.7v6h-8.7zM1778.0 3628.7h8.7v6h-8.7zM1778.7 3646.1h8.7v6h-8.7zM1778.9 3663.0h8.7v6h-8.7zM1780.6 3677.2h8.7v6h-8.7zM1784.3 3691.7h8.7v6h-8.7zM1785.5 3683.9h8.7v6h-8.7zM1786.3 3675.8h8.7v6h-8.7zM1786.6 3663.7h8.7v6h-8.7zM1789.7 3647.4h8.7v6h-8.7zM1790.7 3631.5h8.7v6h-8.7zM1790.2 3615.2h8.7v6h-8.7zM1791.9 3597.5h8.7v6h-8.7zM1791.5 3578.6h8.7v6h-8.7zM1793.8 3561.2h8.7v6h-8.7zM1795.4 3544.0h8.7v6h-8.7zM1794.6 3527.6h8.7v6h-8.7zM1794.7 3509.0h8.7v6h-8.7zM1795.0 3489.0h8.7v6h-8.7zM1795.3 3470.3h8.7v6h-8.7zM1796.6 3452.4h8.7v6h-8.7zM1796.3 3435.1h8.7v6h-8.7zM1797.5 3416.8h8.7v6h-8.7zM1799.1 3397.7h8.7v6h-8.7zM1798.9 3377.6h8.7v6h-8.7zM1799.6 3359.4h8.7v6h-8.7zM1799.0 3341.7h8.7v6h-8.7zM1800.3 3322.4h8.7v6h-8.7zM1800.6 3306.5h8.7v6h-8.7zM1800.6 3287.2h8.7v6h-8.7zM1801.5 3269.3h8.7v6h-8.7zM1800.8 3251.0h8.7v6h-8.7zM1802.9 3233.2h8.7v6h-8.7zM1802.4 3214.2h8.7v6h-8.7zM1803.6 3195.8h8.7v6h-8.7zM1803.6 3178.6h8.7v6h-8.7zM1804.1 3161.0h8.7v6h-8.7zM1804.9 3141.1h8.7v6h-8.7zM1806.4 3123.2h8.7v6h-8.7zM1805.0 3104.3h8.7v6h-8.7zM1805.7 3085.3h8.7v6h-8.7zM1805.8 3066.4h8.7v6h-8.7zM1807.4 3045.4h8.7v6h-8.7zM1807.6 3028.5h8.7v6h-8.7zM1808.2 3009.1h8.7v6h-8.7zM1809.4 2991.3h8.7v6h-8.7zM1809.8 2972.7h8.7v6h-8.7zM1809.9 2955.3h8.7v6h-8.7zM1810.5 2937.9h8.7v6h-8.7zM1809.4 2917.5h8.7v6h-8.7zM1810.1 2900.2h8.7v6h-8.7zM1811.2 2882.5h8.7v6h-8.7zM1812.1 2865.1h8.7v6h-8.7zM1811.4 2846.4h8.7v6h-8.7zM1813.9 2828.1h8.7v6h-8.7zM1812.8 2809.7h8.7v6h-8.7zM1813.8 2790.5h8.7v6h-8.7zM1814.2 2772.9h8.7v6h-8.7zM1815.5 2752.3h8.7v6h-8.7zM1814.6 2732.9h8.7v6h-8.7zM1816.5 2713.7h8.7v6h-8.7zM1816.6 2696.2h8.7v6h-8.7zM1817.8 2676.5h8.7v6h-8.7zM1819.1 2658.8h8.7v6h-8.7zM1820.1 2642.2h8.7v6h-8.7zM1821.1 2626.6h8.7v6h-8.7zM1821.9 2609.8h8.7v6h-8.7zM1826.1 2607.1h8.7v6h-8.7zM1828.0 2609.2h8.7v6h-8.7zM1827.9 2619.8h8.7v6h-8.7zM1829.4 2634.3h8.7v6h-8.7zM1830.1 2648.4h8.7v6h-8.7zM1831.6 2667.2h8.7v6h-8.7zM1831.2 2682.9h8.7v6h-8.7zM1832.6 2700.7h8.7v6h-8.7zM1833.8 2717.5h8.7v6h-8.7zM1834.7 2735.5h8.7v6h-8.7zM1835.0 2754.8h8.7v6h-8.7zM1835.4 2771.5h8.7v6h-8.7zM1836.7 2790.7h8.7v6h-8.7zM1837.6 2810.8h8.7v6h-8.7zM1837.0 2829.7h8.7v6h-8.7zM1838.1 2849.5h8.7v6h-8.7zM1837.5 2866.2h8.7v6h-8.7zM1839.0 2885.3h8.7v6h-8.7zM1839.3 2905.5h8.7v6h-8.7zM1839.7 2922.5h8.7v6h-8.7zM1841.0 2940.6h8.7v6h-8.7zM1840.7 2959.1h8.7v6h-8.7zM1841.5 2977.2h8.7v6h-8.7zM1841.2 2995.4h8.7v6h-8.7zM1843.1 3013.7h8.7v6h-8.7zM1842.7 3033.5h8.7v6h-8.7zM1843.6 3049.6h8.7v6h-8.7zM1844.5 3068.7h8.7v6h-8.7zM1843.8 3087.6h8.7v6h-8.7zM1845.1 3106.3h8.7v6h-8.7zM1845.3 3126.0h8.7v6h-8.7zM1845.5 3145.3h8.7v6h-8.7zM1846.7 3164.7h8.7v6h-8.7zM1845.9 3182.8h8.7v6h-8.7zM1847.9 3199.9h8.7v6h-8.7zM1847.4 3219.2h8.7v6h-8.7zM1848.1 3235.9h8.7v6h-8.7zM1848.0 3256.2h8.7v6h-8.7zM1848.9 3273.5h8.7v6h-8.7zM1849.4 3292.4h8.7v6h-8.7zM1850.3 3311.0h8.7v6h-8.7zM1849.9 3329.7h8.7v6h-8.7zM1849.5 3345.8h8.7v6h-8.7zM1851.1 3366.0h8.7v6h-8.7zM1851.1 3385.6h8.7v6h-8.7zM1851.0 3402.0h8.7v6h-8.7zM1853.3 3421.2h8.7v6h-8.7zM1853.1 3440.2h8.7v6h-8.7zM1853.8 3457.7h8.7v6h-8.7zM1854.1 3476.3h8.7v6h-8.7zM1854.6 3493.2h8.7v6h-8.7zM1854.6 3513.6h8.7v6h-8.7zM1856.2 3530.0h8.7v6h-8.7zM1855.2 3546.4h8.7v6h-8.7zM1858.0 3564.3h8.7v6h-8.7zM1858.2 3579.9h8.7v6h-8.7zM1857.4 3597.8h8.7v6h-8.7zM1858.1 3615.0h8.7v6h-8.7zM1859.1 3632.3h8.7v6h-8.7zM1860.5 3647.7h8.7v6h-8.7zM1862.2 3664.6h8.7v6h-8.7zM1863.2 3679.3h8.7v6h-8.7zM1866.3 3690.2h8.7v6h-8.7zM1866.8 3684.8h8.7v6h-8.7zM1869.2 3676.8h8.7v6h-8.7zM1870.5 3661.2h8.7v6h-8.7zM1870.9 3646.5h8.7v6h-8.7zM1872.1 3631.8h8.7v6h-8.7zM1872.9 3614.8h8.7v6h-8.7zM1874.3 3598.8h8.7v6h-8.7zM1873.8 3580.4h8.7v6h-8.7zM1874.5 3562.7h8.7v6h-8.7zM1875.9 3544.2h8.7v6h-8.7zM1876.3 3525.4h8.7v6h-8.7zM1876.8 3507.7h8.7v6h-8.7zM1877.7 3490.1h8.7v6h-8.7zM1878.6 3474.2h8.7v6h-8.7zM1879.5 3456.5h8.7v6h-8.7zM1878.8 3435.9h8.7v6h-8.7zM1879.8 3415.2h8.7v6h-8.7zM1881.2 3396.5h8.7v6h-8.7zM1880.9 3377.8h8.7v6h-8.7zM1881.3 3359.8h8.7v6h-8.7zM1882.0 3340.5h8.7v6h-8.7zM1881.8 3321.8h8.7v6h-8.7zM1882.6 3303.7h8.7v6h-8.7zM1883.7 3282.4h8.7v6h-8.7zM1883.7 3267.5h8.7v6h-8.7zM1885.1 3248.4h8.7v6h-8.7zM1884.0 3229.7h8.7v6h-8.7zM1886.0 3209.4h8.7v6h-8.7zM1884.9 3192.1h8.7v6h-8.7zM1885.6 3173.0h8.7v6h-8.7zM1884.9 3153.6h8.7v6h-8.7zM1886.3 3137.0h8.7v6h-8.7zM1886.8 3118.9h8.7v6h-8.7zM1888.4 3101.8h8.7v6h-8.7zM1888.6 3079.4h8.7v6h-8.7zM1889.1 3062.0h8.7v6h-8.7zM1889.1 3045.0h8.7v6h-8.7zM1889.8 3026.2h8.7v6h-8.7zM1889.2 3007.2h8.7v6h-8.7zM1890.7 2990.5h8.7v6h-8.7zM1891.1 2969.8h8.7v6h-8.7zM1890.9 2952.4h8.7v6h-8.7zM1890.9 2933.8h8.7v6h-8.7zM1891.8 2915.9h8.7v6h-8.7zM1892.2 2896.7h8.7v6h-8.7zM1893.0 2877.7h8.7v6h-8.7zM1893.4 2859.8h8.7v6h-8.7zM1894.2 2840.7h8.7v6h-8.7zM1894.9 2824.2h8.7v6h-8.7zM1894.9 2806.1h8.7v6h-8.7zM1895.4 2788.3h8.7v6h-8.7zM1895.9 2771.5h8.7v6h-8.7zM1897.2 2750.9h8.7v6h-8.7zM1897.2 2735.0h8.7v6h-8.7zM1898.6 2717.0h8.7v6h-8.7zM1898.4 2698.8h8.7v6h-8.7zM1899.9 2682.6h8.7v6h-8.7zM1900.7 2663.7h8.7v6h-8.7zM1901.4 2647.6h8.7v6h-8.7zM1902.1 2629.7h8.7v6h-8.7zM1903.6 2615.0h8.7v6h-8.7zM1906.5 2603.6h8.7v6h-8.7zM1909.6 2608.9h8.7v6h-8.7zM1909.7 2618.9h8.7v6h-8.7zM1911.0 2631.9h8.7v6h-8.7zM1912.2 2647.7h8.7v6h-8.7zM1914.1 2665.0h8.7v6h-8.7zM1913.3 2684.3h8.7v6h-8.7zM1914.3 2702.7h8.7v6h-8.7zM1915.9 2720.9h8.7v6h-8.7zM1916.2 2738.6h8.7v6h-8.7zM1916.4 2758.6h8.7v6h-8.7zM1917.7 2776.7h8.7v6h-8.7zM1917.6 2794.1h8.7v6h-8.7zM1918.8 2813.2h8.7v6h-8.7zM1919.9 2831.6h8.7v6h-8.7zM1920.8 2850.6h8.7v6h-8.7zM1921.3 2868.0h8.7v6h-8.7zM1921.3 2887.0h8.7v6h-8.7zM1920.4 2904.4h8.7v6h-8.7zM1922.2 2924.0h8.7v6h-8.7zM1922.5 2942.2h8.7v6h-8.7zM1922.6 2958.3h8.7v6h-8.7zM1923.7 2977.0h8.7v6h-8.7zM1923.0 2997.3h8.7v6h-8.7zM1924.9 3014.3h8.7v6h-8.7zM1924.3 3034.4h8.7v6h-8.7zM1925.5 3051.8h8.7v6h-8.7zM1925.5 3068.1h8.7v6h-8.7zM1925.6 3088.0h8.7v6h-8.7zM1927.0 3105.8h8.7v6h-8.7zM1926.6 3126.4h8.7v6h-8.7zM1927.2 3142.8h8.7v6h-8.7zM1927.4 3161.9h8.7v6h-8.7zM1929.2 3182.5h8.7v6h-8.7zM1928.2 3199.3h8.7v6h-8.7zM1928.9 3219.5h8.7v6h-8.7zM1929.2 3239.2h8.7v6h-8.7zM1929.3 3257.3h8.7v6h-8.7zM1931.2 3273.0h8.7v6h-8.7zM1931.0 3294.1h8.7v6h-8.7zM1931.7 3311.5h8.7v6h-8.7zM1931.9 3329.8h8.7v6h-8.7zM1932.4 3347.3h8.7v6h-8.7zM1933.8 3367.4h8.7v6h-8.7zM1933.9 3384.3h8.7v6h-8.7zM1933.6 3403.9h8.7v6h-8.7zM1933.8 3422.8h8.7v6h-8.7zM1934.1 3441.1h8.7v6h-8.7zM1936.1 3458.1h8.7v6h-8.7zM1935.7 3476.2h8.7v6h-8.7zM1936.6 3497.8h8.7v6h-8.7zM1937.5 3515.0h8.7v6h-8.7zM1938.9 3533.2h8.7v6h-8.7zM1938.6 3550.4h8.7v6h-8.7zM1939.4 3570.3h8.7v6h-8.7zM1940.0 3585.2h8.7v6h-8.7zM1940.6 3604.8h8.7v6h-8.7zM1942.0 3621.4h8.7v6h-8.7zM1942.4 3638.9h8.7v6h-8.7zM1943.7 3656.7h8.7v6h-8.7zM1944.3 3673.4h8.7v6h-8.7zM1945.9 3688.5h8.7v6h-8.7zM1950.8 3685.2h8.7v6h-8.7zM1951.1 3678.0h8.7v6h-8.7zM1952.0 3663.1h8.7v6h-8.7zM1952.8 3648.0h8.7v6h-8.7zM1954.3 3631.2h8.7v6h-8.7zM1954.8 3612.4h8.7v6h-8.7zM1956.4 3594.7h8.7v6h-8.7zM1956.3 3575.8h8.7v6h-8.7zM1956.7 3558.0h8.7v6h-8.7zM1957.7 3539.0h8.7v6h-8.7zM1958.2 3522.7h8.7v6h-8.7zM1957.6 3504.7h8.7v6h-8.7zM1959.6 3484.0h8.7v6h-8.7zM1960.2 3465.8h8.7v6h-8.7zM1960.9 3447.4h8.7v6h-8.7zM1961.4 3428.0h8.7v6h-8.7zM1961.2 3407.7h8.7v6h-8.7zM1962.7 3389.8h8.7v6h-8.7zM1962.4 3370.2h8.7v6h-8.7zM1963.0 3352.6h8.7v6h-8.7zM1962.9 3334.2h8.7v6h-8.7zM1963.5 3316.6h8.7v6h-8.7zM1966.3 3297.8h8.7v6h-8.7zM1966.0 3278.2h8.7v6h-8.7zM1966.7 3260.4h8.7v6h-8.7zM1966.2 3242.4h8.7v6h-8.7zM1966.0 3221.1h8.7v6h-8.7zM1966.4 3204.0h8.7v6h-8.7zM1968.1 3183.4h8.7v6h-8.7zM1967.9 3165.7h8.7v6h-8.7zM1968.7 3146.1h8.7v6h-8.7zM1969.4 3127.0h8.7v6h-8.7zM1970.2 3109.4h8.7v6h-8.7zM1969.3 3089.6h8.7v6h-8.7zM1969.8 3071.1h8.7v6h-8.7zM1969.7 3052.0h8.7v6h-8.7zM1971.3 3032.5h8.7v6h-8.7zM1971.5 3014.3h8.7v6h-8.7zM1971.2 2994.5h8.7v6h-8.7zM1972.4 2975.9h8.7v6h-8.7zM1973.0 2957.2h8.7v6h-8.7zM1973.6 2936.8h8.7v6h-8.7zM1975.5 2920.0h8.7v6h-8.7zM1974.5 2903.3h8.7v6h-8.7zM1974.7 2883.1h8.7v6h-8.7zM1976.1 2863.3h8.7v6h-8.7zM1975.8 2847.3h8.7v6h-8.7zM1977.7 2827.2h8.7v6h-8.7zM1977.2 2809.1h8.7v6h-8.7zM1977.0 2789.5h8.7v6h-8.7zM1978.0 2769.8h8.7v6h-8.7zM1977.4 2751.3h8.7v6h-8.7zM1980.2 2734.4h8.7v6h-8.7zM1981.1 2715.8h8.7v6h-8.7zM1981.0 2699.7h8.7v6h-8.7zM1981.3 2681.0h8.7v6h-8.7zM1982.9 2663.7h8.7v6h-8.7zM1984.1 2646.1h8.7v6h-8.7zM1985.6 2629.4h8.7v6h-8.7zM1986.6 2612.4h8.7v6h-8.7zM1990.3 2603.4h8.7v6h-8.7zM1991.4 2608.5h8.7v6h-8.7zM1992.4 2614.9h8.7v6h-8.7zM1993.2 2627.7h8.7v6h-8.7zM1994.5 2641.5h8.7v6h-8.7zM1994.6 2658.0h8.7v6h-8.7zM1996.7 2675.9h8.7v6h-8.7zM1997.2 2694.6h8.7v6h-8.7zM1998.6 2713.1h8.7v6h-8.7zM1997.2 2731.6h8.7v6h-8.7zM1999.0 2749.8h8.7v6h-8.7zM1999.8 2767.0h8.7v6h-8.7zM1999.3 2785.6h8.7v6h-8.7zM2000.5 2803.3h8.7v6h-8.7zM2001.7 2819.2h8.7v6h-8.7zM2000.3 2839.0h8.7v6h-8.7zM2002.3 2856.3h8.7v6h-8.7zM2002.4 2877.2h8.7v6h-8.7zM2003.7 2893.8h8.7v6h-8.7zM2003.9 2913.3h8.7v6h-8.7zM2004.1 2930.9h8.7v6h-8.7zM2005.0 2951.5h8.7v6h-8.7zM2005.3 2967.8h8.7v6h-8.7zM2005.3 2986.3h8.7v6h-8.7zM2007.2 3003.8h8.7v6h-8.7zM2006.8 3021.1h8.7v6h-8.7zM2006.7 3040.3h8.7v6h-8.7zM2006.7 3058.9h8.7v6h-8.7zM2008.1 3077.3h8.7v6h-8.7zM2007.8 3095.2h8.7v6h-8.7zM2008.4 3115.3h8.7v6h-8.7zM2009.0 3133.9h8.7v6h-8.7zM2010.2 3152.9h8.7v6h-8.7zM2009.5 3171.8h8.7v6h-8.7zM2009.9 3192.2h8.7v6h-8.7zM2010.6 3212.2h8.7v6h-8.7zM2011.2 3231.4h8.7v6h-8.7zM2011.7 3248.4h8.7v6h-8.7zM2012.5 3267.0h8.7v6h-8.7zM2012.8 3286.7h8.7v6h-8.7zM2014.0 3304.5h8.7v6h-8.7zM2013.5 3321.3h8.7v6h-8.7zM2014.3 3338.1h8.7v6h-8.7zM2015.1 3358.4h8.7v6h-8.7zM2014.5 3377.0h8.7v6h-8.7zM2015.3 3394.9h8.7v6h-8.7zM2015.7 3412.4h8.7v6h-8.7zM2016.3 3430.4h8.7v6h-8.7zM2016.6 3450.0h8.7v6h-8.7zM2017.5 3468.6h8.7v6h-8.7zM2018.1 3486.4h8.7v6h-8.7zM2018.5 3504.2h8.7v6h-8.7zM2019.7 3522.6h8.7v6h-8.7zM2020.2 3540.9h8.7v6h-8.7zM2020.9 3559.2h8.7v6h-8.7zM2019.9 3577.7h8.7v6h-8.7zM2021.1 3593.8h8.7v6h-8.7zM2022.9 3612.4h8.7v6h-8.7zM2023.7 3631.8h8.7v6h-8.7zM2025.4 3649.5h8.7v6h-8.7zM2026.1 3665.2h8.7v6h-8.7zM2028.4 3680.2h8.7v6h-8.7zM2031.4 3689.6h8.7v6h-8.7zM2032.1 3686.2h8.7v6h-8.7zM2033.1 3678.0h8.7v6h-8.7zM2033.7 3664.7h8.7v6h-8.7zM2034.7 3649.0h8.7v6h-8.7zM2036.8 3632.3h8.7v6h-8.7zM2036.7 3616.3h8.7v6h-8.7zM2038.1 3597.4h8.7v6h-8.7zM2037.9 3580.8h8.7v6h-8.7zM2039.1 3562.2h8.7v6h-8.7zM2038.6 3543.7h8.7v6h-8.7zM2039.5 3525.3h8.7v6h-8.7zM2041.0 3509.5h8.7v6h-8.7zM2040.9 3490.6h8.7v6h-8.7zM2041.5 3470.7h8.7v6h-8.7zM2042.7 3451.4h8.7v6h-8.7zM2044.4 3432.9h8.7v6h-8.7zM2043.4 3416.6h8.7v6h-8.7zM2043.8 3397.7h8.7v6h-8.7zM2044.7 3377.7h8.7v6h-8.7zM2045.7 3359.3h8.7v6h-8.7zM2045.0 3340.1h8.7v6h-8.7zM2046.0 3321.3h8.7v6h-8.7zM2046.0 3302.7h8.7v6h-8.7zM2046.7 3284.1h8.7v6h-8.7zM2048.1 3266.2h8.7v6h-8.7zM2048.3 3247.1h8.7v6h-8.7zM2048.2 3227.9h8.7v6h-8.7zM2049.4 3209.3h8.7v6h-8.7zM2049.8 3192.1h8.7v6h-8.7zM2049.2 3175.0h8.7v6h-8.7zM2050.0 3156.3h8.7v6h-8.7zM2051.2 3138.5h8.7v6h-8.7zM2051.6 3119.9h8.7v6h-8.7zM2052.5 3101.4h8.7v6h-8.7zM2052.6 3082.9h8.7v6h-8.7zM2052.3 3064.6h8.7v6h-8.7zM2053.0 3045.3h8.7v6h-8.7zM2054.3 3026.2h8.7v6h-8.7zM2054.1 3007.3h8.7v6h-8.7zM2053.5 2987.7h8.7v6h-8.7zM2054.6 2968.7h8.7v6h-8.7zM2056.3 2949.6h8.7v6h-8.7zM2055.9 2932.0h8.7v6h-8.7zM2056.6 2913.6h8.7v6h-8.7zM2057.4 2897.5h8.7v6h-8.7zM2057.3 2877.9h8.7v6h-8.7zM2057.7 2861.4h8.7v6h-8.7zM2058.0 2844.5h8.7v6h-8.7zM2059.2 2827.4h8.7v6h-8.7zM2059.6 2809.1h8.7v6h-8.7zM2059.3 2790.3h8.7v6h-8.7zM2060.0 2772.3h8.7v6h-8.7zM2061.0 2753.5h8.7v6h-8.7zM2062.0 2736.2h8.7v6h-8.7zM2063.0 2719.6h8.7v6h-8.7zM2062.5 2702.9h8.7v6h-8.7zM2063.6 2682.8h8.7v6h-8.7zM2064.5 2666.0h8.7v6h-8.7zM2065.8 2649.8h8.7v6h-8.7zM2065.8 2632.7h8.7v6h-8.7zM2068.3 2618.0h8.7v6h-8.7zM2070.9 2603.1h8.7v6h-8.7zM2072.9 2609.9h8.7v6h-8.7zM2074.5 2619.3h8.7v6h-8.7zM2075.6 2632.8h8.7v6h-8.7zM2076.4 2648.4h8.7v6h-8.7zM2077.9 2663.1h8.7v6h-8.7zM2077.4 2679.4h8.7v6h-8.7zM2078.6 2698.4h8.7v6h-8.7zM2079.8 2715.9h8.7v6h-8.7zM2081.1 2734.6h8.7v6h-8.7zM2080.6 2753.5h8.7v6h-8.7zM2081.5 2771.8h8.7v6h-8.7zM2082.0 2789.6h8.7v6h-8.7zM2082.0 2807.7h8.7v6h-8.7zM2083.0 2825.3h8.7v6h-8.7zM2083.7 2843.8h8.7v6h-8.7zM2085.6 2864.1h8.7v6h-8.7zM2084.4 2881.8h8.7v6h-8.7zM2084.3 2900.5h8.7v6h-8.7zM2084.9 2919.9h8.7v6h-8.7zM2086.3 2936.1h8.7v6h-8.7zM2086.4 2953.6h8.7v6h-8.7zM2086.9 2973.5h8.7v6h-8.7zM2086.7 2990.3h8.7v6h-8.7zM2088.3 3008.7h8.7v6h-8.7zM2087.4 3026.9h8.7v6h-8.7zM2088.4 3045.2h8.7v6h-8.7zM2088.7 3065.2h8.7v6h-8.7zM2091.8 3085.0h8.7v6h-8.7zM2090.3 3101.1h8.7v6h-8.7zM2091.4 3121.3h8.7v6h-8.7zM2090.8 3140.9h8.7v6h-8.7zM2090.8 3157.6h8.7v6h-8.7zM2092.4 3176.3h8.7v6h-8.7zM2093.2 3196.3h8.7v6h-8.7zM2093.2 3215.0h8.7v6h-8.7zM2094.6 3234.3h8.7v6h-8.7zM2094.9 3253.0h8.7v6h-8.7zM2093.9 3271.3h8.7v6h-8.7zM2095.7 3289.0h8.7v6h-8.7zM2096.0 3308.9h8.7v6h-8.7zM2096.1 3326.4h8.7v6h-8.7zM2096.2 3345.3h8.7v6h-8.7zM2097.5 3363.4h8.7v6h-8.7zM2097.7 3382.7h8.7v6h-8.7zM2098.6 3398.5h8.7v6h-8.7zM2097.9 3418.5h8.7v6h-8.7zM2098.6 3435.5h8.7v6h-8.7zM2100.3 3453.8h8.7v6h-8.7zM2099.1 3471.9h8.7v6h-8.7zM2099.8 3489.5h8.7v6h-8.7zM2101.6 3507.8h8.7v6h-8.7zM2101.9 3525.4h8.7v6h-8.7zM2103.3 3542.9h8.7v6h-8.7zM2103.0 3560.7h8.7v6h-8.7zM2104.2 3580.0h8.7v6h-8.7zM2104.3 3598.6h8.7v6h-8.7zM2105.4 3616.0h8.7v6h-8.7zM2105.7 3631.4h8.7v6h-8.7zM2106.7 3648.0h8.7v6h-8.7zM2107.7 3663.6h8.7v6h-8.7zM2109.1 3678.4h8.7v6h-8.7zM2113.0 3690.8h8.7v6h-8.7zM2113.9 3686.1h8.7v6h-8.7zM2115.5 3675.7h8.7v6h-8.7zM2117.0 3663.5h8.7v6h-8.7zM2116.9 3647.7h8.7v6h-8.7zM2117.5 3631.2h8.7v6h-8.7zM2119.4 3615.3h8.7v6h-8.7zM2119.7 3595.9h8.7v6h-8.7zM2120.7 3578.5h8.7v6h-8.7zM2120.4 3560.3h8.7v6h-8.7zM2122.2 3543.1h8.7v6h-8.7zM2122.0 3524.0h8.7v6h-8.7zM2122.8 3504.8h8.7v6h-8.7zM2123.6 3483.9h8.7v6h-8.7zM2124.4 3465.8h8.7v6h-8.7zM2125.5 3446.7h8.7v6h-8.7zM2124.9 3428.2h8.7v6h-8.7zM2125.9 3408.8h8.7v6h-8.7zM2127.4 3390.5h8.7v6h-8.7zM2127.0 3371.4h8.7v6h-8.7zM2126.4 3352.3h8.7v6h-8.7zM2128.5 3333.6h8.7v6h-8.7zM2128.6 3314.8h8.7v6h-8.7zM2128.7 3295.4h8.7v6h-8.7zM2129.2 3275.6h8.7v6h-8.7zM2129.8 3256.9h8.7v6h-8.7zM2130.2 3239.6h8.7v6h-8.7zM2130.9 3220.4h8.7v6h-8.7zM2131.6 3201.1h8.7v6h-8.7zM2132.0 3184.3h8.7v6h-8.7zM2131.1 3166.6h8.7v6h-8.7zM2133.1 3149.5h8.7v6h-8.7zM2132.6 3132.2h8.7v6h-8.7zM2133.5 3115.0h8.7v6h-8.7zM2133.7 3098.2h8.7v6h-8.7zM2133.9 3079.9h8.7v6h-8.7zM2134.6 3062.4h8.7v6h-8.7zM2136.0 3044.8h8.7v6h-8.7zM2135.4 3024.1h8.7v6h-8.7zM2136.4 3005.7h8.7v6h-8.7zM2137.0 2985.4h8.7v6h-8.7zM2137.5 2967.6h8.7v6h-8.7zM2137.8 2949.6h8.7v6h-8.7zM2139.4 2931.5h8.7v6h-8.7zM2138.8 2913.7h8.7v6h-8.7zM2138.4 2895.9h8.7v6h-8.7zM2138.9 2876.0h8.7v6h-8.7zM2139.1 2857.4h8.7v6h-8.7zM2139.9 2837.0h8.7v6h-8.7zM2141.2 2819.5h8.7v6h-8.7zM2141.9 2803.3h8.7v6h-8.7zM2141.7 2783.3h8.7v6h-8.7zM2142.2 2764.6h8.7v6h-8.7zM2143.2 2747.2h8.7v6h-8.7zM2145.5 2728.3h8.7v6h-8.7zM2144.4 2711.9h8.7v6h-8.7zM2146.1 2693.2h8.7v6h-8.7zM2145.7 2676.3h8.7v6h-8.7zM2145.5 2658.1h8.7v6h-8.7zM2148.7 2640.7h8.7v6h-8.7zM2148.5 2624.5h8.7v6h-8.7zM2149.8 2608.7h8.7v6h-8.7zM2154.1 2607.6h8.7v6h-8.7zM2155.4 2614.7h8.7v6h-8.7zM2156.9 2626.0h8.7v6h-8.7zM2159.1 2641.5h8.7v6h-8.7zM2158.3 2659.0h8.7v6h-8.7zM2160.5 2677.0h8.7v6h-8.7zM2161.1 2693.7h8.7v6h-8.7zM2161.3 2710.5h8.7v6h-8.7zM2161.5 2730.4h8.7v6h-8.7zM2163.7 2748.8h8.7v6h-8.7zM2163.7 2767.5h8.7v6h-8.7zM2163.6 2786.3h8.7v6h-8.7zM2164.9 2804.0h8.7v6h-8.7zM2165.0 2822.2h8.7v6h-8.7zM2166.2 2841.1h8.7v6h-8.7zM2166.2 2857.4h8.7v6h-8.7zM2167.9 2878.9h8.7v6h-8.7zM2168.4 2895.4h8.7v6h-8.7zM2167.7 2915.4h8.7v6h-8.7zM2168.5 2932.3h8.7v6h-8.7zM2169.7 2953.1h8.7v6h-8.7zM2168.9 2971.1h8.7v6h-8.7zM2169.6 2989.9h8.7v6h-8.7zM2170.8 3009.5h8.7v6h-8.7zM2171.2 3030.4h8.7v6h-8.7zM2171.7 3047.9h8.7v6h-8.7zM2171.8 3066.5h8.7v6h-8.7zM2172.7 3085.5h8.7v6h-8.7zM2172.3 3104.9h8.7v6h-8.7zM2173.9 3123.1h8.7v6h-8.7zM2173.0 3140.2h8.7v6h-8.7zM2173.4 3157.9h8.7v6h-8.7zM2174.8 3176.5h8.7v6h-8.7zM2176.4 3196.1h8.7v6h-8.7zM2174.8 3214.4h8.7v6h-8.7zM2175.7 3232.8h8.7v6h-8.7zM2175.5 3252.2h8.7v6h-8.7zM2175.7 3270.8h8.7v6h-8.7zM2178.2 3290.9h8.7v6h-8.7zM2177.4 3309.6h8.7v6h-8.7zM2178.3 3328.4h8.7v6h-8.7zM2178.2 3347.0h8.7v6h-8.7zM2178.8 3364.5h8.7v6h-8.7zM2179.8 3382.4h8.7v6h-8.7zM2180.5 3399.1h8.7v6h-8.7zM2179.8 3417.9h8.7v6h-8.7zM2180.6 3438.4h8.7v6h-8.7zM2181.2 3453.9h8.7v6h-8.7zM2182.3 3473.6h8.7v6h-8.7zM2182.0 3490.8h8.7v6h-8.7zM2182.4 3508.9h8.7v6h-8.7zM2183.6 3526.0h8.7v6h-8.7zM2184.5 3543.0h8.7v6h-8.7zM2185.5 3562.4h8.7v6h-8.7zM2185.8 3581.5h8.7v6h-8.7zM2185.8 3598.0h8.7v6h-8.7zM2188.2 3617.1h8.7v6h-8.7zM2187.6 3632.0h8.7v6h-8.7zM2189.4 3649.7h8.7v6h-8.7zM2190.3 3666.6h8.7v6h-8.7zM2192.2 3681.8h8.7v6h-8.7zM2195.5 3689.6h8.7v6h-8.7zM2195.7 3684.9h8.7v6h-8.7zM2196.4 3676.2h8.7v6h-8.7zM2199.4 3663.0h8.7v6h-8.7zM2198.7 3647.9h8.7v6h-8.7zM2200.4 3632.7h8.7v6h-8.7zM2201.9 3615.6h8.7v6h-8.7zM2201.9 3596.8h8.7v6h-8.7zM2202.6 3579.8h8.7v6h-8.7zM2203.8 3561.9h8.7v6h-8.7zM2203.0 3544.1h8.7v6h-8.7zM2204.2 3524.9h8.7v6h-8.7zM2204.6 3508.4h8.7v6h-8.7zM2206.4 3490.2h8.7v6h-8.7zM2206.1 3470.5h8.7v6h-8.7zM2207.0 3451.4h8.7v6h-8.7zM2207.0 3432.8h8.7v6h-8.7zM2206.8 3413.7h8.7v6h-8.7zM2207.4 3395.9h8.7v6h-8.7zM2208.1 3377.6h8.7v6h-8.7zM2209.4 3358.5h8.7v6h-8.7zM2210.1 3341.1h8.7v6h-8.7zM2211.5 3323.2h8.7v6h-8.7zM2210.3 3307.2h8.7v6h-8.7zM2211.3 3289.2h8.7v6h-8.7zM2211.5 3272.1h8.7v6h-8.7zM2212.3 3254.8h8.7v6h-8.7zM2211.7 3235.9h8.7v6h-8.7zM2212.9 3217.9h8.7v6h-8.7zM2212.9 3200.3h8.7v6h-8.7zM2213.0 3182.7h8.7v6h-8.7zM2214.6 3162.3h8.7v6h-8.7zM2215.0 3143.5h8.7v6h-8.7zM2215.5 3125.5h8.7v6h-8.7zM2215.6 3108.7h8.7v6h-8.7zM2215.1 3088.3h8.7v6h-8.7zM2216.8 3071.8h8.7v6h-8.7zM2217.6 3053.9h8.7v6h-8.7zM2219.0 3036.3h8.7v6h-8.7zM2218.9 3017.3h8.7v6h-8.7zM2218.3 2998.7h8.7v6h-8.7zM2218.3 2978.3h8.7v6h-8.7zM2220.3 2959.6h8.7v6h-8.7zM2219.1 2941.1h8.7v6h-8.7zM2219.7 2923.6h8.7v6h-8.7zM2221.3 2907.3h8.7v6h-8.7zM2222.3 2888.4h8.7v6h-8.7zM2222.1 2868.8h8.7v6h-8.7zM2222.4 2849.0h8.7v6h-8.7zM2224.2 2829.2h8.7v6h-8.7zM2224.4 2809.7h8.7v6h-8.7zM2224.7 2789.6h8.7v6h-8.7zM2224.7 2772.2h8.7v6h-8.7zM2226.2 2755.7h8.7v6h-8.7zM2225.5 2735.3h8.7v6h-8.7zM2227.2 2716.2h8.7v6h-8.7zM2227.5 2698.2h8.7v6h-8.7zM2227.4 2681.6h8.7v6h-8.7zM2229.3 2661.3h8.7v6h-8.7zM2229.5 2645.3h8.7v6h-8.7zM2232.6 2628.0h8.7v6h-8.7zM2231.9 2613.0h8.7v6h-8.7zM2236.9 2605.5h8.7v6h-8.7zM2237.9 2608.9h8.7v6h-8.7zM2238.3 2618.9h8.7v6h-8.7zM2239.8 2631.4h8.7v6h-8.7zM2240.3 2647.7h8.7v6h-8.7zM2240.6 2662.2h8.7v6h-8.7zM2242.7 2680.7h8.7v6h-8.7zM2243.2 2697.3h8.7v6h-8.7zM2243.7 2714.2h8.7v6h-8.7zM2244.7 2733.0h8.7v6h-8.7zM2244.6 2751.2h8.7v6h-8.7zM2246.7 2769.0h8.7v6h-8.7zM2246.9 2787.8h8.7v6h-8.7zM2246.9 2807.1h8.7v6h-8.7zM2247.3 2825.9h8.7v6h-8.7zM2248.0 2843.4h8.7v6h-8.7zM2248.1 2861.9h8.7v6h-8.7zM2249.2 2883.3h8.7v6h-8.7zM2249.5 2901.2h8.7v6h-8.7zM2249.5 2918.8h8.7v6h-8.7zM2250.1 2936.2h8.7v6h-8.7zM2250.6 2955.7h8.7v6h-8.7zM2251.7 2973.6h8.7v6h-8.7zM2252.2 2993.1h8.7v6h-8.7zM2253.0 3010.3h8.7v6h-8.7zM2251.8 3027.7h8.7v6h-8.7zM2253.4 3045.7h8.7v6h-8.7zM2253.8 3064.4h8.7v6h-8.7zM2254.0 3081.5h8.7v6h-8.7zM2254.1 3100.3h8.7v6h-8.7zM2255.0 3120.3h8.7v6h-8.7zM2256.0 3136.3h8.7v6h-8.7zM2256.7 3158.5h8.7v6h-8.7zM2257.3 3177.5h8.7v6h-8.7zM2256.9 3197.2h8.7v6h-8.7zM2258.2 3215.4h8.7v6h-8.7zM2258.3 3235.2h8.7v6h-8.7zM2258.3 3255.0h8.7v6h-8.7zM2258.4 3270.6h8.7v6h-8.7zM2259.2 3289.6h8.7v6h-8.7zM2260.5 3306.1h8.7v6h-8.7zM2259.4 3326.2h8.7v6h-8.7zM2261.1 3344.3h8.7v6h-8.7zM2261.9 3362.0h8.7v6h-8.7zM2262.2 3380.1h8.7v6h-8.7zM2261.8 3400.2h8.7v6h-8.7zM2262.5 3416.1h8.7v6h-8.7zM2263.2 3435.7h8.7v6h-8.7zM2263.6 3453.1h8.7v6h-8.7zM2264.2 3469.8h8.7v6h-8.7zM2264.2 3489.8h8.7v6h-8.7zM2265.7 3509.2h8.7v6h-8.7zM2266.1 3528.0h8.7v6h-8.7zM2267.5 3545.4h8.7v6h-8.7zM2267.2 3564.7h8.7v6h-8.7zM2268.3 3584.1h8.7v6h-8.7zM2268.6 3601.2h8.7v6h-8.7zM2268.9 3617.7h8.7v6h-8.7zM2270.9 3635.2h8.7v6h-8.7zM2271.3 3653.3h8.7v6h-8.7zM2273.0 3671.1h8.7v6h-8.7zM2274.3 3686.5h8.7v6h-8.7zM2277.1 3686.0h8.7v6h-8.7zM2278.7 3678.7h8.7v6h-8.7zM2280.9 3667.4h8.7v6h-8.7zM2281.2 3653.6h8.7v6h-8.7zM2282.0 3637.9h8.7v6h-8.7zM2282.6 3620.7h8.7v6h-8.7zM2283.5 3603.5h8.7v6h-8.7zM2283.4 3585.8h8.7v6h-8.7zM2285.2 3568.6h8.7v6h-8.7zM2285.3 3548.7h8.7v6h-8.7zM2287.0 3531.0h8.7v6h-8.7zM2287.4 3513.7h8.7v6h-8.7zM2287.0 3495.3h8.7v6h-8.7zM2287.9 3478.0h8.7v6h-8.7zM2288.0 3461.7h8.7v6h-8.7zM2289.3 3441.8h8.7v6h-8.7zM2290.7 3424.4h8.7v6h-8.7zM2289.8 3406.3h8.7v6h-8.7zM2290.7 3389.5h8.7v6h-8.7zM2290.4 3372.5h8.7v6h-8.7zM2291.5 3354.3h8.7v6h-8.7zM2292.1 3336.6h8.7v6h-8.7zM2293.0 3319.9h8.7v6h-8.7zM2292.6 3302.1h8.7v6h-8.7zM2292.7 3284.1h8.7v6h-8.7zM2294.3 3266.7h8.7v6h-8.7zM2294.9 3246.5h8.7v6h-8.7zM2294.8 3230.3h8.7v6h-8.7zM2295.3 3209.8h8.7v6h-8.7zM2295.8 3192.3h8.7v6h-8.7zM2295.6 3174.2h8.7v6h-8.7zM2296.3 3153.3h8.7v6h-8.7z" fill="#000"/><path d="" fill="#000"/>
<path d="M246 3124.6L248 3123.1 250 3123.0 252 3123.1 254 3123.5 256 3127.1 258 3127.8 260 3127.8 262 3128.9 264 3130.0 266 3131.3 268 3135.4 270 3136.5 272 3137.3 274 3138.6 276 3139.0 278 3136.8 280 3137.9 282 3138.8 284 3139.6 286 3144.6 288 3145.1 290 3141.3 292 3141.3 294 3141.0 296 3140.5 298 3144.1 300 3141.9 302 3140.9 304 3139.8 306 3136.5 308 3135.1 310 3133.7 312 3132.3 314 3132.6 316 3131.2 318 3129.1 320 3127.8 322 3126.8 324 3125.8 326 3125.1 328 3124.6 330 3124.7 332 3124.5 334 3124.6 336 3125.8 338 3126.3 340 3126.2 342 3127.0 344 3128.0 346 3129.1 348 3129.9 350 3130.0 352 3131.4 354 3132.7 356 3134.1 358 3135.8 360 3137.0 362 3138.1 364 3140.1 366 3140.9 368 3141.5 370 3142.0 372 3144.1 374 3143.9 376 3143.7 378 3142.6 380 3139.3 382 3138.6 384 3137.6 386 3136.6 388 3137.4 390 3135.5 392 3134.2 394 3132.8 396 3131.4 398 3129.8 400 3125.1 402 3123.9 404 3122.9 406 3122.0 408 3123.3 410 3126.0 412 3126.2 414 3126.1 416 3125.8 418 3126.1 420 3126.5 422 3125.8 424 3125.5 426 3125.8 428 3126.9 430 3127.8 432 3129.1 434 3130.5 436 3131.8 438 3135.8 440 3137.0 442 3138.2 444 3139.3 446 3140.8 448 3133.3 450 3133.9 452 3134.4 454 3134.6 456 3141.7 458 3141.5 460 3143.4 462 3140.0 464 3136.1 466 3135.2 468 3134.1 470 3133.0 472 3134.3 474 3133.2 476 3134.6 478 3132.6 480 3131.3 482 3130.1 484 3127.5 486 3126.5 488 3125.6 490 3125.0 492 3124.5 494 3124.2 496 3124.1 498 3121.3 500 3121.6 502 3122.1 504 3122.8 506 3125.0 508 3128.9 510 3130.1 512 3131.3 514 3133.4 516 3134.7 518 3135.4 520 3136.4 522 3137.7 524 3138.4 526 3139.4 528 3140.4 530 3141.2 532 3143.0 534 3142.5 536 3138.9 538 3138.9 540 3138.7 542 3136.9 544 3136.3 546 3135.5 548 3134.5 550 3136.1 552 3137.0 554 3135.7 556 3136.4 558 3135.0 560 3125.6 562 3124.3 564 3123.0 566 3121.8 568 3126.8 570 3125.9 572 3125.1 574 3122.0 576 3121.7 578 3121.5 580 3121.6 582 3125.3 584 3124.7 586 3125.4 588 3124.3 590 3125.3 592 3126.4 594 3127.7 596 3128.2 598 3129.6 600 3130.0 602 3131.4 604 3132.7 606 3134.0 608 3139.5 610 3134.4 612 3135.2 614 3135.9 616 3136.4 618 3138.3 620 3138.4 622 3143.0 624 3142.7 626 3139.9 628 3139.2 630 3138.3 632 3137.3 634 3138.9 636 3137.2 638 3135.9 640 3134.6 642 3133.3 644 3132.9 646 3129.6 648 3128.4 650 3126.7 652 3125.8 654 3125.1 656 3124.6 658 3125.8 660 3126.6 662 3129.1 664 3128.8 666 3126.2 668 3123.7 670 3124.5 672 3125.5 674 3126.7 676 3131.4 678 3132.7 680 3136.4 682 3135.0 684 3136.4 686 3137.7 688 3138.9 690 3142.0 692 3143.0 694 3144.1 696 3142.1 698 3142.6 700 3142.8 702 3142.8 704 3143.4 706 3143.0 708 3142.4 710 3141.4 712 3140.5 714 3137.5 716 3136.3 718 3135.0 720 3133.7 722 3135.2 724 3133.8 726 3132.5 728 3131.3 730 3130.1 732 3131.1 734 3127.9 736 3127.2 738 3126.7 740 3126.3 742 3127.0 744 3127.7 746 3127.4 748 3127.9 750 3126.0 752 3126.8 754 3127.8 756 3128.9 758 3131.4 760 3132.7 762 3136.6 764 3138.0 766 3137.8 768 3139.1 770 3140.3 772 3141.3 774 3142.3 776 3143.1 778 3144.0 780 3146.0 782 3141.4 784 3141.4 786 3141.2 788 3140.7 790 3141.7 792 3140.9 794 3138.6 796 3137.5 798 3136.3 800 3135.0 802 3135.0 804 3133.6 806 3134.2 808 3132.8 810 3131.5 812 3127.6 814 3126.5 816 3125.6 818 3124.8 820 3123.4 822 3123.0 824 3122.9 826 3122.9 828 3128.5 830 3128.6 832 3129.2 834 3130.1 836 3131.1 838 3131.7 840 3132.4 842 3133.7 844 3134.0 846 3132.2 848 3133.6 850 3134.9 852 3136.1 854 3137.8 856 3140.8 858 3141.7 860 3142.4 862 3143.9 864 3143.4 866 3143.5 868 3142.6 870 3139.8 872 3139.2 874 3138.4 876 3137.6 878 3136.5 880 3135.4 882 3136.5 884 3135.2 886 3133.9 888 3132.7 890 3131.4 892 3130.1 894 3132.2 896 3127.7 898 3126.8 900 3126.0 902 3125.5 904 3127.4 906 3126.8 908 3123.1 910 3123.4 912 3123.8 914 3124.4 916 3127.8 918 3128.9 920 3132.2 922 3133.3 924 3133.8 926 3130.4 928 3131.7 930 3133.0 932 3134.2 934 3138.6 936 3139.7 938 3140.6 940 3141.4 942 3142.0 944 3143.8 946 3144.0 948 3144.0 950 3137.1 952 3136.7 954 3136.1 956 3135.3 958 3138.1 960 3137.0 962 3135.8 964 3132.8 966 3131.5 968 3130.1 970 3128.7 972 3130.4 974 3129.1 976 3127.9 978 3123.5 980 3122.6 982 3121.8 984 3121.3 986 3124.4 988 3124.2 990 3124.3 992 3124.9 994 3126.0 996 3126.6 998 3127.4 1000 3125.4 1002 3126.5 1004 3127.7 1006 3129.0 1008 3133.4 1010 3134.9 1012 3136.3 1014 3137.6 1016 3137.4 1018 3137.6 1020 3136.0 1022 3136.8 1024 3137.5 1026 3137.9 1028 3138.2 1030 3142.9 1032 3143.8 1034 3142.4 1036 3141.9 1038 3139.1 1040 3138.2 1042 3137.1 1044 3135.9 1046 3134.9 1048 3133.5 1050 3132.9 1052 3128.9 1054 3127.6 1056 3126.3 1058 3125.1 1060 3125.3 1062 3124.4 1064 3123.6 1066 3122.7 1068 3122.3 1070 3122.2 1072 3122.2 1074 3124.3 1076 3124.8 1078 3125.4 1080 3126.5 1082 3128.7 1084 3129.9 1086 3126.5 1088 3127.8 1090 3129.2 1092 3130.6 1094 3136.2 1096 3137.5 1098 3138.8 1100 3140.5 1102 3141.6 1104 3142.5 1106 3144.2 1108 3142.9 1110 3143.3 1112 3143.4 1114 3143.3 1116 3142.0 1118 3141.5 1120 3140.8 1122 3140.0 1124 3135.2 1126 3134.1 1128 3132.9 1130 3131.6 1132 3133.9 1134 3131.1 1136 3129.8 1138 3128.6 1140 3127.4 1142 3127.1 1144 3124.0 1146 3123.2 1148 3121.8 1150 3121.4 1152 3121.2 1154 3121.3 1156 3127.0 1158 3127.0 1160 3127.6 1162 3128.4 1164 3128.4 1166 3129.5 1168 3130.7 1170 3131.9 1172 3134.9 1174 3136.2 1176 3137.5 1178 3138.8 1180 3139.2 1182 3140.3 1184 3140.6 1186 3136.7 1188 3137.3 1190 3137.8 1192 3138.0 1194 3143.1 1196 3143.0 1198 3142.6 1200 3142.1 1202 3141.6 1204 3140.0 1206 3138.9 1208 3137.8 1210 3136.5 1212 3136.1 1214 3134.8 1216 3133.4 1218 3128.8 1220 3127.6 1222 3126.4 1224 3125.4 1226 3128.5 1228 3127.8 1230 3122.1 1232 3121.7 1234 3121.5 1236 3121.6 1238 3124.6 1240 3125.1 1242 3125.6 1244 3126.4 1246 3127.3 1248 3128.4 1250 3129.7 1252 3131.0 1254 3133.6 1256 3136.0 1258 3136.8 1260 3138.1 1262 3139.1 1264 3140.3 1266 3141.3 1268 3142.2 1270 3144.0 1272 3144.5 1274 3144.5 1276 3141.7 1278 3141.6 1280 3141.3 1282 3140.8 1284 3141.0 1286 3142.1 1288 3141.1 1290 3139.9 1292 3136.6 1294 3135.3 1296 3134.0 1298 3132.6 1300 3129.8 1302 3128.5 1304 3127.3 1306 3126.3 1308 3124.6 1310 3123.8 1312 3123.3 1314 3117.7 1316 3117.5 1318 3117.5 1320 3117.7 1322 3123.4 1324 3125.1 1326 3125.9 1328 3126.9 1330 3129.0 1332 3130.2 1334 3131.5 1336 3134.6 1338 3134.5 1340 3135.9 1342 3137.2 1344 3138.5 1346 3137.7 1348 3138.7 1350 3139.6 1352 3140.3 1354 3141.6 1356 3141.9 1358 3143.8 1360 3143.7 1362 3143.4 1364 3143.5 1366 3141.9 1368 3141.0 1370 3137.7 1372 3133.8 1374 3132.5 1376 3131.2 1378 3129.9 1380 3132.7 1382 3132.8 1384 3131.5 1386 3130.3 1388 3128.6 1390 3127.6 1392 3126.8 1394 3124.4 1396 3124.0 1398 3123.7 1400 3123.7 1402 3124.0 1404 3124.3 1406 3124.9 1408 3126.9 1410 3126.4 1412 3127.4 1414 3128.5 1416 3129.7 1418 3135.8 1420 3137.1 1422 3138.5 1424 3139.8 1426 3137.2 1428 3138.3 1430 3139.3 1432 3140.1 1434 3141.0 1436 3141.4 1438 3141.7 1440 3141.7 1442 3142.1 1444 3141.7 1446 3142.0 1448 3141.2 1450 3140.9 1452 3139.9 1454 3138.5 1456 3135.5 1458 3134.1 1460 3132.8 1462 3131.4 1464 3130.6 1466 3129.3 1468 3126.1 1470 3125.0 1472 3119.3 1474 3118.5 1476 3117.9 1478 3117.5 1480 3124.8 1482 3124.9 1484 3125.9 1486 3126.3 1488 3124.9 1490 3125.8 1492 3125.8 1494 3126.9 1496 3128.1 1498 3129.4 1500 3132.1 1502 3135.7 1504 3138.3 1506 3137.8 1508 3139.0 1510 3140.2 1512 3141.2 1514 3142.6 1516 3143.3 1518 3142.5 1520 3142.8 1522 3142.9 1524 3142.8 1526 3143.3 1528 3142.8 1530 3142.1 1532 3137.6 1534 3136.6 1536 3135.4 1538 3134.1 1540 3132.8 1542 3131.4 1544 3130.0 1546 3131.8 1548 3129.3 1550 3128.1 1552 3127.0 1554 3126.0 1556 3123.2 1558 3122.6 1560 3122.1 1562 3121.9 1564 3123.2 1566 3123.4 1568 3123.8 1570 3122.7 1572 3123.5 1574 3124.4 1576 3125.5 1578 3131.9 1580 3125.0 1582 3126.3 1584 3127.7 1586 3129.0 1588 3132.7 1590 3134.0 1592 3134.2 1594 3135.2 1596 3136.1 1598 3136.8 1600 3141.5 1602 3141.9 1604 3141.0 1606 3137.1 1608 3136.8 1610 3136.3 1612 3135.6 1614 3140.9 1616 3139.9 1618 3135.3 1620 3134.1 1622 3131.9 1624 3130.6 1626 3129.2 1628 3127.8 1630 3129.6 1632 3129.0 1634 3127.6 1636 3126.6 1638 3124.5 1640 3123.8 1642 3123.4 1644 3123.1 1646 3125.0 1648 3123.3 1650 3123.6 1652 3124.2 1654 3124.9 1656 3126.7 1658 3127.8 1660 3128.0 1662 3129.3 1664 3130.6 1666 3131.9 1668 3134.4 1670 3135.0 1672 3136.2 1674 3137.3 1676 3138.3 1678 3140.3 1680 3134.9 1682 3135.4 1684 3135.7 1686 3135.9 1688 3140.8 1690 3141.1 1692 3140.6 1694 3139.9 1696 3139.0 1698 3135.8 1700 3134.7 1702 3133.5 1704 3132.2 1706 3133.9 1708 3134.5 1710 3132.5 1712 3128.8 1714 3127.5 1716 3126.4 1718 3125.5 1720 3124.8 1722 3125.9 1724 3125.5 1726 3125.3 1728 3125.4 1730 3127.3 1732 3127.8 1734 3128.7 1736 3126.5 1738 3127.5 1740 3128.6 1742 3129.9 1744 3132.3 1746 3133.7 1748 3135.4 1750 3136.8 1752 3138.9 1754 3140.2 1756 3141.4 1758 3142.7 1760 3138.6 1762 3139.3 1764 3139.9 1766 3140.3 1768 3144.9 1770 3144.8 1772 3144.5 1774 3141.5 1776 3140.3 1778 3139.4 1780 3138.4 1782 3137.3 1784 3136.2 1786 3135.5 1788 3134.8 1790 3131.9 1792 3130.6 1794 3129.2 1796 3128.0 1798 3130.1 1800 3126.9 1802 3126.1 1804 3125.4 1806 3125.0 1808 3125.9 1810 3125.8 1812 3122.4 1814 3122.8 1816 3123.4 1818 3124.1 1820 3128.1 1822 3129.0 1824 3130.2 1826 3129.2 1828 3130.6 1830 3131.9 1832 3133.3 1834 3135.4 1836 3136.6 1838 3138.8 1840 3139.8 1842 3140.3 1844 3141.0 1846 3141.6 1848 3141.9 1850 3142.5 1852 3140.6 1854 3140.4 1856 3139.9 1858 3139.2 1860 3142.4 1862 3139.5 1864 3138.4 1866 3137.2 1868 3135.9 1870 3131.2 1872 3129.9 1874 3128.5 1876 3127.3 1878 3123.8 1880 3122.7 1882 3121.8 1884 3121.0 1886 3120.9 1888 3120.5 1890 3123.9 1892 3123.9 1894 3124.1 1896 3126.9 1898 3127.5 1900 3128.3 1902 3129.2 1904 3130.3 1906 3127.8 1908 3129.0 1910 3130.4 1912 3131.7 1914 3134.1 1916 3135.4 1918 3140.3 1920 3141.4 1922 3142.6 1924 3143.5 1926 3142.9 1928 3143.4 1930 3143.7 1932 3143.9 1934 3144.1 1936 3143.8 1938 3142.7 1940 3142.0 1942 3141.2 1944 3140.2 1946 3139.5 1948 3138.3 1950 3136.3 1952 3135.0 1954 3133.6 1956 3132.3 1958 3128.7 1960 3127.5 1962 3126.5 1964 3125.5 1966 3126.7 1968 3126.1 1970 3125.7 1972 3123.7 1974 3123.7 1976 3123.9 1978 3124.3 1980 3128.7 1982 3126.2 1984 3127.1 1986 3128.2 1988 3129.4 1990 3127.1 1992 3128.5 1994 3129.9 1996 3131.3 1998 3138.0 2000 3135.2 2002 3136.4 2004 3137.5 2006 3138.4 2008 3141.0 2010 3142.1 2012 3142.5 2014 3142.6 2016 3142.5 2018 3144.1 2020 3143.6 2022 3142.9 2024 3143.3 2026 3142.3 2028 3138.8 2030 3137.5 2032 3136.1 2034 3134.7 2036 3135.6 2038 3134.4 2040 3131.4 2042 3128.5 2044 3127.3 2046 3124.8 2048 3123.2 2050 3121.5 2052 3120.9 2054 3120.6 2056 3120.5 2058 3121.5 2060 3121.8 2062 3122.8 2064 3124.2 2066 3125.0 2068 3126.0 2070 3130.7 2072 3131.9 2074 3130.0 2076 3131.3 2078 3132.6 2080 3133.9 2082 3138.7 2084 3139.9 2086 3141.6 2088 3141.9 2090 3140.7 2092 3141.2 2094 3141.5 2096 3141.7 2098 3144.9 2100 3140.0 2102 3139.5 2104 3138.9 2106 3138.0 2108 3137.3 2110 3136.2 2112 3134.9 2114 3135.5 2116 3132.2 2118 3130.9 2120 3129.5 2122 3128.2 2124 3128.0 2126 3126.9 2128 3126.0 2130 3125.2 2132 3125.1 2134 3124.7 2136 3121.8 2138 3121.8 2140 3121.9 2142 3122.3 2144 3125.9 2146 3125.6 2148 3126.5 2150 3127.5 2152 3128.7 2154 3132.1 2156 3133.4 2158 3136.0 2160 3134.8 2162 3136.1 2164 3137.4 2166 3138.6 2168 3137.1 2170 3138.0 2172 3138.7 2174 3139.3 2176 3142.7 2178 3142.9 2180 3142.6 2182 3142.3 2184 3141.9 2186 3141.2 2188 3142.9 2190 3141.4 2192 3140.3 2194 3138.2 2196 3134.0 2198 3132.7 2200 3131.3 2202 3130.0 2204 3128.1 2206 3125.4 2208 3124.3 2210 3123.3 2212 3122.5 2214 3123.7 2216 3120.3 2218 3120.1 2220 3120.0 2222 3120.2 2224 3123.1 2226 3123.7 2228 3125.6 2230 3129.1 2232 3130.1 2234 3132.2 2236 3127.8 2238 3129.2 2240 3130.6 2242 3131.9 2244 3138.4 2246 3137.0 2248 3138.2 2250 3139.3 2252 3140.2 2254 3140.4 2256 3140.9 2258 3141.3 2260 3141.4 2262 3142.1 2264 3142.7 2266 3140.8 2268 3140.2 2270 3139.3 2272 3138.3 2274 3138.2 2276 3136.9 2278 3135.6 2280 3134.2 2282 3134.0 2284 3132.6 2286 3132.0 2288 3126.6 2290 3124.8 2292 3123.8 2294 3122.9 2296 3122.2 2298 3124.7 2300 3124.8 2302 3124.7 2304 3127.4 2304 3151.8 2302 3151.7 2300 3152.0 2298 3153.2 2296 3154.4 2294 3155.1 2292 3156.0 2290 3157.0 2288 3155.6 2286 3157.0 2284 3158.4 2282 3159.8 2280 3161.8 2278 3163.2 2276 3164.6 2274 3165.8 2272 3169.1 2270 3170.1 2268 3170.9 2266 3171.6 2264 3173.3 2262 3173.5 2260 3173.6 2258 3173.4 2256 3170.1 2254 3169.5 2252 3168.8 2250 3167.9 2248 3171.5 2246 3170.3 2244 3169.0 2242 3167.7 2240 3161.8 2238 3160.5 2236 3163.1 2234 3161.8 2232 3160.7 2230 3159.6 2228 3157.2 2226 3156.4 2224 3155.8 2222 3155.5 2220 3159.0 2218 3159.0 2216 3159.3 2214 3159.7 2212 3154.5 2210 3155.4 2208 3156.3 2206 3157.4 2204 3156.6 2202 3157.9 2200 3159.2 2198 3160.5 2196 3161.8 2194 3163.1 2192 3165.8 2190 3166.9 2188 3167.9 2186 3168.7 2184 3168.6 2182 3171.3 2180 3171.6 2178 3171.6 2176 3171.5 2174 3168.3 2172 3167.8 2170 3167.3 2168 3166.4 2166 3165.3 2164 3164.2 2162 3162.8 2160 3163.3 2158 3162.0 2156 3160.6 2154 3159.3 2152 3156.1 2150 3157.9 2148 3156.8 2146 3155.9 2144 3156.5 2142 3155.9 2140 3155.6 2138 3155.4 2136 3153.3 2134 3153.5 2132 3154.0 2130 3156.5 2128 3157.3 2126 3158.2 2124 3159.3 2122 3157.8 2120 3158.4 2118 3164.0 2116 3165.3 2114 3166.9 2112 3168.2 2110 3169.4 2108 3170.5 2106 3171.4 2104 3168.8 2102 3169.9 2100 3170.4 2098 3170.6 2096 3170.7 2094 3170.7 2092 3170.4 2090 3169.9 2088 3169.1 2086 3170.6 2084 3169.5 2082 3170.6 2080 3169.4 2078 3168.1 2076 3166.8 2074 3158.8 2072 3157.6 2070 3156.3 2068 3158.5 2066 3157.5 2064 3156.6 2062 3156.0 2060 3150.7 2058 3152.3 2056 3152.6 2054 3152.8 2052 3153.3 2050 3153.9 2048 3158.5 2046 3159.4 2044 3160.5 2042 3161.7 2040 3158.7 2038 3159.1 2036 3159.9 2034 3161.3 2032 3163.3 2030 3164.7 2028 3166.7 2026 3170.1 2024 3171.1 2022 3172.0 2020 3172.7 2018 3170.0 2016 3174.8 2014 3174.9 2012 3174.8 2010 3174.4 2008 3171.2 2006 3170.5 2004 3169.6 2002 3168.5 2000 3168.1 1998 3166.8 1996 3165.5 1994 3164.1 1992 3160.6 1990 3159.3 1988 3158.0 1986 3156.5 1984 3157.6 1982 3161.0 1980 3160.2 1978 3159.6 1976 3159.2 1974 3153.3 1972 3153.3 1970 3153.5 1968 3155.5 1966 3156.1 1964 3158.0 1962 3158.9 1960 3160.0 1958 3161.2 1956 3160.6 1954 3161.9 1952 3163.2 1950 3164.2 1948 3163.0 1946 3166.9 1944 3169.0 1942 3170.8 1940 3171.7 1938 3172.3 1936 3172.8 1934 3172.6 1932 3172.7 1930 3172.1 1928 3171.7 1926 3168.9 1924 3168.4 1922 3167.6 1920 3166.8 1918 3165.6 1916 3164.9 1914 3166.2 1912 3164.9 1910 3163.5 1908 3162.2 1906 3160.5 1904 3159.3 1902 3157.8 1900 3156.9 1898 3156.1 1896 3155.1 1894 3154.7 1892 3154.6 1890 3153.4 1888 3153.6 1886 3154.1 1884 3154.8 1882 3155.6 1880 3156.5 1878 3159.3 1876 3160.5 1874 3161.8 1872 3163.1 1870 3163.6 1868 3165.0 1866 3166.3 1864 3167.4 1862 3168.5 1860 3169.4 1858 3170.2 1856 3170.8 1854 3170.9 1852 3169.0 1850 3168.9 1848 3168.6 1846 3172.8 1844 3172.3 1842 3171.6 1840 3171.5 1838 3170.5 1836 3169.3 1834 3168.0 1832 3163.8 1830 3162.5 1828 3162.6 1826 3161.2 1824 3160.0 1822 3158.8 1820 3159.8 1818 3158.9 1816 3158.1 1814 3157.6 1812 3153.2 1810 3153.4 1808 3153.5 1806 3155.3 1804 3155.7 1802 3156.7 1800 3157.6 1798 3158.5 1796 3159.7 1794 3160.9 1792 3162.2 1790 3163.6 1788 3165.3 1786 3166.7 1784 3168.0 1782 3169.2 1780 3170.1 1778 3170.5 1776 3170.2 1774 3170.9 1772 3171.4 1770 3171.6 1768 3171.0 1766 3170.9 1764 3170.5 1762 3169.6 1760 3168.8 1758 3167.9 1756 3166.8 1754 3167.2 1752 3165.9 1750 3164.5 1748 3163.1 1746 3159.9 1744 3159.1 1742 3157.8 1740 3156.5 1738 3155.4 1736 3153.3 1734 3152.5 1732 3153.3 1730 3154.5 1728 3154.2 1726 3154.2 1724 3154.3 1722 3153.7 1720 3154.3 1718 3153.6 1716 3154.5 1714 3154.7 1712 3155.8 1710 3159.8 1708 3161.2 1706 3162.5 1704 3163.8 1702 3162.7 1700 3165.8 1698 3168.2 1696 3169.2 1694 3170.0 1692 3170.7 1690 3172.3 1688 3172.6 1686 3172.7 1684 3172.6 1682 3169.9 1680 3169.4 1678 3168.7 1676 3167.8 1674 3164.8 1672 3163.7 1670 3166.6 1668 3165.4 1666 3164.0 1664 3162.7 1662 3158.2 1660 3156.3 1658 3155.2 1656 3155.2 1654 3154.3 1652 3155.8 1650 3155.2 1648 3154.9 1646 3154.7 1644 3151.3 1642 3151.6 1640 3152.0 1638 3152.3 1636 3153.1 1634 3154.6 1632 3156.1 1630 3157.3 1628 3158.6 1626 3160.0 1624 3160.9 1622 3162.2 1620 3163.8 1618 3165.5 1616 3166.7 1614 3167.7 1612 3168.6 1610 3167.7 1608 3169.7 1606 3170.0 1604 3170.1 1602 3170.8 1600 3170.4 1598 3171.1 1596 3170.4 1594 3169.5 1592 3168.5 1590 3165.4 1588 3164.1 1586 3160.9 1584 3160.9 1582 3159.5 1580 3158.2 1578 3156.9 1576 3156.7 1574 3156.9 1572 3156.0 1570 3155.2 1568 3155.4 1566 3155.0 1564 3154.8 1562 3154.9 1560 3154.2 1558 3154.6 1556 3155.3 1554 3155.0 1552 3156.0 1550 3160.6 1548 3161.8 1546 3163.1 1544 3164.7 1542 3166.1 1540 3167.4 1538 3168.8 1536 3165.9 1534 3167.1 1532 3167.3 1530 3168.1 1528 3168.9 1526 3169.4 1524 3170.8 1522 3170.9 1520 3170.8 1518 3170.5 1516 3169.8 1514 3169.1 1512 3168.5 1510 3168.9 1508 3167.8 1506 3167.4 1504 3166.1 1502 3164.7 1500 3163.3 1498 3157.9 1496 3157.9 1494 3158.9 1492 3157.8 1490 3156.8 1488 3156.0 1486 3154.8 1484 3154.1 1482 3153.9 1480 3153.9 1478 3151.8 1476 3154.0 1474 3154.6 1472 3155.3 1470 3156.2 1468 3155.0 1466 3158.0 1464 3160.7 1462 3163.4 1460 3164.8 1458 3166.2 1456 3167.5 1454 3165.0 1452 3166.9 1450 3167.9 1448 3168.8 1446 3169.6 1444 3170.7 1442 3171.1 1440 3171.2 1438 3171.2 1436 3170.2 1434 3173.3 1432 3172.6 1430 3171.8 1428 3170.9 1426 3168.2 1424 3167.0 1422 3165.8 1420 3164.5 1418 3162.0 1416 3160.7 1414 3159.1 1412 3158.0 1410 3157.0 1408 3156.1 1406 3157.3 1404 3156.7 1402 3156.3 1400 3156.2 1398 3155.7 1396 3155.6 1394 3156.0 1392 3156.7 1390 3158.0 1388 3158.9 1386 3160.0 1384 3161.3 1382 3162.7 1380 3164.0 1378 3165.4 1376 3168.3 1374 3169.7 1372 3170.9 1370 3172.0 1368 3172.0 1366 3172.9 1364 3173.6 1362 3173.8 1360 3174.2 1358 3174.2 1356 3174.1 1354 3173.4 1352 3169.1 1350 3168.7 1348 3171.8 1346 3170.8 1344 3169.6 1342 3168.3 1340 3164.0 1338 3165.5 1336 3164.1 1334 3162.7 1332 3161.4 1330 3155.1 1328 3154.0 1326 3158.6 1324 3157.8 1322 3157.2 1320 3156.7 1318 3155.2 1316 3155.6 1314 3155.8 1312 3156.1 1310 3156.7 1308 3156.0 1306 3156.9 1304 3158.0 1302 3160.2 1300 3161.5 1298 3162.8 1296 3165.2 1294 3166.5 1292 3167.9 1290 3169.1 1288 3167.4 1286 3168.4 1284 3169.3 1282 3170.0 1280 3170.4 1278 3170.7 1276 3170.9 1274 3174.7 1272 3174.4 1270 3173.9 1268 3173.2 1266 3170.3 1264 3171.1 1262 3170.0 1260 3168.7 1258 3167.4 1256 3161.9 1254 3161.5 1252 3160.1 1250 3158.8 1248 3157.6 1246 3155.1 1244 3158.8 1242 3158.0 1240 3159.6 1238 3159.1 1236 3158.9 1234 3158.8 1232 3156.1 1230 3156.4 1228 3153.1 1226 3153.8 1224 3154.4 1222 3158.7 1220 3159.9 1218 3162.7 1216 3164.0 1214 3165.4 1212 3166.7 1210 3167.4 1208 3168.7 1206 3169.8 1204 3170.9 1202 3168.8 1200 3169.6 1198 3169.6 1196 3170.0 1194 3169.8 1192 3171.1 1190 3170.9 1188 3170.4 1186 3169.8 1184 3169.8 1182 3168.8 1180 3167.7 1178 3166.5 1176 3163.2 1174 3161.9 1172 3162.3 1170 3161.0 1168 3159.8 1166 3158.6 1164 3156.7 1162 3155.7 1160 3152.8 1158 3154.2 1156 3154.1 1154 3153.9 1152 3153.9 1150 3155.2 1148 3155.6 1146 3156.2 1144 3162.7 1142 3163.7 1140 3164.7 1138 3165.9 1136 3161.1 1134 3162.4 1132 3163.1 1130 3164.8 1128 3166.1 1126 3167.3 1124 3168.5 1122 3168.0 1120 3168.8 1118 3169.5 1116 3170.0 1114 3174.5 1112 3174.6 1110 3174.5 1108 3174.1 1106 3173.1 1104 3172.3 1102 3171.4 1100 3170.4 1098 3166.6 1096 3165.3 1094 3161.5 1092 3160.0 1090 3158.5 1088 3157.1 1086 3155.8 1084 3155.8 1082 3154.6 1080 3153.6 1078 3152.8 1076 3153.1 1074 3155.9 1072 3155.6 1070 3155.6 1068 3156.8 1066 3157.2 1064 3157.7 1062 3158.5 1060 3155.7 1058 3156.8 1056 3158.0 1054 3159.3 1052 3159.2 1050 3159.8 1048 3161.2 1046 3166.4 1044 3167.7 1042 3168.9 1040 3169.9 1038 3168.5 1036 3169.3 1034 3169.8 1032 3170.0 1030 3170.2 1028 3168.4 1026 3170.2 1024 3169.9 1022 3169.3 1020 3168.5 1018 3167.5 1016 3165.4 1014 3163.2 1012 3163.4 1010 3162.0 1008 3160.7 1006 3162.3 1004 3161.0 1002 3159.8 1000 3158.7 998 3154.1 996 3153.3 994 3150.5 992 3150.9 990 3150.9 988 3150.9 986 3151.0 984 3151.7 982 3152.3 980 3153.1 978 3154.0 976 3157.5 974 3158.7 972 3160.0 970 3161.3 968 3160.5 966 3161.9 964 3165.2 962 3166.5 960 3167.8 958 3168.9 956 3169.8 954 3170.6 952 3170.6 950 3169.0 948 3168.9 946 3169.7 944 3169.5 942 3170.0 940 3169.4 938 3168.6 936 3167.7 934 3169.0 932 3167.8 930 3166.5 928 3165.2 926 3163.2 924 3161.9 922 3160.0 920 3158.8 918 3157.7 916 3156.8 914 3157.3 912 3156.6 910 3156.2 908 3156.0 906 3151.9 904 3154.3 902 3154.6 900 3157.8 898 3158.6 896 3159.5 894 3160.5 892 3159.1 890 3160.3 888 3161.6 886 3161.9 884 3163.2 882 3167.8 880 3169.1 878 3170.2 876 3171.2 874 3169.0 872 3169.7 870 3169.5 868 3169.5 866 3169.6 864 3169.5 862 3170.6 860 3177.7 858 3177.0 856 3176.1 854 3175.1 852 3167.2 850 3165.9 848 3164.6 846 3163.7 844 3162.3 842 3160.9 840 3159.6 838 3157.3 836 3159.4 834 3158.4 832 3157.6 830 3156.9 828 3156.0 826 3156.0 824 3156.0 822 3156.1 820 3156.5 818 3155.5 816 3155.6 814 3157.7 812 3158.8 810 3160.0 808 3161.3 806 3159.9 804 3161.3 802 3163.0 800 3164.4 798 3165.8 796 3167.0 794 3172.5 792 3173.5 790 3174.3 788 3177.9 786 3178.3 784 3178.5 782 3178.5 780 3173.6 778 3173.2 776 3172.6 774 3167.6 772 3166.7 770 3165.1 768 3163.3 766 3162.8 764 3161.7 762 3162.4 760 3161.0 758 3159.7 756 3158.5 754 3157.2 752 3156.2 750 3158.6 748 3158.0 746 3157.5 744 3157.4 742 3157.3 740 3157.5 738 3157.8 736 3156.9 734 3153.4 732 3155.5 730 3158.2 728 3159.4 726 3160.6 724 3161.9 722 3161.8 720 3164.8 718 3166.1 716 3167.4 714 3169.1 712 3170.1 710 3171.0 708 3171.8 706 3177.4 704 3177.7 702 3177.9 700 3177.9 698 3170.7 696 3170.7 694 3170.3 692 3169.6 690 3168.6 688 3167.5 686 3166.3 684 3164.5 682 3163.3 680 3161.9 678 3160.5 676 3159.4 674 3158.2 672 3157.1 670 3156.1 668 3155.3 666 3155.3 664 3156.3 662 3156.0 660 3156.0 658 3156.1 656 3154.9 654 3155.5 652 3155.7 650 3158.3 648 3159.3 646 3160.4 644 3161.6 642 3159.0 640 3162.7 638 3164.0 636 3165.3 634 3166.5 632 3167.0 630 3168.1 628 3168.9 626 3169.6 624 3170.0 622 3170.4 620 3169.3 618 3172.3 616 3172.0 614 3171.5 612 3170.8 610 3166.0 608 3166.2 606 3165.0 604 3163.7 602 3162.4 600 3161.3 598 3166.8 596 3165.5 594 3164.1 592 3162.9 590 3155.6 588 3154.6 586 3153.7 584 3151.6 582 3151.1 580 3156.0 578 3156.0 576 3156.1 574 3156.4 572 3152.2 570 3153.5 568 3154.4 566 3155.5 564 3156.7 562 3155.9 560 3158.0 558 3159.7 556 3162.0 554 3163.4 552 3164.7 550 3165.9 548 3166.1 546 3169.2 544 3170.1 542 3170.7 540 3171.1 538 3170.7 536 3170.7 534 3172.5 532 3172.1 530 3171.5 528 3170.7 526 3170.6 524 3169.5 522 3168.3 520 3167.0 518 3162.8 516 3161.4 514 3159.7 512 3160.1 510 3158.9 508 3159.1 506 3158.1 504 3157.2 502 3156.5 500 3158.3 498 3158.0 496 3157.8 494 3157.9 492 3154.6 490 3153.0 488 3153.7 486 3154.5 484 3156.4 482 3159.2 480 3160.4 478 3163.3 476 3164.6 474 3165.9 472 3167.2 470 3164.2 468 3165.4 466 3168.5 464 3169.4 462 3170.2 460 3170.7 458 3169.9 456 3170.1 454 3170.2 452 3170.0 450 3169.5 448 3170.4 446 3169.6 444 3168.6 442 3167.6 440 3164.8 438 3163.5 436 3162.2 434 3160.8 432 3159.1 430 3157.8 428 3154.8 426 3154.2 424 3154.5 422 3154.2 420 3153.5 418 3153.1 416 3152.8 414 3151.2 412 3151.7 410 3152.1 408 3152.6 406 3153.3 404 3153.5 402 3154.6 400 3155.7 398 3156.5 396 3162.1 394 3163.4 392 3164.8 390 3166.1 388 3166.9 386 3168.0 384 3169.1 382 3170.0 380 3169.0 378 3169.6 376 3172.9 374 3173.1 372 3173.1 370 3172.8 368 3169.2 366 3168.8 364 3168.0 362 3167.0 360 3168.0 358 3166.8 356 3165.6 354 3164.2 352 3159.8 350 3158.2 348 3158.8 346 3158.8 344 3157.6 342 3156.7 340 3155.8 338 3155.0 336 3154.6 334 3154.7 332 3154.7 330 3154.8 328 3155.2 326 3154.6 324 3155.4 322 3156.3 320 3157.5 318 3158.8 316 3160.1 314 3161.5 312 3161.0 310 3167.4 308 3168.8 306 3170.2 304 3171.4 302 3168.8 300 3168.8 298 3169.7 296 3170.3 294 3169.9 292 3170.8 290 3170.9 288 3170.8 286 3170.4 284 3171.8 282 3171.0 280 3170.1 278 3169.1 276 3169.5 274 3168.2 272 3166.9 270 3165.5 268 3161.0 266 3161.4 264 3160.1 262 3159.0 260 3158.0 258 3158.4 256 3158.3 254 3157.7 252 3157.4 250 3157.2 248 3154.9 246 3154.8Z" fill="#f00"/>
</g>
<text x="247.5" y="4050.3" font-size="62.8" fill="#262626" class="g" text-anchor="middle">0</text>
<text x="452.7" y="4050.3" font-size="62.8" fill="#262626" class="g" text-anchor="middle">0.5</text>
<text x="657.8" y="4050.3" font-size="62.8" fill="#262626" class="g" text-anchor="middle">1</text>
<text x="863.0" y="4050.3" font-size="62.8" fill="#262626" class="g" text-anchor="middle">1.5</text>
<text x="1068.1" y="4050.3" font-size="62.8" fill="#262626" class="g" text-anchor="middle">2</text>
<text x="1273.3" y="4050.3" font-size="62.8" fill="#262626" class="g" text-anchor="middle">2.5</text>
<text x="1478.5" y="4050.3" font-size="62.8" fill="#262626" class="g" text-anchor="middle">3</text>
<text x="1683.6" y="4050.3" font-size="62.8" fill="#262626" class="g" text-anchor="middle">3.5</text>
<text x="1888.8" y="4050.3" font-size="62.8" fill="#262626" class="g" text-anchor="middle">4</text>
<text x="2093.9" y="4050.3" font-size="62.8" fill="#262626" class="g" text-anchor="middle">4.5</text>
<text x="2299.1" y="4050.3" font-size="62.8" fill="#262626" class="g" text-anchor="middle">5</text>
<text x="218.2" y="3810.5" font-size="62.8" fill="#262626" class="g" text-anchor="end">-10</text>
<text x="222.2" y="3492.0" font-size="62.8" fill="#262626" class="g" text-anchor="end">-5</text>
<text x="221.0" y="3173.5" font-size="62.8" fill="#262626" class="g" text-anchor="end">0</text>
<text x="221.0" y="2855.0" font-size="62.8" fill="#262626" class="g" text-anchor="end">5</text>
<text x="221.0" y="2536.5" font-size="62.8" fill="#262626" class="g" text-anchor="end">10</text>
<text x="1271.4" y="4140.6" font-size="69.1" fill="#262626" class="g" text-anchor="middle">Time(sec)</text>
<text transform="translate(90.5 3150.6) rotate(-90)" font-size="69.7" fill="#262626" class="g" text-anchor="middle">Position(um)</text>
<text x="371.5" y="2276.6" font-size="69.4" fill="#000" class="k" text-anchor="start" ><tspan>Attenuation rate at 5Hz. with C</tspan><tspan dx="1" dy="33" font-size="55.3">conv</tspan><tspan dx="0" dy="-33">:91.9%, with C</tspan><tspan dx="1" dy="33" font-size="55.3">opt</tspan><tspan dx="0" dy="-33">:95.5%</tspan></text>
<rect x="1700.9" y="2400.9" width="538.8" height="307.4" fill="#fff" stroke="#262626" stroke-width="4.0"/>
<path d="M1718.9 2445.6H1895" stroke="#000" stroke-width="8.2" stroke-dasharray="5.7 13.3"/>
<path d="M1718.9 2539H1909.8" stroke="#00f" stroke-width="8.2" stroke-dasharray="39.3 12.7 11.2 12.4"/>
<path d="M1718.9 2645.6H1909.8" stroke="#f00" stroke-width="10.9"/>
<text x="1923.3" y="2470.9" font-size="56.6" fill="#000" class="k">OIS disable</text>
<text x="1922.0" y="2551.6" font-size="56.6" fill="#000" class="k" text-anchor="start" ><tspan>with C</tspan><tspan dx="4" dy="28" font-size="45.3">conv</tspan></text>
<text x="1922.0" y="2655.3" font-size="56.6" fill="#000" class="k" text-anchor="start" ><tspan>with C</tspan><tspan dx="4" dy="28" font-size="45.3">opt</tspan></text>
<text transform="translate(1228.1 4310.0) scale(1.065 1)" class="cap" font-size="71" fill="#000" text-anchor="middle">(b)</text>
</svg></body></html>
